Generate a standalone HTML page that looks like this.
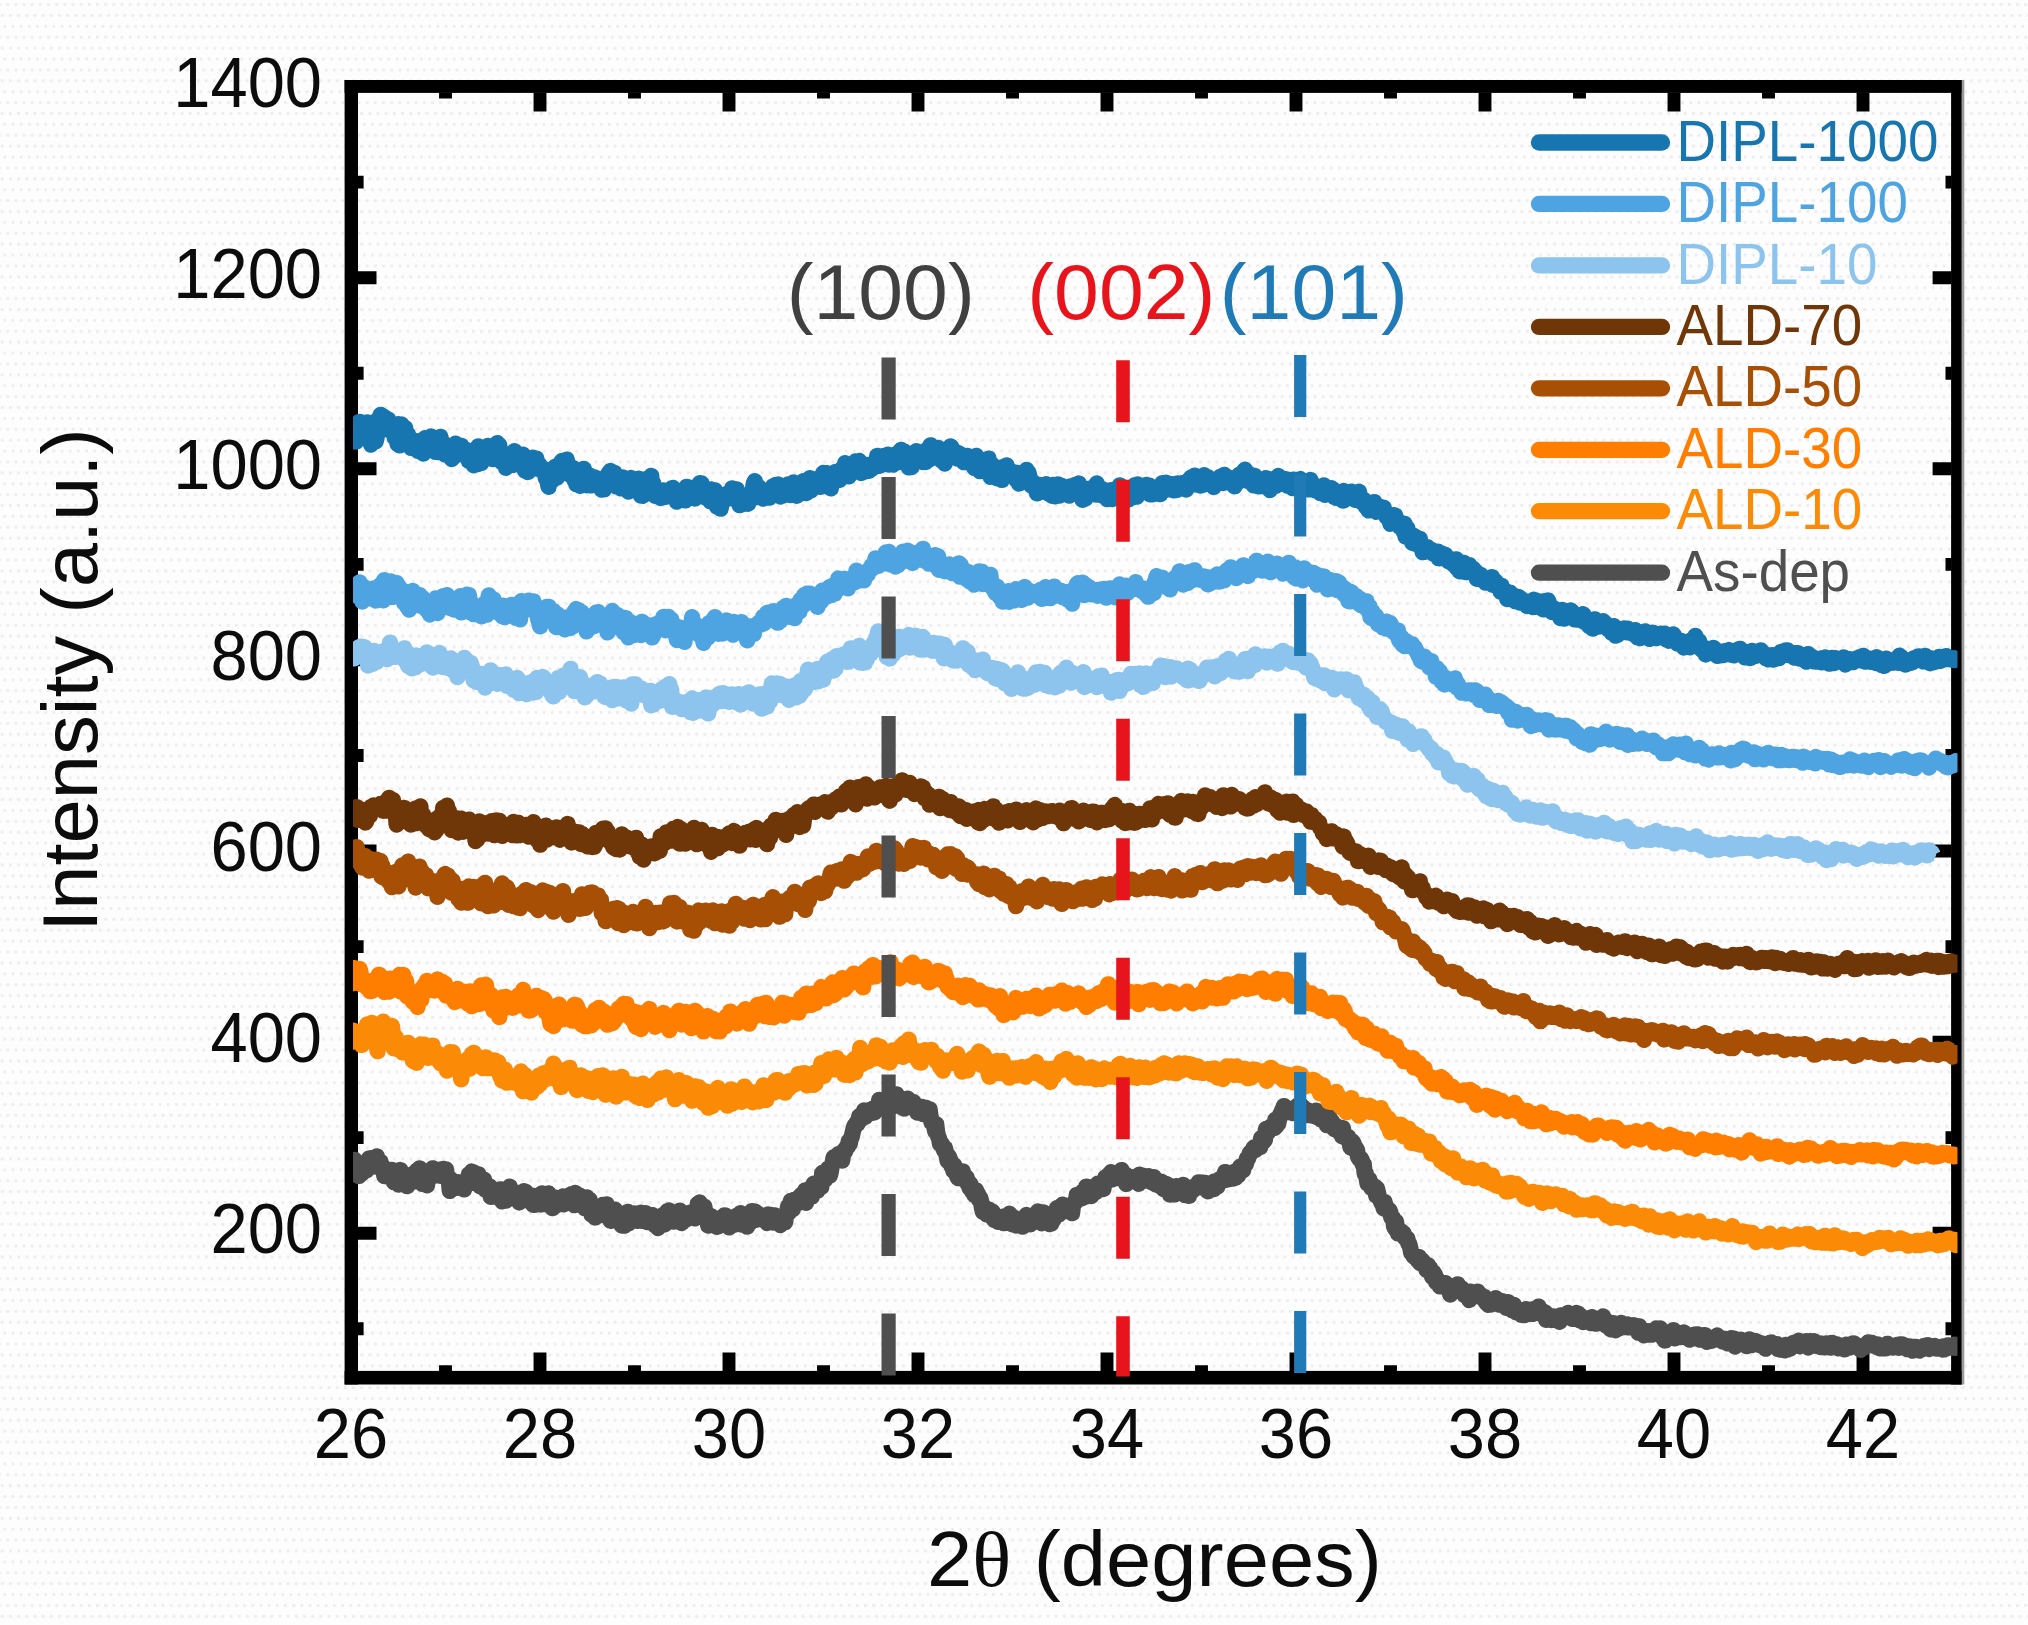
<!DOCTYPE html>
<html lang="en"><head><meta charset="utf-8"><title>XRD patterns</title>
<style>html,body{margin:0;padding:0;background:#fdfdfd}svg{display:block}</style></head>
<body>
<svg width="2028" height="1625" viewBox="0 0 2028 1625">
<rect width="2028" height="1625" fill="#fdfdfd"/>
<defs><pattern id="dots" width="8.17" height="32.67" patternUnits="userSpaceOnUse" patternTransform="translate(1967 3.1)"><rect x="0" y="0" width="3" height="3" fill="#eeeeee"/><rect x="2.72" y="10.89" width="3" height="3" fill="#eeeeee"/><rect x="5.45" y="21.78" width="3" height="3" fill="#eeeeee"/></pattern></defs>
<rect width="2028" height="1625" fill="url(#dots)"/>
<g fill="#000">
<rect x="344.6" y="80.0" width="1617.2" height="12.9"/>
<rect x="344.6" y="1370.9" width="1617.2" height="13.6"/>
<rect x="344.6" y="80.0" width="13.4" height="1304.5"/>
<rect x="1951.1" y="80.0" width="10.7" height="1304.5"/>
<rect x="1961.8" y="80.0" width="2.5" height="1304.5" fill="#9a9a9a"/>
</g>
<path d="M445.5 1371.4 v-6.1 M445.5 92.4 v6.1 M540.0 1371.4 v-19.0 M540.0 92.4 v19.0 M634.5 1371.4 v-6.1 M634.5 92.4 v6.1 M729.0 1371.4 v-19.0 M729.0 92.4 v19.0 M823.5 1371.4 v-6.1 M823.5 92.4 v6.1 M918.0 1371.4 v-19.0 M918.0 92.4 v19.0 M1012.5 1371.4 v-6.1 M1012.5 92.4 v6.1 M1107.0 1371.4 v-19.0 M1107.0 92.4 v19.0 M1201.5 1371.4 v-6.1 M1201.5 92.4 v6.1 M1296.0 1371.4 v-19.0 M1296.0 92.4 v19.0 M1390.5 1371.4 v-6.1 M1390.5 92.4 v6.1 M1485.0 1371.4 v-19.0 M1485.0 92.4 v19.0 M1579.5 1371.4 v-6.1 M1579.5 92.4 v6.1 M1674.0 1371.4 v-19.0 M1674.0 92.4 v19.0 M1768.5 1371.4 v-6.1 M1768.5 92.4 v6.1 M1863.0 1371.4 v-19.0 M1863.0 92.4 v19.0 M357.5 1328.8 h6.1 M1951.6 1328.8 h-6.1 M357.5 1233.2 h19.0 M1951.6 1233.2 h-19.0 M357.5 1137.6 h6.1 M1951.6 1137.6 h-6.1 M357.5 1042.1 h19.0 M1951.6 1042.1 h-19.0 M357.5 946.6 h6.1 M1951.6 946.6 h-6.1 M357.5 851.0 h19.0 M1951.6 851.0 h-19.0 M357.5 755.5 h6.1 M1951.6 755.5 h-6.1 M357.5 659.9 h19.0 M1951.6 659.9 h-19.0 M357.5 564.4 h6.1 M1951.6 564.4 h-6.1 M357.5 468.8 h19.0 M1951.6 468.8 h-19.0 M357.5 373.2 h6.1 M1951.6 373.2 h-6.1 M357.5 277.7 h19.0 M1951.6 277.7 h-19.0 M357.5 182.1 h6.1 M1951.6 182.1 h-6.1" stroke="#000" stroke-width="12.9" fill="none"/>
<clipPath id="cp"><rect x="353" y="0" width="1604.5" height="1625"/></clipPath>
<g fill="none" stroke-linejoin="round" stroke-linecap="butt" stroke-width="16.3" clip-path="url(#cp)">
<path stroke="#4f4f4f" d="M352.0 1158.8 L352.9 1161.4 L353.9 1160.6 L354.8 1159.9 L355.8 1163.6 L356.7 1163.2 L357.7 1169.3 L358.6 1176.0 L359.6 1169.2 L360.5 1169.2 L361.5 1173.8 L362.4 1172.7 L363.4 1170.9 L364.3 1165.6 L365.3 1168.3 L366.2 1170.5 L367.2 1161.3 L368.1 1164.6 L369.1 1158.4 L370.0 1160.8 L371.0 1158.3 L371.9 1164.7 L372.9 1160.2 L373.8 1166.5 L374.8 1165.9 L375.7 1164.5 L376.7 1156.4 L377.6 1163.7 L378.6 1166.4 L379.5 1167.9 L380.5 1161.9 L381.4 1167.2 L382.4 1166.0 L383.3 1167.6 L384.3 1176.0 L385.2 1168.8 L386.2 1172.3 L387.1 1176.4 L388.1 1170.6 L389.0 1172.8 L390.0 1174.2 L390.9 1174.6 L391.9 1170.0 L392.8 1176.1 L393.8 1182.1 L394.7 1170.8 L395.7 1181.0 L396.6 1178.0 L397.6 1174.5 L398.5 1184.6 L399.5 1178.7 L400.4 1170.0 L401.4 1175.0 L402.3 1177.4 L403.3 1175.2 L404.2 1180.0 L405.2 1178.2 L406.1 1182.3 L407.1 1186.2 L408.0 1177.9 L409.0 1181.5 L409.9 1178.4 L410.9 1180.3 L411.8 1174.3 L412.8 1176.1 L413.7 1177.0 L414.7 1180.8 L415.6 1181.2 L416.6 1170.7 L417.5 1172.7 L418.5 1178.7 L419.4 1168.4 L420.4 1175.3 L421.3 1177.5 L422.3 1183.8 L423.2 1182.0 L424.2 1178.3 L425.1 1178.3 L426.1 1178.6 L427.0 1185.3 L428.0 1176.7 L428.9 1176.1 L429.9 1177.5 L430.8 1174.4 L431.8 1173.0 L432.7 1168.3 L433.7 1171.9 L434.6 1169.5 L435.6 1175.5 L436.5 1173.1 L437.5 1170.3 L438.4 1173.3 L439.4 1169.6 L440.3 1175.8 L441.3 1172.3 L442.2 1175.5 L443.2 1168.9 L444.1 1176.6 L445.1 1169.6 L446.0 1169.4 L447.0 1177.6 L447.9 1176.4 L448.9 1181.8 L449.8 1190.9 L450.8 1179.4 L451.7 1180.8 L452.7 1184.4 L453.6 1185.8 L454.6 1183.4 L455.5 1183.6 L456.5 1187.8 L457.4 1187.8 L458.4 1182.2 L459.3 1186.6 L460.3 1187.3 L461.2 1182.8 L462.2 1187.7 L463.1 1182.7 L464.1 1189.4 L465.0 1185.7 L466.0 1184.7 L466.9 1181.4 L467.9 1182.6 L468.8 1174.3 L469.8 1176.9 L470.7 1182.1 L471.7 1171.5 L472.6 1182.8 L473.6 1172.3 L474.5 1182.3 L475.5 1176.3 L476.4 1183.1 L477.4 1180.8 L478.3 1174.4 L479.3 1185.5 L480.2 1186.3 L481.2 1180.5 L482.1 1180.1 L483.1 1181.5 L484.0 1179.6 L485.0 1189.5 L485.9 1184.8 L486.9 1188.4 L487.8 1186.7 L488.8 1188.2 L489.7 1186.3 L490.7 1196.8 L491.6 1191.7 L492.6 1196.7 L493.5 1193.6 L494.5 1191.4 L495.4 1193.3 L496.4 1192.6 L497.3 1194.9 L498.3 1193.4 L499.2 1193.6 L500.2 1189.3 L501.1 1191.6 L502.1 1201.4 L503.0 1192.4 L504.0 1191.0 L504.9 1196.5 L505.9 1200.5 L506.8 1188.9 L507.8 1193.4 L508.7 1191.3 L509.7 1186.6 L510.6 1196.4 L511.6 1193.8 L512.5 1194.8 L513.5 1192.4 L514.4 1198.0 L515.4 1194.8 L516.3 1196.8 L517.3 1193.3 L518.2 1192.9 L519.2 1202.5 L520.1 1194.7 L521.1 1197.0 L522.0 1194.7 L523.0 1192.2 L523.9 1191.2 L524.9 1195.4 L525.8 1192.0 L526.8 1193.2 L527.7 1195.0 L528.7 1200.8 L529.6 1200.4 L530.6 1200.6 L531.5 1198.0 L532.5 1195.6 L533.4 1204.9 L534.4 1204.9 L535.3 1200.3 L536.3 1202.5 L537.2 1203.0 L538.2 1202.9 L539.1 1203.0 L540.1 1197.3 L541.0 1204.5 L542.0 1193.3 L542.9 1200.8 L543.9 1198.9 L544.8 1200.1 L545.8 1204.1 L546.7 1203.1 L547.7 1194.1 L548.6 1193.4 L549.6 1204.6 L550.5 1199.0 L551.5 1204.1 L552.4 1208.1 L553.4 1199.0 L554.3 1197.3 L555.3 1206.1 L556.2 1205.1 L557.2 1203.7 L558.1 1204.6 L559.1 1201.0 L560.0 1198.2 L561.0 1203.0 L561.9 1199.5 L562.9 1196.5 L563.8 1204.3 L564.8 1201.8 L565.7 1203.2 L566.7 1197.3 L567.6 1197.8 L568.6 1195.6 L569.5 1195.2 L570.5 1198.5 L571.4 1194.2 L572.4 1198.3 L573.3 1198.4 L574.3 1205.1 L575.2 1192.8 L576.2 1202.2 L577.1 1199.2 L578.1 1200.2 L579.0 1195.3 L580.0 1199.5 L580.9 1204.4 L581.9 1201.7 L582.8 1202.8 L583.8 1202.0 L584.7 1208.2 L585.7 1204.6 L586.6 1197.3 L587.6 1203.8 L588.5 1199.7 L589.5 1199.6 L590.4 1206.6 L591.4 1214.5 L592.3 1210.7 L593.3 1207.1 L594.2 1209.0 L595.2 1217.5 L596.1 1214.4 L597.1 1214.1 L598.0 1213.6 L599.0 1213.3 L599.9 1215.3 L600.9 1213.2 L601.8 1210.7 L602.8 1205.0 L603.7 1210.1 L604.7 1205.4 L605.6 1212.4 L606.6 1204.3 L607.5 1209.7 L608.5 1211.6 L609.4 1208.1 L610.4 1220.7 L611.3 1220.8 L612.3 1214.5 L613.2 1219.8 L614.2 1218.9 L615.1 1209.7 L616.1 1219.3 L617.0 1218.7 L618.0 1219.9 L618.9 1216.2 L619.9 1219.8 L620.8 1220.5 L621.8 1225.6 L622.7 1222.2 L623.7 1220.4 L624.6 1225.6 L625.6 1217.4 L626.5 1217.6 L627.5 1211.8 L628.4 1223.6 L629.4 1220.5 L630.3 1219.3 L631.3 1217.5 L632.2 1214.8 L633.2 1214.9 L634.1 1213.3 L635.1 1213.9 L636.0 1215.2 L637.0 1220.9 L637.9 1217.5 L638.9 1215.2 L639.8 1213.1 L640.8 1212.7 L641.7 1220.9 L642.7 1217.1 L643.6 1215.9 L644.6 1215.1 L645.5 1213.2 L646.5 1217.9 L647.4 1222.2 L648.4 1218.2 L649.3 1219.3 L650.3 1219.7 L651.2 1221.1 L652.2 1215.1 L653.1 1220.4 L654.1 1218.6 L655.0 1225.4 L656.0 1219.8 L656.9 1224.8 L657.9 1228.0 L658.8 1220.8 L659.8 1219.0 L660.7 1221.1 L661.7 1219.6 L662.6 1215.2 L663.6 1219.7 L664.5 1224.4 L665.5 1215.3 L666.4 1214.7 L667.4 1211.1 L668.3 1215.9 L669.3 1210.5 L670.2 1211.5 L671.2 1220.7 L672.1 1213.2 L673.1 1220.4 L674.0 1221.6 L675.0 1216.4 L675.9 1216.8 L676.9 1221.4 L677.8 1213.6 L678.8 1212.6 L679.7 1210.7 L680.7 1216.8 L681.6 1223.1 L682.6 1222.1 L683.5 1215.9 L684.5 1216.3 L685.4 1217.2 L686.4 1219.3 L687.3 1216.4 L688.3 1216.6 L689.2 1215.7 L690.2 1212.6 L691.1 1212.8 L692.1 1213.3 L693.0 1212.1 L694.0 1213.9 L694.9 1218.4 L695.9 1213.3 L696.8 1210.8 L697.8 1203.9 L698.7 1210.9 L699.7 1202.5 L700.6 1204.6 L701.6 1213.1 L702.5 1213.3 L703.5 1211.2 L704.4 1206.7 L705.4 1212.8 L706.3 1213.0 L707.3 1218.9 L708.2 1225.6 L709.2 1219.5 L710.1 1216.7 L711.1 1216.0 L712.0 1220.5 L713.0 1220.7 L713.9 1217.8 L714.9 1222.8 L715.8 1218.7 L716.8 1226.8 L717.7 1226.5 L718.7 1226.1 L719.6 1219.9 L720.6 1222.6 L721.5 1219.6 L722.5 1218.2 L723.4 1218.3 L724.4 1215.3 L725.3 1215.6 L726.3 1224.4 L727.2 1221.9 L728.2 1224.1 L729.1 1227.3 L730.1 1217.9 L731.0 1221.0 L732.0 1223.8 L732.9 1223.8 L733.9 1220.3 L734.8 1224.5 L735.8 1221.1 L736.7 1215.7 L737.7 1216.6 L738.6 1222.6 L739.6 1221.4 L740.5 1213.2 L741.5 1224.5 L742.4 1221.9 L743.4 1224.5 L744.3 1218.5 L745.3 1218.7 L746.2 1215.5 L747.2 1226.7 L748.1 1217.9 L749.1 1223.5 L750.0 1215.3 L751.0 1217.8 L751.9 1211.1 L752.9 1215.2 L753.8 1219.6 L754.8 1211.7 L755.7 1219.8 L756.7 1217.6 L757.6 1213.4 L758.6 1216.1 L759.5 1217.0 L760.5 1219.1 L761.4 1217.9 L762.4 1217.2 L763.3 1219.1 L764.3 1216.7 L765.2 1215.8 L766.2 1220.0 L767.1 1223.0 L768.1 1214.5 L769.0 1219.3 L770.0 1216.6 L770.9 1214.9 L771.9 1220.8 L772.8 1215.8 L773.8 1222.7 L774.7 1215.3 L775.7 1219.9 L776.6 1218.7 L777.6 1217.9 L778.5 1223.5 L779.5 1221.9 L780.4 1225.1 L781.4 1223.1 L782.3 1219.2 L783.3 1221.7 L784.2 1220.9 L785.2 1222.2 L786.1 1213.7 L787.1 1214.3 L788.0 1206.3 L789.0 1212.3 L789.9 1204.6 L790.9 1200.8 L791.8 1205.9 L792.8 1209.3 L793.7 1200.0 L794.7 1201.1 L795.6 1201.7 L796.6 1199.4 L797.5 1203.4 L798.5 1198.0 L799.4 1197.0 L800.4 1200.3 L801.3 1194.9 L802.3 1198.4 L803.2 1193.3 L804.2 1192.5 L805.1 1190.4 L806.1 1202.9 L807.0 1195.2 L808.0 1196.4 L808.9 1194.3 L809.9 1193.5 L810.8 1191.7 L811.8 1196.6 L812.7 1185.8 L813.7 1183.6 L814.6 1185.3 L815.6 1184.1 L816.5 1190.9 L817.5 1190.7 L818.4 1183.8 L819.4 1181.1 L820.3 1183.0 L821.3 1186.9 L822.2 1173.0 L823.2 1180.3 L824.1 1173.5 L825.1 1179.6 L826.0 1171.7 L827.0 1173.7 L827.9 1168.8 L828.9 1169.4 L829.8 1175.7 L830.8 1171.9 L831.7 1165.9 L832.7 1162.5 L833.6 1157.4 L834.6 1160.9 L835.5 1160.8 L836.5 1159.5 L837.4 1158.4 L838.4 1154.1 L839.3 1156.7 L840.3 1156.0 L841.2 1159.5 L842.2 1160.6 L843.1 1153.2 L844.1 1150.2 L845.0 1151.6 L846.0 1148.6 L846.9 1146.6 L847.9 1146.8 L848.8 1141.1 L849.8 1143.7 L850.7 1138.5 L851.7 1136.9 L852.6 1132.8 L853.6 1128.5 L854.5 1125.6 L855.5 1125.9 L856.4 1123.0 L857.4 1124.0 L858.3 1121.9 L859.3 1116.3 L860.2 1120.1 L861.2 1114.7 L862.1 1116.5 L863.1 1116.9 L864.0 1110.5 L865.0 1117.0 L865.9 1116.4 L866.9 1114.6 L867.8 1112.9 L868.8 1112.3 L869.7 1109.8 L870.7 1111.8 L871.6 1110.8 L872.6 1112.8 L873.5 1108.3 L874.5 1112.4 L875.4 1111.2 L876.4 1109.1 L877.3 1106.8 L878.3 1108.5 L879.2 1099.8 L880.2 1105.4 L881.1 1103.8 L882.1 1103.5 L883.0 1103.9 L884.0 1101.2 L884.9 1103.5 L885.9 1107.4 L886.8 1107.6 L887.8 1107.1 L888.7 1101.2 L889.7 1106.9 L890.6 1107.8 L891.6 1106.1 L892.5 1102.6 L893.5 1096.2 L894.4 1104.0 L895.4 1100.7 L896.3 1094.4 L897.3 1103.2 L898.2 1097.6 L899.2 1098.6 L900.1 1100.9 L901.1 1107.0 L902.0 1101.7 L903.0 1103.8 L903.9 1108.6 L904.9 1108.1 L905.8 1102.7 L906.8 1102.1 L907.7 1098.6 L908.7 1100.1 L909.6 1103.5 L910.6 1103.5 L911.5 1103.0 L912.5 1106.5 L913.4 1101.9 L914.4 1105.3 L915.3 1109.1 L916.3 1109.9 L917.2 1112.5 L918.2 1111.4 L919.1 1109.9 L920.1 1112.6 L921.0 1108.6 L922.0 1106.8 L922.9 1114.0 L923.9 1112.3 L924.8 1113.8 L925.8 1107.9 L926.7 1112.7 L927.7 1112.6 L928.6 1112.5 L929.6 1109.2 L930.5 1116.5 L931.5 1122.3 L932.4 1123.0 L933.4 1122.5 L934.3 1126.9 L935.3 1131.7 L936.2 1124.4 L937.2 1132.7 L938.1 1136.4 L939.1 1138.6 L940.0 1143.8 L941.0 1144.2 L941.9 1143.9 L942.9 1146.2 L943.8 1149.9 L944.8 1147.8 L945.7 1151.3 L946.7 1156.1 L947.6 1161.1 L948.6 1156.2 L949.5 1158.2 L950.5 1160.8 L951.4 1166.2 L952.4 1164.0 L953.3 1170.8 L954.3 1165.4 L955.2 1169.8 L956.2 1171.6 L957.1 1176.2 L958.1 1178.1 L959.0 1170.9 L960.0 1173.0 L960.9 1177.0 L961.9 1173.9 L962.8 1171.4 L963.8 1179.6 L964.7 1178.5 L965.7 1179.4 L966.6 1177.5 L967.6 1183.7 L968.5 1181.7 L969.5 1188.1 L970.4 1184.3 L971.4 1186.8 L972.3 1191.9 L973.3 1190.3 L974.2 1195.0 L975.2 1193.8 L976.1 1190.4 L977.1 1194.0 L978.0 1194.0 L979.0 1199.8 L979.9 1197.2 L980.9 1200.1 L981.8 1207.1 L982.8 1211.7 L983.7 1212.4 L984.7 1207.6 L985.6 1209.2 L986.6 1214.4 L987.5 1210.6 L988.5 1209.3 L989.4 1213.9 L990.4 1216.0 L991.3 1213.1 L992.3 1211.4 L993.2 1212.9 L994.2 1220.0 L995.1 1216.4 L996.1 1218.9 L997.0 1220.3 L998.0 1221.8 L998.9 1219.0 L999.9 1221.6 L1000.8 1217.4 L1001.8 1218.9 L1002.7 1216.8 L1003.7 1223.2 L1004.6 1219.5 L1005.6 1217.2 L1006.5 1218.2 L1007.5 1218.4 L1008.4 1220.9 L1009.4 1213.7 L1010.3 1215.0 L1011.3 1216.7 L1012.2 1224.3 L1013.2 1220.6 L1014.1 1217.8 L1015.1 1220.9 L1016.0 1225.6 L1017.0 1219.3 L1017.9 1219.5 L1018.9 1224.6 L1019.8 1222.6 L1020.8 1223.2 L1021.7 1219.6 L1022.7 1226.7 L1023.6 1225.9 L1024.6 1222.5 L1025.5 1222.9 L1026.5 1215.0 L1027.4 1223.3 L1028.4 1221.3 L1029.3 1223.5 L1030.3 1224.4 L1031.2 1221.2 L1032.2 1216.7 L1033.1 1222.0 L1034.1 1217.9 L1035.0 1218.3 L1036.0 1216.9 L1036.9 1217.3 L1037.9 1211.5 L1038.8 1221.4 L1039.8 1218.4 L1040.7 1220.7 L1041.7 1223.2 L1042.6 1217.5 L1043.6 1212.5 L1044.5 1215.9 L1045.5 1216.0 L1046.4 1219.2 L1047.4 1222.0 L1048.3 1216.7 L1049.3 1224.1 L1050.2 1218.7 L1051.2 1223.6 L1052.1 1221.6 L1053.1 1219.8 L1054.0 1218.9 L1055.0 1215.7 L1055.9 1213.4 L1056.9 1208.2 L1057.8 1210.9 L1058.8 1214.5 L1059.7 1213.4 L1060.7 1210.6 L1061.6 1208.4 L1062.6 1204.6 L1063.5 1211.4 L1064.5 1208.0 L1065.4 1208.9 L1066.4 1209.1 L1067.3 1210.8 L1068.3 1209.4 L1069.2 1210.0 L1070.2 1206.3 L1071.1 1207.2 L1072.1 1213.1 L1073.0 1204.9 L1074.0 1202.5 L1074.9 1202.9 L1075.9 1201.6 L1076.8 1194.8 L1077.8 1196.1 L1078.7 1198.4 L1079.7 1195.8 L1080.6 1194.8 L1081.6 1198.5 L1082.5 1191.6 L1083.5 1193.3 L1084.4 1191.2 L1085.4 1196.7 L1086.3 1186.6 L1087.3 1190.3 L1088.2 1190.7 L1089.2 1194.2 L1090.1 1194.0 L1091.1 1196.1 L1092.0 1187.4 L1093.0 1193.8 L1093.9 1190.4 L1094.9 1189.0 L1095.8 1192.0 L1096.8 1187.4 L1097.7 1183.7 L1098.7 1188.1 L1099.6 1184.3 L1100.6 1186.0 L1101.5 1188.0 L1102.5 1186.7 L1103.4 1189.0 L1104.4 1182.5 L1105.3 1177.3 L1106.3 1178.2 L1107.2 1176.7 L1108.2 1175.1 L1109.1 1179.3 L1110.1 1176.0 L1111.0 1172.1 L1112.0 1179.5 L1112.9 1177.1 L1113.9 1178.1 L1114.8 1176.9 L1115.8 1177.7 L1116.7 1175.4 L1117.7 1178.1 L1118.6 1175.3 L1119.6 1174.9 L1120.5 1175.0 L1121.5 1170.1 L1122.4 1174.5 L1123.4 1175.3 L1124.3 1177.7 L1125.3 1174.6 L1126.2 1184.0 L1127.2 1180.7 L1128.1 1177.7 L1129.1 1176.7 L1130.0 1180.7 L1131.0 1181.0 L1131.9 1178.8 L1132.9 1180.5 L1133.8 1177.9 L1134.8 1180.8 L1135.7 1176.8 L1136.7 1178.3 L1137.6 1180.8 L1138.6 1183.8 L1139.5 1174.6 L1140.5 1176.1 L1141.4 1175.3 L1142.4 1180.3 L1143.3 1175.8 L1144.3 1178.5 L1145.2 1180.6 L1146.2 1178.6 L1147.1 1179.1 L1148.1 1180.6 L1149.0 1176.2 L1150.0 1178.1 L1150.9 1180.9 L1151.9 1182.5 L1152.8 1181.5 L1153.8 1177.1 L1154.7 1180.8 L1155.7 1184.4 L1156.6 1184.1 L1157.6 1182.8 L1158.5 1181.1 L1159.5 1185.8 L1160.4 1183.0 L1161.4 1181.7 L1162.3 1182.8 L1163.3 1189.0 L1164.2 1185.6 L1165.2 1188.3 L1166.1 1184.0 L1167.1 1188.4 L1168.0 1185.0 L1169.0 1187.2 L1169.9 1194.6 L1170.9 1191.6 L1171.8 1188.8 L1172.8 1190.5 L1173.7 1191.9 L1174.7 1194.4 L1175.6 1189.7 L1176.6 1186.1 L1177.5 1189.5 L1178.5 1189.6 L1179.4 1189.1 L1180.4 1191.6 L1181.3 1188.4 L1182.3 1189.6 L1183.2 1184.9 L1184.2 1190.9 L1185.1 1195.2 L1186.1 1192.5 L1187.0 1191.7 L1188.0 1191.7 L1188.9 1195.9 L1189.9 1188.1 L1190.8 1189.7 L1191.8 1190.5 L1192.7 1190.5 L1193.7 1186.7 L1194.6 1188.1 L1195.6 1186.0 L1196.5 1186.5 L1197.5 1185.4 L1198.4 1182.3 L1199.4 1185.1 L1200.3 1187.4 L1201.3 1182.6 L1202.2 1184.8 L1203.2 1187.4 L1204.1 1183.0 L1205.1 1186.3 L1206.0 1183.0 L1207.0 1188.6 L1207.9 1191.3 L1208.9 1190.7 L1209.8 1184.7 L1210.8 1187.2 L1211.7 1185.6 L1212.7 1185.5 L1213.6 1189.2 L1214.6 1181.3 L1215.5 1187.1 L1216.5 1183.5 L1217.4 1186.6 L1218.4 1182.5 L1219.3 1179.4 L1220.3 1181.0 L1221.2 1181.5 L1222.2 1179.1 L1223.1 1179.8 L1224.1 1176.7 L1225.0 1172.1 L1226.0 1179.8 L1226.9 1179.0 L1227.9 1177.3 L1228.8 1176.8 L1229.8 1179.0 L1230.7 1174.8 L1231.7 1173.9 L1232.6 1175.1 L1233.6 1178.5 L1234.5 1171.6 L1235.5 1177.8 L1236.4 1172.2 L1237.4 1170.1 L1238.3 1175.2 L1239.3 1170.6 L1240.2 1166.6 L1241.2 1168.2 L1242.1 1170.6 L1243.1 1170.2 L1244.0 1164.6 L1245.0 1165.1 L1245.9 1164.0 L1246.9 1158.5 L1247.8 1159.1 L1248.8 1156.4 L1249.7 1153.5 L1250.7 1152.1 L1251.6 1152.2 L1252.6 1150.8 L1253.5 1148.0 L1254.5 1147.2 L1255.4 1150.0 L1256.4 1146.7 L1257.3 1147.4 L1258.3 1147.0 L1259.2 1144.2 L1260.2 1147.1 L1261.1 1138.1 L1262.1 1141.0 L1263.0 1137.0 L1264.0 1141.3 L1264.9 1139.7 L1265.9 1129.0 L1266.8 1130.1 L1267.8 1132.6 L1268.7 1131.4 L1269.7 1129.8 L1270.6 1126.6 L1271.6 1127.1 L1272.5 1127.2 L1273.5 1125.3 L1274.4 1128.1 L1275.4 1119.7 L1276.3 1126.1 L1277.3 1120.6 L1278.2 1123.7 L1279.2 1118.5 L1280.1 1114.6 L1281.1 1115.6 L1282.0 1110.5 L1283.0 1108.9 L1283.9 1106.1 L1284.9 1109.2 L1285.8 1110.1 L1286.8 1111.3 L1287.7 1108.6 L1288.7 1112.0 L1289.6 1109.9 L1290.6 1110.0 L1291.5 1111.9 L1292.5 1113.2 L1293.4 1109.5 L1294.4 1109.4 L1295.3 1109.1 L1296.3 1109.1 L1297.2 1106.0 L1298.2 1110.2 L1299.1 1106.2 L1300.1 1108.3 L1301.0 1105.3 L1302.0 1108.7 L1302.9 1109.4 L1303.9 1108.0 L1304.8 1114.6 L1305.8 1111.1 L1306.7 1115.2 L1307.7 1113.9 L1308.6 1110.7 L1309.6 1112.4 L1310.5 1115.3 L1311.5 1115.2 L1312.4 1115.7 L1313.4 1115.2 L1314.3 1111.6 L1315.3 1115.5 L1316.2 1110.7 L1317.2 1117.3 L1318.1 1115.0 L1319.1 1115.6 L1320.0 1117.6 L1321.0 1119.5 L1321.9 1116.1 L1322.9 1115.9 L1323.8 1118.1 L1324.8 1116.1 L1325.7 1118.9 L1326.7 1125.1 L1327.6 1118.6 L1328.6 1122.6 L1329.5 1117.6 L1330.5 1121.8 L1331.4 1120.8 L1332.4 1122.3 L1333.3 1124.9 L1334.3 1129.1 L1335.2 1126.8 L1336.2 1127.9 L1337.1 1126.5 L1338.1 1131.2 L1339.0 1130.0 L1340.0 1133.1 L1340.9 1131.4 L1341.9 1136.2 L1342.8 1128.0 L1343.8 1133.1 L1344.7 1137.3 L1345.7 1135.8 L1346.6 1136.2 L1347.6 1138.8 L1348.5 1137.2 L1349.5 1141.6 L1350.4 1147.3 L1351.4 1145.6 L1352.3 1141.2 L1353.3 1143.0 L1354.2 1145.6 L1355.2 1150.7 L1356.1 1148.2 L1357.1 1150.5 L1358.0 1156.4 L1359.0 1158.6 L1359.9 1158.0 L1360.9 1158.7 L1361.8 1160.2 L1362.8 1164.8 L1363.7 1163.9 L1364.7 1173.6 L1365.6 1172.9 L1366.6 1178.0 L1367.5 1183.4 L1368.5 1183.6 L1369.4 1179.8 L1370.4 1185.9 L1371.3 1187.9 L1372.3 1184.7 L1373.2 1185.5 L1374.2 1188.9 L1375.1 1186.9 L1376.1 1195.6 L1377.0 1188.6 L1378.0 1192.9 L1378.9 1196.6 L1379.9 1198.5 L1380.8 1201.3 L1381.8 1203.4 L1382.7 1203.9 L1383.7 1208.4 L1384.6 1202.0 L1385.6 1208.0 L1386.5 1207.2 L1387.5 1210.1 L1388.4 1211.4 L1389.4 1210.1 L1390.3 1212.3 L1391.3 1217.5 L1392.2 1218.5 L1393.2 1218.2 L1394.1 1226.5 L1395.1 1228.7 L1396.0 1221.9 L1397.0 1227.5 L1397.9 1233.3 L1398.9 1231.3 L1399.8 1231.2 L1400.8 1231.3 L1401.7 1231.5 L1402.7 1233.3 L1403.6 1233.5 L1404.6 1237.7 L1405.5 1236.7 L1406.5 1238.4 L1407.4 1238.8 L1408.4 1243.7 L1409.3 1244.0 L1410.3 1247.9 L1411.2 1252.8 L1412.2 1253.3 L1413.1 1255.5 L1414.1 1256.7 L1415.0 1257.3 L1416.0 1257.7 L1416.9 1257.9 L1417.9 1260.7 L1418.8 1256.9 L1419.8 1263.0 L1420.7 1260.7 L1421.7 1259.9 L1422.6 1261.5 L1423.6 1262.1 L1424.5 1265.2 L1425.5 1264.4 L1426.4 1270.0 L1427.4 1267.1 L1428.3 1265.3 L1429.3 1270.0 L1430.2 1268.2 L1431.2 1273.6 L1432.1 1276.8 L1433.1 1276.6 L1434.0 1273.0 L1435.0 1275.2 L1435.9 1281.9 L1436.9 1279.7 L1437.8 1280.0 L1438.8 1283.2 L1439.7 1286.4 L1440.7 1285.0 L1441.6 1283.0 L1442.6 1284.1 L1443.5 1285.3 L1444.5 1283.3 L1445.4 1283.1 L1446.4 1286.5 L1447.3 1285.1 L1448.3 1288.0 L1449.2 1289.1 L1450.2 1294.5 L1451.1 1288.1 L1452.1 1289.9 L1453.0 1289.6 L1454.0 1290.5 L1454.9 1291.3 L1455.9 1287.4 L1456.8 1286.3 L1457.8 1284.3 L1458.7 1286.1 L1459.7 1289.8 L1460.6 1289.4 L1461.6 1288.1 L1462.5 1290.6 L1463.5 1292.7 L1464.4 1295.0 L1465.4 1293.6 L1466.3 1295.2 L1467.3 1292.3 L1468.2 1294.0 L1469.2 1300.0 L1470.1 1291.6 L1471.1 1295.5 L1472.0 1296.6 L1473.0 1295.2 L1473.9 1294.2 L1474.9 1295.8 L1475.8 1295.9 L1476.8 1295.7 L1477.7 1291.7 L1478.7 1295.4 L1479.6 1293.9 L1480.6 1294.6 L1481.5 1296.6 L1482.5 1297.9 L1483.4 1299.2 L1484.4 1297.0 L1485.3 1301.1 L1486.3 1302.7 L1487.2 1303.6 L1488.2 1304.9 L1489.1 1302.1 L1490.1 1302.3 L1491.0 1304.5 L1492.0 1299.6 L1492.9 1302.7 L1493.9 1300.9 L1494.8 1301.1 L1495.8 1298.2 L1496.7 1300.0 L1497.7 1302.0 L1498.6 1304.1 L1499.6 1304.6 L1500.5 1302.5 L1501.5 1302.4 L1502.4 1301.2 L1503.4 1303.9 L1504.3 1302.7 L1505.3 1304.9 L1506.2 1307.8 L1507.2 1304.6 L1508.1 1302.2 L1509.1 1304.2 L1510.0 1303.5 L1511.0 1304.5 L1511.9 1310.1 L1512.9 1308.2 L1513.8 1304.9 L1514.8 1310.1 L1515.7 1312.1 L1516.7 1309.5 L1517.6 1309.7 L1518.6 1311.0 L1519.5 1312.8 L1520.5 1313.7 L1521.4 1314.9 L1522.4 1314.9 L1523.3 1314.8 L1524.3 1315.1 L1525.2 1313.6 L1526.2 1309.1 L1527.1 1312.0 L1528.1 1312.9 L1529.0 1311.4 L1530.0 1313.9 L1530.9 1310.9 L1531.9 1309.4 L1532.8 1313.9 L1533.8 1311.9 L1534.7 1310.8 L1535.7 1312.3 L1536.6 1312.7 L1537.6 1311.5 L1538.5 1306.6 L1539.5 1310.1 L1540.4 1310.8 L1541.4 1310.0 L1542.3 1312.8 L1543.3 1315.4 L1544.2 1312.8 L1545.2 1312.4 L1546.1 1319.8 L1547.1 1315.7 L1548.0 1314.9 L1549.0 1318.4 L1549.9 1319.1 L1550.9 1316.9 L1551.8 1320.0 L1552.8 1317.4 L1553.7 1316.5 L1554.7 1318.7 L1555.6 1319.9 L1556.6 1316.9 L1557.5 1318.6 L1558.5 1317.5 L1559.4 1321.8 L1560.4 1315.5 L1561.3 1319.3 L1562.3 1315.9 L1563.2 1315.1 L1564.2 1316.2 L1565.1 1316.0 L1566.1 1316.5 L1567.0 1314.6 L1568.0 1313.0 L1568.9 1313.7 L1569.9 1316.3 L1570.8 1316.9 L1571.8 1318.8 L1572.7 1316.9 L1573.7 1318.1 L1574.6 1318.9 L1575.6 1316.2 L1576.5 1313.0 L1577.5 1313.8 L1578.4 1313.7 L1579.4 1320.1 L1580.3 1315.7 L1581.3 1320.3 L1582.2 1319.4 L1583.2 1322.0 L1584.1 1320.9 L1585.1 1319.0 L1586.0 1319.0 L1587.0 1319.7 L1587.9 1319.9 L1588.9 1318.6 L1589.8 1319.7 L1590.8 1323.2 L1591.7 1317.1 L1592.7 1321.4 L1593.6 1319.7 L1594.6 1322.2 L1595.5 1323.7 L1596.5 1321.9 L1597.4 1323.3 L1598.4 1318.3 L1599.3 1323.1 L1600.3 1319.4 L1601.2 1321.7 L1602.2 1320.9 L1603.1 1316.5 L1604.1 1319.8 L1605.0 1322.2 L1606.0 1325.5 L1606.9 1323.8 L1607.9 1324.6 L1608.8 1322.1 L1609.8 1328.2 L1610.7 1329.4 L1611.7 1326.3 L1612.6 1325.9 L1613.6 1323.2 L1614.5 1327.9 L1615.5 1330.3 L1616.4 1327.3 L1617.4 1328.3 L1618.3 1326.8 L1619.3 1323.8 L1620.2 1328.0 L1621.2 1323.0 L1622.1 1324.9 L1623.1 1325.9 L1624.0 1327.2 L1625.0 1326.6 L1625.9 1326.8 L1626.9 1325.0 L1627.8 1324.4 L1628.8 1327.3 L1629.7 1326.2 L1630.7 1325.4 L1631.6 1325.8 L1632.6 1327.5 L1633.5 1325.1 L1634.5 1326.2 L1635.4 1325.8 L1636.4 1329.2 L1637.3 1329.6 L1638.3 1332.7 L1639.2 1326.3 L1640.2 1328.2 L1641.1 1331.7 L1642.1 1330.3 L1643.0 1330.8 L1644.0 1335.4 L1644.9 1332.2 L1645.9 1331.2 L1646.8 1331.2 L1647.8 1334.5 L1648.7 1334.5 L1649.7 1331.4 L1650.6 1332.0 L1651.6 1334.7 L1652.5 1334.4 L1653.5 1331.8 L1654.4 1333.7 L1655.4 1333.1 L1656.3 1328.4 L1657.3 1330.9 L1658.2 1332.2 L1659.2 1330.7 L1660.1 1328.4 L1661.1 1332.6 L1662.0 1335.4 L1663.0 1337.9 L1663.9 1331.9 L1664.9 1340.5 L1665.8 1334.6 L1666.8 1338.2 L1667.7 1338.2 L1668.7 1337.0 L1669.6 1334.9 L1670.6 1332.0 L1671.5 1335.1 L1672.5 1332.7 L1673.4 1330.2 L1674.4 1338.3 L1675.3 1335.6 L1676.3 1337.6 L1677.2 1332.5 L1678.2 1336.7 L1679.1 1337.0 L1680.1 1337.1 L1681.0 1334.7 L1682.0 1333.1 L1682.9 1335.5 L1683.9 1332.4 L1684.8 1333.7 L1685.8 1337.1 L1686.7 1335.1 L1687.7 1336.4 L1688.6 1336.3 L1689.6 1339.7 L1690.5 1338.5 L1691.5 1336.1 L1692.4 1338.4 L1693.4 1335.0 L1694.3 1335.9 L1695.3 1338.2 L1696.2 1334.5 L1697.2 1336.3 L1698.1 1334.5 L1699.1 1337.0 L1700.0 1339.7 L1701.0 1335.5 L1701.9 1337.2 L1702.9 1335.3 L1703.8 1335.1 L1704.8 1335.2 L1705.7 1340.2 L1706.7 1341.9 L1707.6 1339.3 L1708.6 1337.6 L1709.5 1340.4 L1710.5 1338.9 L1711.4 1340.9 L1712.4 1339.9 L1713.3 1339.5 L1714.3 1339.8 L1715.2 1337.4 L1716.2 1337.6 L1717.1 1335.5 L1718.1 1338.1 L1719.0 1336.9 L1720.0 1339.6 L1720.9 1338.7 L1721.9 1340.9 L1722.8 1341.7 L1723.8 1338.6 L1724.7 1339.6 L1725.7 1339.2 L1726.6 1341.9 L1727.6 1343.4 L1728.5 1341.7 L1729.5 1339.6 L1730.4 1342.9 L1731.4 1338.2 L1732.3 1343.9 L1733.3 1340.8 L1734.2 1338.7 L1735.2 1346.6 L1736.1 1345.7 L1737.1 1341.2 L1738.0 1343.0 L1739.0 1342.1 L1739.9 1342.4 L1740.9 1339.6 L1741.8 1340.9 L1742.8 1343.0 L1743.7 1342.7 L1744.7 1344.5 L1745.6 1342.6 L1746.6 1346.2 L1747.5 1341.3 L1748.5 1343.0 L1749.4 1339.4 L1750.4 1340.7 L1751.3 1345.2 L1752.3 1341.4 L1753.2 1343.8 L1754.2 1342.7 L1755.1 1340.9 L1756.1 1342.0 L1757.0 1341.8 L1758.0 1342.2 L1758.9 1344.7 L1759.9 1345.1 L1760.8 1343.6 L1761.8 1343.4 L1762.7 1345.5 L1763.7 1345.0 L1764.6 1346.8 L1765.6 1348.7 L1766.5 1346.4 L1767.5 1344.9 L1768.4 1344.5 L1769.4 1343.1 L1770.3 1342.8 L1771.3 1342.5 L1772.2 1343.4 L1773.2 1343.5 L1774.1 1345.8 L1775.1 1344.5 L1776.0 1345.4 L1777.0 1344.2 L1777.9 1349.1 L1778.9 1347.4 L1779.8 1349.5 L1780.8 1347.8 L1781.7 1348.9 L1782.7 1346.1 L1783.6 1347.7 L1784.6 1350.3 L1785.5 1344.9 L1786.5 1348.8 L1787.4 1349.7 L1788.4 1347.6 L1789.3 1347.9 L1790.3 1348.4 L1791.2 1344.7 L1792.2 1345.8 L1793.1 1343.1 L1794.1 1342.8 L1795.0 1342.4 L1796.0 1342.8 L1796.9 1343.1 L1797.9 1343.6 L1798.8 1340.7 L1799.8 1346.4 L1800.7 1345.2 L1801.7 1344.6 L1802.6 1343.0 L1803.6 1343.4 L1804.5 1344.5 L1805.5 1344.4 L1806.4 1341.1 L1807.4 1345.2 L1808.3 1347.5 L1809.3 1341.1 L1810.2 1345.4 L1811.2 1344.2 L1812.1 1343.1 L1813.1 1345.3 L1814.0 1341.2 L1815.0 1343.5 L1815.9 1345.7 L1816.9 1343.3 L1817.8 1343.1 L1818.8 1344.2 L1819.7 1343.6 L1820.7 1347.1 L1821.6 1343.6 L1822.6 1346.9 L1823.5 1344.0 L1824.5 1347.4 L1825.4 1346.4 L1826.4 1343.3 L1827.3 1346.5 L1828.3 1344.5 L1829.2 1345.0 L1830.2 1347.7 L1831.1 1343.1 L1832.1 1342.9 L1833.0 1346.8 L1834.0 1344.9 L1834.9 1347.4 L1835.9 1345.8 L1836.8 1344.4 L1837.8 1346.0 L1838.7 1348.3 L1839.7 1348.0 L1840.6 1346.6 L1841.6 1346.6 L1842.5 1346.2 L1843.5 1345.4 L1844.4 1349.3 L1845.4 1346.3 L1846.3 1344.7 L1847.3 1345.8 L1848.2 1347.7 L1849.2 1347.7 L1850.1 1346.4 L1851.1 1345.4 L1852.0 1346.2 L1853.0 1343.3 L1853.9 1343.6 L1854.9 1346.6 L1855.8 1344.6 L1856.8 1346.1 L1857.7 1347.6 L1858.7 1347.1 L1859.6 1346.5 L1860.6 1349.9 L1861.5 1347.8 L1862.5 1346.3 L1863.4 1347.8 L1864.4 1347.2 L1865.3 1345.0 L1866.3 1346.0 L1867.2 1345.3 L1868.2 1342.3 L1869.1 1344.9 L1870.1 1344.7 L1871.0 1344.6 L1872.0 1343.0 L1872.9 1345.2 L1873.9 1345.8 L1874.8 1346.1 L1875.8 1344.3 L1876.7 1347.0 L1877.7 1344.3 L1878.6 1345.9 L1879.6 1348.3 L1880.5 1345.5 L1881.5 1345.9 L1882.4 1348.3 L1883.4 1346.1 L1884.3 1346.3 L1885.3 1347.1 L1886.2 1348.4 L1887.2 1343.8 L1888.1 1345.8 L1889.1 1345.6 L1890.0 1345.6 L1891.0 1345.9 L1891.9 1346.0 L1892.9 1347.6 L1893.8 1345.7 L1894.8 1347.0 L1895.7 1347.0 L1896.7 1345.0 L1897.6 1345.9 L1898.6 1347.8 L1899.5 1345.8 L1900.5 1344.4 L1901.4 1345.4 L1902.4 1344.5 L1903.3 1346.5 L1904.3 1347.7 L1905.2 1345.7 L1906.2 1347.0 L1907.1 1349.1 L1908.1 1347.1 L1909.0 1348.2 L1910.0 1346.5 L1910.9 1346.7 L1911.9 1347.1 L1912.8 1350.7 L1913.8 1347.0 L1914.7 1346.9 L1915.7 1346.9 L1916.6 1347.5 L1917.6 1348.7 L1918.5 1348.1 L1919.5 1350.6 L1920.4 1348.0 L1921.4 1349.6 L1922.3 1348.0 L1923.3 1348.5 L1924.2 1345.8 L1925.2 1347.8 L1926.1 1348.0 L1927.1 1347.8 L1928.0 1345.2 L1929.0 1349.1 L1929.9 1347.1 L1930.9 1346.8 L1931.8 1346.9 L1932.8 1347.0 L1933.7 1348.0 L1934.7 1346.0 L1935.6 1346.8 L1936.6 1348.7 L1937.5 1348.7 L1938.5 1348.1 L1939.4 1347.8 L1940.4 1347.3 L1941.3 1348.1 L1942.3 1349.5 L1943.2 1346.3 L1944.2 1349.4 L1945.1 1348.4 L1946.1 1346.6 L1947.0 1348.3 L1948.0 1345.4 L1948.9 1345.3 L1949.9 1346.0 L1950.8 1347.2 L1951.8 1347.4 L1952.7 1347.1 L1953.7 1347.7 L1954.6 1344.6 L1955.6 1347.8 L1956.5 1345.0"/>
<path stroke="#fb8a06" d="M352.0 1036.9 L352.9 1030.6 L353.9 1037.4 L354.8 1041.6 L355.8 1036.8 L356.7 1041.8 L357.7 1035.0 L358.6 1036.6 L359.6 1034.5 L360.5 1037.8 L361.5 1044.9 L362.4 1036.7 L363.4 1035.0 L364.3 1030.0 L365.3 1028.2 L366.2 1038.0 L367.2 1024.4 L368.1 1024.9 L369.1 1028.9 L370.0 1028.1 L371.0 1041.2 L371.9 1022.9 L372.9 1037.8 L373.8 1042.0 L374.8 1035.3 L375.7 1039.2 L376.7 1045.3 L377.6 1051.1 L378.6 1037.9 L379.5 1033.2 L380.5 1043.7 L381.4 1044.1 L382.4 1032.9 L383.3 1021.7 L384.3 1037.8 L385.2 1028.7 L386.2 1034.7 L387.1 1029.3 L388.1 1028.5 L389.0 1029.4 L390.0 1040.2 L390.9 1041.6 L391.9 1025.8 L392.8 1033.3 L393.8 1048.3 L394.7 1039.9 L395.7 1037.3 L396.6 1046.1 L397.6 1047.6 L398.5 1049.4 L399.5 1048.7 L400.4 1050.0 L401.4 1049.2 L402.3 1052.3 L403.3 1045.6 L404.2 1046.7 L405.2 1045.9 L406.1 1051.4 L407.1 1045.8 L408.0 1042.8 L409.0 1046.0 L409.9 1046.3 L410.9 1051.5 L411.8 1051.4 L412.8 1060.5 L413.7 1061.1 L414.7 1056.7 L415.6 1056.2 L416.6 1062.8 L417.5 1060.5 L418.5 1056.3 L419.4 1048.0 L420.4 1044.5 L421.3 1053.3 L422.3 1054.3 L423.2 1054.2 L424.2 1044.7 L425.1 1056.9 L426.1 1050.9 L427.0 1056.6 L428.0 1057.8 L428.9 1052.5 L429.9 1053.4 L430.8 1045.9 L431.8 1050.7 L432.7 1045.7 L433.7 1055.8 L434.6 1053.9 L435.6 1058.4 L436.5 1056.7 L437.5 1053.4 L438.4 1059.6 L439.4 1057.5 L440.3 1063.2 L441.3 1062.4 L442.2 1056.5 L443.2 1061.3 L444.1 1061.7 L445.1 1060.3 L446.0 1066.4 L447.0 1070.6 L447.9 1061.0 L448.9 1061.0 L449.8 1052.2 L450.8 1061.8 L451.7 1060.4 L452.7 1052.4 L453.6 1064.3 L454.6 1066.3 L455.5 1060.7 L456.5 1063.3 L457.4 1061.6 L458.4 1070.9 L459.3 1061.4 L460.3 1068.1 L461.2 1079.4 L462.2 1070.5 L463.1 1072.0 L464.1 1068.1 L465.0 1061.9 L466.0 1065.8 L466.9 1066.6 L467.9 1059.0 L468.8 1064.7 L469.8 1068.5 L470.7 1067.2 L471.7 1054.2 L472.6 1056.3 L473.6 1052.8 L474.5 1065.1 L475.5 1063.1 L476.4 1064.1 L477.4 1057.5 L478.3 1056.9 L479.3 1063.4 L480.2 1064.0 L481.2 1060.0 L482.1 1065.1 L483.1 1068.1 L484.0 1066.9 L485.0 1061.8 L485.9 1057.5 L486.9 1066.4 L487.8 1068.2 L488.8 1065.7 L489.7 1064.2 L490.7 1062.2 L491.6 1068.2 L492.6 1064.4 L493.5 1065.3 L494.5 1060.4 L495.4 1062.4 L496.4 1066.6 L497.3 1062.1 L498.3 1062.1 L499.2 1067.8 L500.2 1076.4 L501.1 1073.3 L502.1 1080.6 L503.0 1074.4 L504.0 1074.3 L504.9 1069.8 L505.9 1073.6 L506.8 1082.7 L507.8 1077.3 L508.7 1079.1 L509.7 1079.2 L510.6 1076.5 L511.6 1076.4 L512.5 1078.9 L513.5 1082.4 L514.4 1082.2 L515.4 1082.8 L516.3 1081.5 L517.3 1077.4 L518.2 1079.7 L519.2 1076.6 L520.1 1085.6 L521.1 1071.5 L522.0 1080.2 L523.0 1091.2 L523.9 1079.3 L524.9 1075.2 L525.8 1079.7 L526.8 1085.1 L527.7 1078.3 L528.7 1082.0 L529.6 1080.4 L530.6 1079.5 L531.5 1092.6 L532.5 1084.1 L533.4 1082.2 L534.4 1082.6 L535.3 1086.3 L536.3 1085.9 L537.2 1086.8 L538.2 1083.3 L539.1 1075.5 L540.1 1083.9 L541.0 1079.6 L542.0 1079.3 L542.9 1073.5 L543.9 1077.4 L544.8 1076.5 L545.8 1079.3 L546.7 1072.4 L547.7 1078.4 L548.6 1077.6 L549.6 1070.8 L550.5 1072.0 L551.5 1070.2 L552.4 1077.7 L553.4 1063.7 L554.3 1072.4 L555.3 1067.1 L556.2 1073.5 L557.2 1080.2 L558.1 1074.5 L559.1 1078.7 L560.0 1074.6 L561.0 1087.0 L561.9 1081.9 L562.9 1082.1 L563.8 1070.2 L564.8 1070.4 L565.7 1079.3 L566.7 1072.8 L567.6 1072.0 L568.6 1074.5 L569.5 1067.8 L570.5 1077.8 L571.4 1075.9 L572.4 1079.6 L573.3 1076.3 L574.3 1083.3 L575.2 1079.5 L576.2 1088.2 L577.1 1090.0 L578.1 1089.7 L579.0 1088.2 L580.0 1088.5 L580.9 1075.4 L581.9 1088.3 L582.8 1082.9 L583.8 1084.3 L584.7 1082.6 L585.7 1078.0 L586.6 1082.1 L587.6 1087.6 L588.5 1090.8 L589.5 1081.5 L590.4 1079.7 L591.4 1089.7 L592.3 1079.0 L593.3 1092.0 L594.2 1083.1 L595.2 1079.0 L596.1 1087.3 L597.1 1090.3 L598.0 1076.2 L599.0 1089.1 L599.9 1080.7 L600.9 1088.3 L601.8 1080.2 L602.8 1075.5 L603.7 1085.5 L604.7 1088.5 L605.6 1094.7 L606.6 1093.8 L607.5 1089.6 L608.5 1085.6 L609.4 1084.3 L610.4 1085.3 L611.3 1083.3 L612.3 1086.3 L613.2 1078.3 L614.2 1088.9 L615.1 1087.7 L616.1 1096.5 L617.0 1089.0 L618.0 1082.3 L618.9 1086.0 L619.9 1078.0 L620.8 1081.3 L621.8 1076.9 L622.7 1092.5 L623.7 1089.9 L624.6 1082.9 L625.6 1088.1 L626.5 1092.4 L627.5 1090.3 L628.4 1089.6 L629.4 1084.0 L630.3 1084.8 L631.3 1088.0 L632.2 1091.9 L633.2 1084.9 L634.1 1084.6 L635.1 1095.5 L636.0 1087.5 L637.0 1096.8 L637.9 1093.2 L638.9 1095.3 L639.8 1097.9 L640.8 1092.1 L641.7 1091.5 L642.7 1083.7 L643.6 1084.7 L644.6 1091.1 L645.5 1095.7 L646.5 1095.9 L647.4 1099.9 L648.4 1092.0 L649.3 1091.4 L650.3 1094.7 L651.2 1090.3 L652.2 1089.9 L653.1 1085.6 L654.1 1094.3 L655.0 1085.2 L656.0 1091.5 L656.9 1082.6 L657.9 1092.5 L658.8 1082.5 L659.8 1089.6 L660.7 1078.6 L661.7 1083.2 L662.6 1090.1 L663.6 1081.9 L664.5 1086.1 L665.5 1084.3 L666.4 1077.5 L667.4 1088.6 L668.3 1089.4 L669.3 1083.1 L670.2 1090.4 L671.2 1084.9 L672.1 1084.5 L673.1 1089.3 L674.0 1086.8 L675.0 1099.2 L675.9 1083.1 L676.9 1092.4 L677.8 1093.0 L678.8 1080.1 L679.7 1081.1 L680.7 1091.1 L681.6 1087.2 L682.6 1091.6 L683.5 1095.5 L684.5 1089.7 L685.4 1087.4 L686.4 1083.1 L687.3 1093.8 L688.3 1089.5 L689.2 1095.2 L690.2 1095.0 L691.1 1088.0 L692.1 1100.7 L693.0 1097.3 L694.0 1095.6 L694.9 1086.4 L695.9 1089.4 L696.8 1088.8 L697.8 1089.6 L698.7 1087.2 L699.7 1094.5 L700.6 1094.6 L701.6 1096.4 L702.5 1094.1 L703.5 1103.1 L704.4 1099.9 L705.4 1091.3 L706.3 1099.0 L707.3 1102.6 L708.2 1107.7 L709.2 1103.1 L710.1 1103.5 L711.1 1101.5 L712.0 1106.2 L713.0 1100.2 L713.9 1097.9 L714.9 1095.5 L715.8 1099.2 L716.8 1093.5 L717.7 1088.0 L718.7 1097.5 L719.6 1092.4 L720.6 1097.5 L721.5 1098.2 L722.5 1102.3 L723.4 1102.0 L724.4 1095.6 L725.3 1097.5 L726.3 1093.1 L727.2 1105.6 L728.2 1100.6 L729.1 1104.4 L730.1 1097.0 L731.0 1089.4 L732.0 1103.7 L732.9 1097.6 L733.9 1097.8 L734.8 1097.8 L735.8 1100.4 L736.7 1100.0 L737.7 1090.9 L738.6 1101.3 L739.6 1093.9 L740.5 1093.5 L741.5 1101.9 L742.4 1098.2 L743.4 1092.8 L744.3 1086.6 L745.3 1095.0 L746.2 1096.8 L747.2 1094.8 L748.1 1090.7 L749.1 1093.3 L750.0 1092.1 L751.0 1098.8 L751.9 1101.6 L752.9 1102.3 L753.8 1094.6 L754.8 1097.6 L755.7 1097.7 L756.7 1092.2 L757.6 1092.8 L758.6 1101.4 L759.5 1093.4 L760.5 1096.1 L761.4 1090.7 L762.4 1092.6 L763.3 1085.4 L764.3 1092.0 L765.2 1096.6 L766.2 1100.0 L767.1 1096.1 L768.1 1094.0 L769.0 1091.4 L770.0 1088.7 L770.9 1090.2 L771.9 1092.9 L772.8 1086.6 L773.8 1092.7 L774.7 1084.3 L775.7 1080.5 L776.6 1083.1 L777.6 1080.1 L778.5 1081.0 L779.5 1090.8 L780.4 1085.3 L781.4 1086.9 L782.3 1090.8 L783.3 1091.6 L784.2 1084.9 L785.2 1092.7 L786.1 1089.3 L787.1 1087.8 L788.0 1089.2 L789.0 1081.1 L789.9 1082.7 L790.9 1084.2 L791.8 1085.8 L792.8 1080.6 L793.7 1080.3 L794.7 1083.5 L795.6 1084.1 L796.6 1080.4 L797.5 1081.5 L798.5 1074.1 L799.4 1074.0 L800.4 1076.3 L801.3 1073.9 L802.3 1073.4 L803.2 1082.5 L804.2 1075.7 L805.1 1073.3 L806.1 1079.7 L807.0 1085.5 L808.0 1078.8 L808.9 1083.4 L809.9 1076.7 L810.8 1076.3 L811.8 1075.2 L812.7 1077.2 L813.7 1084.8 L814.6 1072.7 L815.6 1083.4 L816.5 1072.3 L817.5 1074.3 L818.4 1077.2 L819.4 1074.9 L820.3 1072.0 L821.3 1063.1 L822.2 1069.9 L823.2 1063.7 L824.1 1075.8 L825.1 1065.9 L826.0 1067.0 L827.0 1061.2 L827.9 1063.1 L828.9 1059.3 L829.8 1067.6 L830.8 1062.4 L831.7 1065.5 L832.7 1060.9 L833.6 1062.0 L834.6 1069.4 L835.5 1061.0 L836.5 1057.9 L837.4 1066.6 L838.4 1060.5 L839.3 1063.2 L840.3 1068.7 L841.2 1062.4 L842.2 1069.8 L843.1 1064.8 L844.1 1074.3 L845.0 1074.7 L846.0 1068.6 L846.9 1070.1 L847.9 1067.9 L848.8 1071.8 L849.8 1075.0 L850.7 1064.4 L851.7 1072.8 L852.6 1063.2 L853.6 1063.9 L854.5 1059.0 L855.5 1072.4 L856.4 1062.7 L857.4 1061.5 L858.3 1056.0 L859.3 1061.2 L860.2 1047.9 L861.2 1055.7 L862.1 1064.3 L863.1 1055.2 L864.0 1057.7 L865.0 1061.1 L865.9 1055.8 L866.9 1058.8 L867.8 1061.5 L868.8 1057.2 L869.7 1056.5 L870.7 1052.6 L871.6 1054.4 L872.6 1053.2 L873.5 1058.7 L874.5 1056.1 L875.4 1052.7 L876.4 1045.3 L877.3 1056.4 L878.3 1056.6 L879.2 1050.5 L880.2 1046.8 L881.1 1050.7 L882.1 1059.3 L883.0 1052.3 L884.0 1055.0 L884.9 1057.7 L885.9 1061.5 L886.8 1056.7 L887.8 1056.2 L888.7 1054.4 L889.7 1062.5 L890.6 1060.3 L891.6 1055.7 L892.5 1050.5 L893.5 1052.3 L894.4 1056.8 L895.4 1051.1 L896.3 1056.3 L897.3 1053.3 L898.2 1052.1 L899.2 1052.7 L900.1 1051.6 L901.1 1046.1 L902.0 1047.8 L903.0 1056.9 L903.9 1043.5 L904.9 1045.3 L905.8 1050.1 L906.8 1044.6 L907.7 1041.5 L908.7 1039.6 L909.6 1047.2 L910.6 1050.2 L911.5 1053.3 L912.5 1050.3 L913.4 1056.0 L914.4 1050.0 L915.3 1056.0 L916.3 1054.0 L917.2 1058.1 L918.2 1060.7 L919.1 1062.2 L920.1 1054.5 L921.0 1062.7 L922.0 1055.8 L922.9 1053.1 L923.9 1055.6 L924.8 1050.1 L925.8 1054.9 L926.7 1055.6 L927.7 1053.5 L928.6 1056.2 L929.6 1053.3 L930.5 1054.8 L931.5 1050.0 L932.4 1056.1 L933.4 1053.7 L934.3 1056.2 L935.3 1058.8 L936.2 1061.1 L937.2 1055.7 L938.1 1057.2 L939.1 1062.8 L940.0 1066.4 L941.0 1066.6 L941.9 1069.0 L942.9 1070.7 L943.8 1067.7 L944.8 1065.4 L945.7 1061.1 L946.7 1060.6 L947.6 1061.5 L948.6 1063.4 L949.5 1062.6 L950.5 1061.3 L951.4 1060.3 L952.4 1062.7 L953.3 1060.5 L954.3 1060.2 L955.2 1059.5 L956.2 1055.9 L957.1 1053.9 L958.1 1059.7 L959.0 1060.3 L960.0 1059.4 L960.9 1060.3 L961.9 1071.6 L962.8 1062.2 L963.8 1065.2 L964.7 1067.2 L965.7 1061.7 L966.6 1065.5 L967.6 1070.3 L968.5 1065.8 L969.5 1063.3 L970.4 1062.0 L971.4 1059.4 L972.3 1061.9 L973.3 1057.8 L974.2 1057.1 L975.2 1059.4 L976.1 1062.7 L977.1 1060.8 L978.0 1061.8 L979.0 1051.5 L979.9 1062.2 L980.9 1064.9 L981.8 1061.4 L982.8 1055.6 L983.7 1054.8 L984.7 1060.6 L985.6 1058.5 L986.6 1067.4 L987.5 1065.6 L988.5 1073.4 L989.4 1076.7 L990.4 1065.6 L991.3 1074.1 L992.3 1069.9 L993.2 1066.2 L994.2 1067.5 L995.1 1067.4 L996.1 1070.7 L997.0 1060.9 L998.0 1069.7 L998.9 1073.1 L999.9 1068.0 L1000.8 1067.7 L1001.8 1065.5 L1002.7 1061.1 L1003.7 1067.0 L1004.6 1066.7 L1005.6 1068.6 L1006.5 1075.1 L1007.5 1071.6 L1008.4 1072.3 L1009.4 1077.7 L1010.3 1068.3 L1011.3 1069.0 L1012.2 1071.0 L1013.2 1068.9 L1014.1 1072.6 L1015.1 1068.3 L1016.0 1075.4 L1017.0 1074.8 L1017.9 1072.5 L1018.9 1068.9 L1019.8 1072.7 L1020.8 1073.5 L1021.7 1067.1 L1022.7 1072.2 L1023.6 1073.7 L1024.6 1072.2 L1025.5 1076.8 L1026.5 1075.3 L1027.4 1067.6 L1028.4 1070.4 L1029.3 1066.5 L1030.3 1071.0 L1031.2 1065.6 L1032.2 1071.6 L1033.1 1069.5 L1034.1 1071.2 L1035.0 1067.0 L1036.0 1062.2 L1036.9 1073.3 L1037.9 1066.4 L1038.8 1071.9 L1039.8 1069.0 L1040.7 1070.6 L1041.7 1075.7 L1042.6 1071.9 L1043.6 1077.1 L1044.5 1068.7 L1045.5 1078.2 L1046.4 1075.3 L1047.4 1076.2 L1048.3 1076.8 L1049.3 1077.7 L1050.2 1081.8 L1051.2 1069.0 L1052.1 1074.6 L1053.1 1070.9 L1054.0 1076.2 L1055.0 1069.6 L1055.9 1071.5 L1056.9 1067.5 L1057.8 1070.4 L1058.8 1071.0 L1059.7 1065.7 L1060.7 1066.8 L1061.6 1061.4 L1062.6 1066.9 L1063.5 1068.5 L1064.5 1063.5 L1065.4 1069.4 L1066.4 1059.0 L1067.3 1060.8 L1068.3 1063.7 L1069.2 1068.1 L1070.2 1071.0 L1071.1 1071.5 L1072.1 1071.8 L1073.0 1074.3 L1074.0 1069.7 L1074.9 1066.5 L1075.9 1066.2 L1076.8 1077.6 L1077.8 1063.3 L1078.7 1070.7 L1079.7 1076.8 L1080.6 1074.1 L1081.6 1070.2 L1082.5 1073.4 L1083.5 1076.5 L1084.4 1077.7 L1085.4 1070.6 L1086.3 1076.1 L1087.3 1074.3 L1088.2 1077.1 L1089.2 1077.8 L1090.1 1071.6 L1091.1 1067.3 L1092.0 1072.9 L1093.0 1077.1 L1093.9 1073.3 L1094.9 1072.1 L1095.8 1079.3 L1096.8 1069.3 L1097.7 1076.6 L1098.7 1072.1 L1099.6 1074.4 L1100.6 1074.5 L1101.5 1079.1 L1102.5 1070.7 L1103.4 1072.0 L1104.4 1068.5 L1105.3 1075.4 L1106.3 1072.2 L1107.2 1074.9 L1108.2 1069.8 L1109.1 1072.0 L1110.1 1076.6 L1111.0 1072.8 L1112.0 1075.8 L1112.9 1075.8 L1113.9 1073.1 L1114.8 1069.0 L1115.8 1077.1 L1116.7 1073.7 L1117.7 1075.6 L1118.6 1064.9 L1119.6 1065.6 L1120.5 1063.9 L1121.5 1068.5 L1122.4 1075.5 L1123.4 1074.7 L1124.3 1073.4 L1125.3 1074.5 L1126.2 1076.7 L1127.2 1073.1 L1128.1 1075.1 L1129.1 1073.8 L1130.0 1065.8 L1131.0 1071.5 L1131.9 1077.2 L1132.9 1071.7 L1133.8 1072.8 L1134.8 1071.6 L1135.7 1072.4 L1136.7 1077.9 L1137.6 1073.6 L1138.6 1071.3 L1139.5 1067.5 L1140.5 1072.9 L1141.4 1068.3 L1142.4 1068.5 L1143.3 1076.8 L1144.3 1076.3 L1145.2 1067.7 L1146.2 1076.9 L1147.1 1075.9 L1148.1 1072.2 L1149.0 1077.3 L1150.0 1069.6 L1150.9 1070.7 L1151.9 1069.4 L1152.8 1069.9 L1153.8 1075.8 L1154.7 1068.2 L1155.7 1068.4 L1156.6 1068.8 L1157.6 1072.2 L1158.5 1070.1 L1159.5 1073.5 L1160.4 1067.7 L1161.4 1064.9 L1162.3 1066.4 L1163.3 1067.2 L1164.2 1063.4 L1165.2 1066.9 L1166.1 1071.9 L1167.1 1064.7 L1168.0 1067.5 L1169.0 1072.6 L1169.9 1067.1 L1170.9 1067.3 L1171.8 1067.1 L1172.8 1072.3 L1173.7 1072.7 L1174.7 1070.3 L1175.6 1070.2 L1176.6 1073.2 L1177.5 1071.1 L1178.5 1063.4 L1179.4 1067.7 L1180.4 1068.3 L1181.3 1070.7 L1182.3 1068.2 L1183.2 1067.2 L1184.2 1067.8 L1185.1 1063.4 L1186.1 1068.5 L1187.0 1066.2 L1188.0 1069.1 L1188.9 1064.1 L1189.9 1065.9 L1190.8 1064.5 L1191.8 1064.8 L1192.7 1071.2 L1193.7 1068.4 L1194.6 1072.1 L1195.6 1067.7 L1196.5 1071.8 L1197.5 1066.3 L1198.4 1069.9 L1199.4 1069.6 L1200.3 1072.7 L1201.3 1071.2 L1202.2 1069.8 L1203.2 1072.9 L1204.1 1070.7 L1205.1 1071.7 L1206.0 1072.3 L1207.0 1069.8 L1207.9 1069.2 L1208.9 1071.3 L1209.8 1069.2 L1210.8 1072.0 L1211.7 1074.5 L1212.7 1074.1 L1213.6 1070.7 L1214.6 1068.4 L1215.5 1072.8 L1216.5 1073.1 L1217.4 1077.5 L1218.4 1073.3 L1219.3 1074.1 L1220.3 1077.1 L1221.2 1073.3 L1222.2 1073.9 L1223.1 1079.0 L1224.1 1077.4 L1225.0 1073.7 L1226.0 1071.4 L1226.9 1066.4 L1227.9 1070.2 L1228.8 1068.1 L1229.8 1068.5 L1230.7 1066.4 L1231.7 1068.5 L1232.6 1068.7 L1233.6 1070.9 L1234.5 1074.8 L1235.5 1072.1 L1236.4 1066.4 L1237.4 1069.0 L1238.3 1067.7 L1239.3 1070.7 L1240.2 1075.2 L1241.2 1075.0 L1242.1 1071.9 L1243.1 1074.3 L1244.0 1071.0 L1245.0 1068.9 L1245.9 1069.0 L1246.9 1071.0 L1247.8 1078.2 L1248.8 1070.1 L1249.7 1077.8 L1250.7 1077.7 L1251.6 1072.4 L1252.6 1072.0 L1253.5 1069.4 L1254.5 1070.5 L1255.4 1072.1 L1256.4 1070.0 L1257.3 1073.2 L1258.3 1074.3 L1259.2 1072.5 L1260.2 1073.4 L1261.1 1073.2 L1262.1 1075.2 L1263.0 1071.4 L1264.0 1076.3 L1264.9 1075.6 L1265.9 1072.2 L1266.8 1080.8 L1267.8 1071.1 L1268.7 1071.2 L1269.7 1074.5 L1270.6 1067.8 L1271.6 1071.2 L1272.5 1068.8 L1273.5 1070.2 L1274.4 1072.4 L1275.4 1073.4 L1276.3 1075.6 L1277.3 1074.8 L1278.2 1076.3 L1279.2 1075.2 L1280.1 1072.7 L1281.1 1077.9 L1282.0 1073.6 L1283.0 1073.7 L1283.9 1080.4 L1284.9 1078.8 L1285.8 1077.8 L1286.8 1080.1 L1287.7 1081.1 L1288.7 1075.0 L1289.6 1079.1 L1290.6 1076.1 L1291.5 1079.8 L1292.5 1077.0 L1293.4 1082.4 L1294.4 1079.3 L1295.3 1074.9 L1296.3 1077.0 L1297.2 1073.7 L1298.2 1077.9 L1299.1 1080.2 L1300.1 1080.3 L1301.0 1074.8 L1302.0 1080.3 L1302.9 1083.5 L1303.9 1083.5 L1304.8 1086.4 L1305.8 1079.5 L1306.7 1084.8 L1307.7 1081.3 L1308.6 1083.5 L1309.6 1083.9 L1310.5 1084.5 L1311.5 1080.8 L1312.4 1083.3 L1313.4 1079.9 L1314.3 1080.1 L1315.3 1086.8 L1316.2 1086.2 L1317.2 1082.6 L1318.1 1085.6 L1319.1 1088.6 L1320.0 1093.4 L1321.0 1092.3 L1321.9 1092.1 L1322.9 1085.4 L1323.8 1091.3 L1324.8 1094.1 L1325.7 1095.0 L1326.7 1096.2 L1327.6 1095.2 L1328.6 1101.5 L1329.5 1101.0 L1330.5 1096.5 L1331.4 1093.6 L1332.4 1101.8 L1333.3 1093.7 L1334.3 1098.1 L1335.2 1099.9 L1336.2 1091.9 L1337.1 1096.1 L1338.1 1095.4 L1339.0 1099.4 L1340.0 1100.6 L1340.9 1107.0 L1341.9 1104.9 L1342.8 1104.6 L1343.8 1108.8 L1344.7 1105.4 L1345.7 1105.2 L1346.6 1112.2 L1347.6 1103.0 L1348.5 1103.4 L1349.5 1104.3 L1350.4 1101.0 L1351.4 1098.2 L1352.3 1107.7 L1353.3 1103.3 L1354.2 1104.9 L1355.2 1106.3 L1356.1 1105.4 L1357.1 1105.7 L1358.0 1109.5 L1359.0 1115.6 L1359.9 1111.4 L1360.9 1111.4 L1361.8 1105.0 L1362.8 1109.1 L1363.7 1105.8 L1364.7 1111.2 L1365.6 1108.4 L1366.6 1109.2 L1367.5 1109.0 L1368.5 1107.9 L1369.4 1105.7 L1370.4 1112.0 L1371.3 1106.9 L1372.3 1107.7 L1373.2 1110.1 L1374.2 1108.8 L1375.1 1111.1 L1376.1 1112.9 L1377.0 1110.7 L1378.0 1110.9 L1378.9 1111.1 L1379.9 1114.4 L1380.8 1108.1 L1381.8 1115.4 L1382.7 1113.0 L1383.7 1113.3 L1384.6 1118.0 L1385.6 1118.3 L1386.5 1122.6 L1387.5 1125.7 L1388.4 1118.5 L1389.4 1125.6 L1390.3 1132.2 L1391.3 1129.9 L1392.2 1131.8 L1393.2 1128.2 L1394.1 1124.0 L1395.1 1124.9 L1396.0 1130.0 L1397.0 1131.0 L1397.9 1126.7 L1398.9 1128.2 L1399.8 1129.9 L1400.8 1124.7 L1401.7 1128.7 L1402.7 1134.3 L1403.6 1136.2 L1404.6 1130.6 L1405.5 1136.6 L1406.5 1131.1 L1407.4 1131.2 L1408.4 1128.6 L1409.3 1137.9 L1410.3 1135.1 L1411.2 1142.9 L1412.2 1138.4 L1413.1 1138.6 L1414.1 1133.8 L1415.0 1143.2 L1416.0 1138.9 L1416.9 1140.2 L1417.9 1135.6 L1418.8 1144.3 L1419.8 1144.5 L1420.7 1140.1 L1421.7 1141.5 L1422.6 1141.8 L1423.6 1143.1 L1424.5 1140.9 L1425.5 1145.8 L1426.4 1141.6 L1427.4 1142.1 L1428.3 1144.2 L1429.3 1141.6 L1430.2 1146.9 L1431.2 1153.3 L1432.1 1152.5 L1433.1 1150.5 L1434.0 1154.1 L1435.0 1148.0 L1435.9 1152.7 L1436.9 1154.9 L1437.8 1155.6 L1438.8 1152.2 L1439.7 1157.3 L1440.7 1160.8 L1441.6 1156.1 L1442.6 1160.6 L1443.5 1156.1 L1444.5 1156.5 L1445.4 1164.5 L1446.4 1164.0 L1447.3 1165.0 L1448.3 1163.1 L1449.2 1163.7 L1450.2 1166.2 L1451.1 1168.0 L1452.1 1162.5 L1453.0 1158.4 L1454.0 1165.9 L1454.9 1164.5 L1455.9 1165.6 L1456.8 1165.5 L1457.8 1172.5 L1458.7 1168.6 L1459.7 1171.4 L1460.6 1166.6 L1461.6 1170.8 L1462.5 1171.1 L1463.5 1173.0 L1464.4 1174.0 L1465.4 1171.0 L1466.3 1177.2 L1467.3 1169.7 L1468.2 1170.9 L1469.2 1172.4 L1470.1 1168.5 L1471.1 1173.3 L1472.0 1173.8 L1473.0 1172.0 L1473.9 1178.3 L1474.9 1174.3 L1475.8 1175.3 L1476.8 1172.5 L1477.7 1170.8 L1478.7 1173.4 L1479.6 1174.2 L1480.6 1173.8 L1481.5 1177.0 L1482.5 1169.9 L1483.4 1173.0 L1484.4 1171.9 L1485.3 1180.6 L1486.3 1176.5 L1487.2 1177.4 L1488.2 1176.6 L1489.1 1182.1 L1490.1 1179.2 L1491.0 1181.1 L1492.0 1175.6 L1492.9 1183.9 L1493.9 1182.3 L1494.8 1183.1 L1495.8 1185.4 L1496.7 1182.5 L1497.7 1183.2 L1498.6 1186.0 L1499.6 1185.7 L1500.5 1184.4 L1501.5 1185.4 L1502.4 1184.3 L1503.4 1187.7 L1504.3 1188.6 L1505.3 1186.7 L1506.2 1191.6 L1507.2 1183.3 L1508.1 1186.5 L1509.1 1191.3 L1510.0 1185.9 L1511.0 1183.0 L1511.9 1190.4 L1512.9 1188.4 L1513.8 1184.1 L1514.8 1189.0 L1515.7 1184.6 L1516.7 1183.9 L1517.6 1187.0 L1518.6 1186.7 L1519.5 1186.0 L1520.5 1188.9 L1521.4 1188.7 L1522.4 1192.7 L1523.3 1193.8 L1524.3 1196.7 L1525.2 1194.4 L1526.2 1192.5 L1527.1 1192.4 L1528.1 1194.7 L1529.0 1198.8 L1530.0 1196.9 L1530.9 1193.1 L1531.9 1196.9 L1532.8 1191.8 L1533.8 1197.2 L1534.7 1194.0 L1535.7 1196.8 L1536.6 1196.5 L1537.6 1194.4 L1538.5 1196.0 L1539.5 1193.0 L1540.4 1196.0 L1541.4 1199.4 L1542.3 1202.8 L1543.3 1199.5 L1544.2 1198.2 L1545.2 1195.5 L1546.1 1200.2 L1547.1 1193.5 L1548.0 1195.4 L1549.0 1198.2 L1549.9 1194.5 L1550.9 1201.2 L1551.8 1200.3 L1552.8 1196.4 L1553.7 1196.5 L1554.7 1194.7 L1555.6 1194.5 L1556.6 1198.9 L1557.5 1199.3 L1558.5 1198.7 L1559.4 1198.7 L1560.4 1197.1 L1561.3 1199.8 L1562.3 1196.0 L1563.2 1200.2 L1564.2 1204.2 L1565.1 1204.2 L1566.1 1200.2 L1567.0 1200.7 L1568.0 1205.0 L1568.9 1206.3 L1569.9 1199.0 L1570.8 1202.1 L1571.8 1204.1 L1572.7 1206.8 L1573.7 1202.1 L1574.6 1205.7 L1575.6 1203.5 L1576.5 1209.6 L1577.5 1205.7 L1578.4 1205.0 L1579.4 1205.2 L1580.3 1209.2 L1581.3 1209.0 L1582.2 1205.5 L1583.2 1209.0 L1584.1 1205.6 L1585.1 1207.0 L1586.0 1205.7 L1587.0 1205.5 L1587.9 1206.8 L1588.9 1206.0 L1589.8 1209.5 L1590.8 1210.1 L1591.7 1207.8 L1592.7 1205.8 L1593.6 1210.1 L1594.6 1203.4 L1595.5 1203.3 L1596.5 1209.1 L1597.4 1208.8 L1598.4 1209.6 L1599.3 1207.2 L1600.3 1205.4 L1601.2 1207.8 L1602.2 1211.0 L1603.1 1208.7 L1604.1 1209.6 L1605.0 1208.8 L1606.0 1210.0 L1606.9 1215.3 L1607.9 1215.1 L1608.8 1212.2 L1609.8 1213.1 L1610.7 1214.9 L1611.7 1217.8 L1612.6 1214.1 L1613.6 1216.3 L1614.5 1211.5 L1615.5 1213.1 L1616.4 1216.4 L1617.4 1217.1 L1618.3 1212.2 L1619.3 1212.9 L1620.2 1216.5 L1621.2 1214.1 L1622.1 1214.0 L1623.1 1216.8 L1624.0 1216.4 L1625.0 1218.7 L1625.9 1218.1 L1626.9 1214.9 L1627.8 1215.8 L1628.8 1215.7 L1629.7 1212.6 L1630.7 1213.3 L1631.6 1217.6 L1632.6 1212.0 L1633.5 1217.8 L1634.5 1216.5 L1635.4 1215.8 L1636.4 1217.5 L1637.3 1217.6 L1638.3 1219.3 L1639.2 1215.9 L1640.2 1216.4 L1641.1 1216.5 L1642.1 1221.3 L1643.0 1219.4 L1644.0 1215.6 L1644.9 1217.2 L1645.9 1216.7 L1646.8 1218.7 L1647.8 1219.6 L1648.7 1224.6 L1649.7 1216.4 L1650.6 1223.3 L1651.6 1222.8 L1652.5 1220.9 L1653.5 1222.6 L1654.4 1222.3 L1655.4 1223.8 L1656.3 1226.0 L1657.3 1220.6 L1658.2 1226.8 L1659.2 1223.1 L1660.1 1227.0 L1661.1 1224.5 L1662.0 1226.1 L1663.0 1224.4 L1663.9 1225.4 L1664.9 1223.0 L1665.8 1220.9 L1666.8 1224.1 L1667.7 1224.4 L1668.7 1227.7 L1669.6 1219.4 L1670.6 1223.9 L1671.5 1227.1 L1672.5 1222.7 L1673.4 1225.2 L1674.4 1230.3 L1675.3 1228.7 L1676.3 1223.6 L1677.2 1228.3 L1678.2 1227.6 L1679.1 1226.7 L1680.1 1225.9 L1681.0 1225.7 L1682.0 1223.4 L1682.9 1224.2 L1683.9 1227.0 L1684.8 1225.8 L1685.8 1229.6 L1686.7 1225.2 L1687.7 1221.5 L1688.6 1225.6 L1689.6 1227.0 L1690.5 1227.4 L1691.5 1227.0 L1692.4 1225.4 L1693.4 1230.4 L1694.3 1225.9 L1695.3 1228.7 L1696.2 1226.3 L1697.2 1224.0 L1698.1 1229.1 L1699.1 1221.4 L1700.0 1224.2 L1701.0 1227.1 L1701.9 1225.9 L1702.9 1228.6 L1703.8 1227.2 L1704.8 1226.8 L1705.7 1232.4 L1706.7 1227.8 L1707.6 1228.3 L1708.6 1226.8 L1709.5 1227.9 L1710.5 1231.0 L1711.4 1231.1 L1712.4 1230.0 L1713.3 1228.5 L1714.3 1231.2 L1715.2 1226.2 L1716.2 1229.0 L1717.1 1229.2 L1718.1 1228.0 L1719.0 1230.2 L1720.0 1228.5 L1720.9 1228.3 L1721.9 1233.6 L1722.8 1231.5 L1723.8 1232.6 L1724.7 1230.3 L1725.7 1232.2 L1726.6 1231.8 L1727.6 1232.5 L1728.5 1234.4 L1729.5 1229.4 L1730.4 1230.4 L1731.4 1229.9 L1732.3 1226.1 L1733.3 1228.2 L1734.2 1231.6 L1735.2 1233.4 L1736.1 1231.4 L1737.1 1235.0 L1738.0 1235.4 L1739.0 1232.0 L1739.9 1235.7 L1740.9 1236.4 L1741.8 1234.1 L1742.8 1231.4 L1743.7 1236.5 L1744.7 1233.4 L1745.6 1233.0 L1746.6 1233.9 L1747.5 1232.4 L1748.5 1235.3 L1749.4 1234.6 L1750.4 1235.6 L1751.3 1234.8 L1752.3 1232.8 L1753.2 1235.0 L1754.2 1238.0 L1755.1 1236.4 L1756.1 1242.0 L1757.0 1237.4 L1758.0 1236.7 L1758.9 1239.8 L1759.9 1238.8 L1760.8 1237.3 L1761.8 1237.1 L1762.7 1238.8 L1763.7 1240.1 L1764.6 1240.5 L1765.6 1238.7 L1766.5 1240.1 L1767.5 1240.6 L1768.4 1239.9 L1769.4 1233.6 L1770.3 1235.7 L1771.3 1235.7 L1772.2 1236.8 L1773.2 1237.8 L1774.1 1239.6 L1775.1 1239.3 L1776.0 1238.1 L1777.0 1238.5 L1777.9 1241.9 L1778.9 1237.4 L1779.8 1239.1 L1780.8 1241.5 L1781.7 1239.2 L1782.7 1234.7 L1783.6 1239.2 L1784.6 1237.6 L1785.5 1237.9 L1786.5 1239.7 L1787.4 1238.3 L1788.4 1236.7 L1789.3 1239.0 L1790.3 1238.3 L1791.2 1238.0 L1792.2 1238.6 L1793.1 1238.7 L1794.1 1237.4 L1795.0 1237.0 L1796.0 1237.5 L1796.9 1235.3 L1797.9 1234.5 L1798.8 1239.0 L1799.8 1235.8 L1800.7 1236.0 L1801.7 1235.5 L1802.6 1235.6 L1803.6 1235.5 L1804.5 1235.7 L1805.5 1234.2 L1806.4 1237.7 L1807.4 1235.1 L1808.3 1238.9 L1809.3 1234.1 L1810.2 1236.5 L1811.2 1241.1 L1812.1 1239.8 L1813.1 1239.5 L1814.0 1242.0 L1815.0 1239.8 L1815.9 1242.1 L1816.9 1237.9 L1817.8 1240.9 L1818.8 1240.2 L1819.7 1241.9 L1820.7 1242.1 L1821.6 1238.5 L1822.6 1242.7 L1823.5 1238.6 L1824.5 1236.0 L1825.4 1235.8 L1826.4 1242.8 L1827.3 1240.0 L1828.3 1239.2 L1829.2 1239.2 L1830.2 1238.7 L1831.1 1243.1 L1832.1 1240.3 L1833.0 1243.4 L1834.0 1239.5 L1834.9 1235.5 L1835.9 1240.7 L1836.8 1238.5 L1837.8 1238.8 L1838.7 1242.2 L1839.7 1239.1 L1840.6 1241.8 L1841.6 1239.8 L1842.5 1238.5 L1843.5 1240.7 L1844.4 1238.8 L1845.4 1242.3 L1846.3 1242.2 L1847.3 1241.0 L1848.2 1242.5 L1849.2 1242.8 L1850.1 1241.7 L1851.1 1243.9 L1852.0 1241.8 L1853.0 1243.1 L1853.9 1240.0 L1854.9 1241.5 L1855.8 1241.8 L1856.8 1239.8 L1857.7 1240.9 L1858.7 1241.5 L1859.6 1244.6 L1860.6 1243.0 L1861.5 1245.7 L1862.5 1248.0 L1863.4 1246.0 L1864.4 1242.3 L1865.3 1244.8 L1866.3 1245.8 L1867.2 1242.9 L1868.2 1244.6 L1869.1 1243.2 L1870.1 1242.3 L1871.0 1240.8 L1872.0 1240.2 L1872.9 1240.6 L1873.9 1241.2 L1874.8 1242.0 L1875.8 1241.9 L1876.7 1240.7 L1877.7 1241.2 L1878.6 1241.5 L1879.6 1237.8 L1880.5 1239.0 L1881.5 1238.6 L1882.4 1239.5 L1883.4 1239.3 L1884.3 1239.4 L1885.3 1238.5 L1886.2 1241.3 L1887.2 1240.8 L1888.1 1237.9 L1889.1 1240.9 L1890.0 1239.3 L1891.0 1244.2 L1891.9 1240.7 L1892.9 1240.8 L1893.8 1241.5 L1894.8 1240.8 L1895.7 1240.7 L1896.7 1243.1 L1897.6 1240.6 L1898.6 1241.4 L1899.5 1241.8 L1900.5 1238.3 L1901.4 1242.9 L1902.4 1241.6 L1903.3 1242.4 L1904.3 1239.8 L1905.2 1243.0 L1906.2 1242.6 L1907.1 1241.2 L1908.1 1245.7 L1909.0 1243.1 L1910.0 1241.8 L1910.9 1242.5 L1911.9 1243.6 L1912.8 1244.0 L1913.8 1243.3 L1914.7 1244.4 L1915.7 1245.0 L1916.6 1240.8 L1917.6 1242.1 L1918.5 1241.4 L1919.5 1243.1 L1920.4 1245.1 L1921.4 1243.8 L1922.3 1241.0 L1923.3 1242.2 L1924.2 1244.3 L1925.2 1241.8 L1926.1 1242.4 L1927.1 1242.9 L1928.0 1239.4 L1929.0 1243.4 L1929.9 1242.7 L1930.9 1243.1 L1931.8 1240.8 L1932.8 1241.4 L1933.7 1241.8 L1934.7 1243.2 L1935.6 1242.9 L1936.6 1242.8 L1937.5 1245.2 L1938.5 1244.3 L1939.4 1241.0 L1940.4 1240.9 L1941.3 1244.5 L1942.3 1241.2 L1943.2 1243.7 L1944.2 1243.8 L1945.1 1240.1 L1946.1 1240.2 L1947.0 1240.4 L1948.0 1238.7 L1948.9 1238.4 L1949.9 1239.2 L1950.8 1241.3 L1951.8 1239.7 L1952.7 1240.6 L1953.7 1240.8 L1954.6 1240.0 L1955.6 1245.0 L1956.5 1239.7"/>
<path stroke="#ff7e00" d="M352.0 977.4 L352.9 983.1 L353.9 968.2 L354.8 972.9 L355.8 970.8 L356.7 969.3 L357.7 975.6 L358.6 977.4 L359.6 969.0 L360.5 972.1 L361.5 984.2 L362.4 981.1 L363.4 983.3 L364.3 979.7 L365.3 981.7 L366.2 987.2 L367.2 983.7 L368.1 981.4 L369.1 987.0 L370.0 991.2 L371.0 981.3 L371.9 990.8 L372.9 988.4 L373.8 980.2 L374.8 983.6 L375.7 982.5 L376.7 985.0 L377.6 984.6 L378.6 974.9 L379.5 974.8 L380.5 986.8 L381.4 983.1 L382.4 985.3 L383.3 985.7 L384.3 992.0 L385.2 979.2 L386.2 990.5 L387.1 981.3 L388.1 988.7 L389.0 991.6 L390.0 978.7 L390.9 987.5 L391.9 984.6 L392.8 984.8 L393.8 986.5 L394.7 981.2 L395.7 981.3 L396.6 988.4 L397.6 988.4 L398.5 980.6 L399.5 975.0 L400.4 991.5 L401.4 985.0 L402.3 981.1 L403.3 975.0 L404.2 978.5 L405.2 984.5 L406.1 981.4 L407.1 996.4 L408.0 992.0 L409.0 995.5 L409.9 990.7 L410.9 993.1 L411.8 995.2 L412.8 1001.7 L413.7 1000.2 L414.7 1000.7 L415.6 1003.5 L416.6 1002.3 L417.5 1007.0 L418.5 997.5 L419.4 991.8 L420.4 994.6 L421.3 999.5 L422.3 987.9 L423.2 988.8 L424.2 985.3 L425.1 987.7 L426.1 986.3 L427.0 981.0 L428.0 983.6 L428.9 989.0 L429.9 989.6 L430.8 988.8 L431.8 988.6 L432.7 983.3 L433.7 983.7 L434.6 990.5 L435.6 981.5 L436.5 987.5 L437.5 979.5 L438.4 986.4 L439.4 984.4 L440.3 981.2 L441.3 988.6 L442.2 981.8 L443.2 983.4 L444.1 984.5 L445.1 983.6 L446.0 995.5 L447.0 989.0 L447.9 994.6 L448.9 989.7 L449.8 995.0 L450.8 996.5 L451.7 996.5 L452.7 994.5 L453.6 996.8 L454.6 1002.0 L455.5 992.6 L456.5 991.2 L457.4 988.9 L458.4 1000.6 L459.3 997.6 L460.3 993.6 L461.2 995.9 L462.2 991.4 L463.1 996.1 L464.1 999.6 L465.0 1000.6 L466.0 996.9 L466.9 997.7 L467.9 1003.7 L468.8 1002.6 L469.8 991.3 L470.7 1001.1 L471.7 1006.1 L472.6 996.7 L473.6 1000.1 L474.5 991.7 L475.5 1001.5 L476.4 991.8 L477.4 990.3 L478.3 993.4 L479.3 1004.0 L480.2 989.5 L481.2 985.5 L482.1 992.6 L483.1 991.2 L484.0 997.9 L485.0 985.2 L485.9 984.8 L486.9 992.1 L487.8 997.1 L488.8 999.1 L489.7 1004.6 L490.7 994.9 L491.6 999.8 L492.6 1004.6 L493.5 1010.5 L494.5 1010.0 L495.4 1006.7 L496.4 1004.3 L497.3 1012.7 L498.3 1012.3 L499.2 1017.1 L500.2 1004.6 L501.1 1011.3 L502.1 997.3 L503.0 999.5 L504.0 998.4 L504.9 999.0 L505.9 997.0 L506.8 998.5 L507.8 1000.8 L508.7 999.2 L509.7 1004.4 L510.6 1001.1 L511.6 1001.5 L512.5 1007.8 L513.5 1002.1 L514.4 1000.8 L515.4 999.6 L516.3 999.7 L517.3 1001.8 L518.2 995.5 L519.2 1003.9 L520.1 1005.4 L521.1 1002.9 L522.0 995.1 L523.0 989.9 L523.9 995.4 L524.9 998.9 L525.8 1003.2 L526.8 1000.3 L527.7 1001.3 L528.7 1010.7 L529.6 1001.9 L530.6 1010.2 L531.5 1009.8 L532.5 999.9 L533.4 1006.9 L534.4 1002.8 L535.3 1000.5 L536.3 995.8 L537.2 996.3 L538.2 1004.6 L539.1 1000.7 L540.1 1003.7 L541.0 998.1 L542.0 1002.1 L542.9 1003.5 L543.9 999.3 L544.8 1000.7 L545.8 1012.0 L546.7 1012.6 L547.7 1009.5 L548.6 1014.4 L549.6 1018.5 L550.5 1024.1 L551.5 1012.4 L552.4 1019.2 L553.4 1026.0 L554.3 1017.0 L555.3 1023.0 L556.2 1006.2 L557.2 1021.4 L558.1 1013.9 L559.1 1004.6 L560.0 1015.6 L561.0 1016.7 L561.9 1018.0 L562.9 1019.2 L563.8 1015.2 L564.8 1013.4 L565.7 1015.4 L566.7 1017.4 L567.6 1018.7 L568.6 1013.6 L569.5 1014.5 L570.5 1016.7 L571.4 1013.1 L572.4 1020.7 L573.3 1019.7 L574.3 1005.0 L575.2 1007.7 L576.2 1005.1 L577.1 1006.9 L578.1 1016.0 L579.0 1011.3 L580.0 1013.2 L580.9 1018.6 L581.9 1024.7 L582.8 1020.4 L583.8 1020.7 L584.7 1026.2 L585.7 1024.1 L586.6 1023.9 L587.6 1026.1 L588.5 1017.6 L589.5 1022.8 L590.4 1018.7 L591.4 1025.1 L592.3 1023.1 L593.3 1013.6 L594.2 1022.5 L595.2 1010.1 L596.1 1019.0 L597.1 1013.9 L598.0 1008.8 L599.0 1007.8 L599.9 1011.8 L600.9 1013.8 L601.8 1012.0 L602.8 1018.8 L603.7 1011.7 L604.7 1019.3 L605.6 1020.9 L606.6 1014.2 L607.5 1024.7 L608.5 1018.5 L609.4 1014.3 L610.4 1020.2 L611.3 1020.2 L612.3 1023.0 L613.2 1014.9 L614.2 1021.3 L615.1 1019.6 L616.1 1016.9 L617.0 1017.2 L618.0 1012.6 L618.9 1008.4 L619.9 1013.6 L620.8 1015.0 L621.8 1011.9 L622.7 1009.8 L623.7 1004.0 L624.6 1013.3 L625.6 1011.5 L626.5 1004.2 L627.5 1010.3 L628.4 1013.6 L629.4 1011.4 L630.3 1017.0 L631.3 1018.8 L632.2 1011.2 L633.2 1017.8 L634.1 1022.1 L635.1 1024.4 L636.0 1026.7 L637.0 1012.5 L637.9 1020.6 L638.9 1024.2 L639.8 1026.7 L640.8 1029.0 L641.7 1017.7 L642.7 1019.5 L643.6 1015.6 L644.6 1022.3 L645.5 1012.1 L646.5 1022.1 L647.4 1020.9 L648.4 1019.4 L649.3 1009.0 L650.3 1016.3 L651.2 1023.5 L652.2 1015.2 L653.1 1021.1 L654.1 1022.2 L655.0 1026.8 L656.0 1024.3 L656.9 1024.0 L657.9 1020.6 L658.8 1021.9 L659.8 1020.8 L660.7 1024.0 L661.7 1019.7 L662.6 1024.6 L663.6 1013.0 L664.5 1025.3 L665.5 1020.0 L666.4 1026.2 L667.4 1022.7 L668.3 1026.8 L669.3 1030.2 L670.2 1022.1 L671.2 1024.8 L672.1 1023.4 L673.1 1024.3 L674.0 1015.7 L675.0 1020.6 L675.9 1019.1 L676.9 1015.7 L677.8 1017.2 L678.8 1010.8 L679.7 1022.6 L680.7 1018.5 L681.6 1024.5 L682.6 1013.2 L683.5 1012.4 L684.5 1019.1 L685.4 1011.8 L686.4 1020.7 L687.3 1017.6 L688.3 1019.8 L689.2 1022.5 L690.2 1021.4 L691.1 1028.1 L692.1 1021.8 L693.0 1012.5 L694.0 1020.8 L694.9 1010.8 L695.9 1017.1 L696.8 1012.8 L697.8 1016.4 L698.7 1027.2 L699.7 1021.2 L700.6 1022.1 L701.6 1023.2 L702.5 1024.4 L703.5 1031.4 L704.4 1020.1 L705.4 1019.1 L706.3 1025.8 L707.3 1016.1 L708.2 1020.6 L709.2 1026.4 L710.1 1021.6 L711.1 1019.7 L712.0 1019.2 L713.0 1019.0 L713.9 1021.3 L714.9 1025.3 L715.8 1031.0 L716.8 1030.9 L717.7 1025.5 L718.7 1025.4 L719.6 1031.4 L720.6 1021.0 L721.5 1026.3 L722.5 1026.3 L723.4 1022.4 L724.4 1022.0 L725.3 1026.3 L726.3 1016.6 L727.2 1017.8 L728.2 1017.1 L729.1 1018.5 L730.1 1011.6 L731.0 1021.3 L732.0 1015.8 L732.9 1016.6 L733.9 1016.9 L734.8 1016.1 L735.8 1015.0 L736.7 1023.5 L737.7 1019.2 L738.6 1017.3 L739.6 1021.2 L740.5 1013.6 L741.5 1018.4 L742.4 1015.4 L743.4 1011.3 L744.3 1017.9 L745.3 1009.1 L746.2 1018.4 L747.2 1013.0 L748.1 1019.0 L749.1 1023.7 L750.0 1020.9 L751.0 1016.3 L751.9 1018.5 L752.9 1016.7 L753.8 1012.7 L754.8 1011.8 L755.7 1015.0 L756.7 1015.5 L757.6 1004.8 L758.6 1010.3 L759.5 1011.6 L760.5 1009.4 L761.4 1004.5 L762.4 1012.5 L763.3 1003.6 L764.3 1011.5 L765.2 1016.2 L766.2 1003.0 L767.1 1013.9 L768.1 1015.8 L769.0 1016.9 L770.0 1014.0 L770.9 1016.1 L771.9 1011.4 L772.8 1016.7 L773.8 1017.4 L774.7 1011.8 L775.7 1010.2 L776.6 1011.8 L777.6 1013.6 L778.5 1013.7 L779.5 1012.7 L780.4 1012.9 L781.4 1006.8 L782.3 1002.8 L783.3 1013.1 L784.2 1015.5 L785.2 1003.6 L786.1 1005.9 L787.1 1008.9 L788.0 1010.8 L789.0 1009.0 L789.9 1010.9 L790.9 1005.4 L791.8 1007.2 L792.8 1007.5 L793.7 1004.8 L794.7 1011.9 L795.6 1010.4 L796.6 1012.3 L797.5 1007.2 L798.5 1012.6 L799.4 1004.0 L800.4 1008.8 L801.3 997.8 L802.3 1000.9 L803.2 1006.3 L804.2 1000.3 L805.1 1001.5 L806.1 993.6 L807.0 1005.3 L808.0 1001.3 L808.9 998.9 L809.9 1000.7 L810.8 1000.5 L811.8 1004.8 L812.7 1000.1 L813.7 993.4 L814.6 997.7 L815.6 1003.1 L816.5 999.6 L817.5 995.1 L818.4 998.3 L819.4 995.6 L820.3 996.5 L821.3 987.0 L822.2 988.5 L823.2 993.5 L824.1 989.5 L825.1 991.7 L826.0 998.4 L827.0 990.6 L827.9 993.6 L828.9 991.1 L829.8 990.9 L830.8 992.4 L831.7 986.1 L832.7 982.5 L833.6 995.0 L834.6 988.9 L835.5 993.4 L836.5 989.4 L837.4 989.2 L838.4 990.3 L839.3 989.2 L840.3 980.3 L841.2 987.8 L842.2 978.1 L843.1 981.6 L844.1 989.4 L845.0 980.8 L846.0 987.2 L846.9 980.0 L847.9 983.9 L848.8 981.8 L849.8 982.9 L850.7 977.7 L851.7 976.9 L852.6 981.2 L853.6 973.7 L854.5 976.3 L855.5 982.2 L856.4 977.9 L857.4 977.5 L858.3 977.2 L859.3 982.3 L860.2 980.4 L861.2 982.1 L862.1 980.4 L863.1 987.3 L864.0 977.9 L865.0 971.3 L865.9 978.1 L866.9 976.6 L867.8 976.0 L868.8 968.2 L869.7 977.3 L870.7 972.0 L871.6 971.3 L872.6 965.1 L873.5 972.7 L874.5 970.8 L875.4 976.4 L876.4 970.2 L877.3 967.6 L878.3 973.0 L879.2 969.3 L880.2 974.2 L881.1 968.4 L882.1 971.6 L883.0 970.8 L884.0 971.0 L884.9 968.7 L885.9 967.2 L886.8 969.5 L887.8 967.3 L888.7 970.0 L889.7 968.6 L890.6 962.2 L891.6 970.7 L892.5 976.9 L893.5 973.8 L894.4 975.7 L895.4 975.7 L896.3 972.8 L897.3 969.8 L898.2 977.7 L899.2 978.4 L900.1 976.4 L901.1 975.7 L902.0 975.3 L903.0 973.5 L903.9 974.4 L904.9 973.3 L905.8 974.3 L906.8 969.5 L907.7 970.5 L908.7 974.6 L909.6 970.9 L910.6 963.8 L911.5 971.6 L912.5 962.7 L913.4 977.0 L914.4 972.5 L915.3 972.4 L916.3 967.9 L917.2 966.8 L918.2 970.9 L919.1 972.5 L920.1 970.3 L921.0 974.0 L922.0 976.2 L922.9 976.1 L923.9 970.5 L924.8 966.9 L925.8 975.3 L926.7 973.5 L927.7 977.9 L928.6 982.3 L929.6 982.2 L930.5 976.9 L931.5 979.3 L932.4 980.5 L933.4 974.3 L934.3 974.8 L935.3 976.6 L936.2 973.4 L937.2 971.7 L938.1 970.9 L939.1 973.6 L940.0 971.6 L941.0 977.0 L941.9 973.5 L942.9 980.7 L943.8 980.9 L944.8 973.5 L945.7 983.0 L946.7 979.2 L947.6 986.9 L948.6 985.6 L949.5 985.3 L950.5 989.6 L951.4 987.0 L952.4 991.3 L953.3 992.2 L954.3 990.6 L955.2 992.3 L956.2 987.1 L957.1 992.1 L958.1 985.7 L959.0 991.9 L960.0 991.3 L960.9 991.9 L961.9 987.3 L962.8 997.1 L963.8 987.6 L964.7 988.5 L965.7 985.2 L966.6 992.8 L967.6 986.4 L968.5 991.9 L969.5 985.9 L970.4 991.0 L971.4 989.7 L972.3 995.4 L973.3 992.3 L974.2 991.5 L975.2 996.9 L976.1 992.0 L977.1 993.3 L978.0 999.4 L979.0 990.3 L979.9 999.1 L980.9 994.8 L981.8 992.8 L982.8 996.5 L983.7 997.8 L984.7 993.8 L985.6 995.4 L986.6 999.1 L987.5 999.4 L988.5 997.2 L989.4 995.3 L990.4 995.3 L991.3 997.0 L992.3 1001.8 L993.2 1001.9 L994.2 1001.5 L995.1 1005.5 L996.1 1000.1 L997.0 1000.1 L998.0 1000.5 L998.9 1008.7 L999.9 996.1 L1000.8 1004.9 L1001.8 1006.6 L1002.7 1006.4 L1003.7 1015.0 L1004.6 1011.8 L1005.6 1010.9 L1006.5 1005.6 L1007.5 1010.5 L1008.4 1007.8 L1009.4 1009.2 L1010.3 1009.5 L1011.3 1006.8 L1012.2 1009.8 L1013.2 1012.2 L1014.1 1009.3 L1015.1 1005.7 L1016.0 998.0 L1017.0 1007.6 L1017.9 1007.4 L1018.9 1003.3 L1019.8 1002.5 L1020.8 1006.3 L1021.7 1001.5 L1022.7 1006.7 L1023.6 1000.4 L1024.6 1000.8 L1025.5 1003.8 L1026.5 999.0 L1027.4 1003.8 L1028.4 1005.4 L1029.3 999.0 L1030.3 1005.9 L1031.2 1000.3 L1032.2 1003.2 L1033.1 1001.6 L1034.1 999.2 L1035.0 999.0 L1036.0 995.6 L1036.9 999.5 L1037.9 999.9 L1038.8 1008.4 L1039.8 1006.8 L1040.7 999.5 L1041.7 1006.8 L1042.6 1005.0 L1043.6 1002.8 L1044.5 1005.0 L1045.5 1005.1 L1046.4 999.4 L1047.4 999.1 L1048.3 999.3 L1049.3 994.8 L1050.2 998.1 L1051.2 997.2 L1052.1 995.4 L1053.1 995.0 L1054.0 998.8 L1055.0 1000.6 L1055.9 998.5 L1056.9 994.2 L1057.8 998.6 L1058.8 995.9 L1059.7 996.4 L1060.7 997.6 L1061.6 990.7 L1062.6 993.5 L1063.5 992.9 L1064.5 993.1 L1065.4 1003.6 L1066.4 1001.2 L1067.3 993.1 L1068.3 1000.2 L1069.2 996.8 L1070.2 1001.7 L1071.1 997.7 L1072.1 996.5 L1073.0 997.3 L1074.0 998.0 L1074.9 997.0 L1075.9 996.3 L1076.8 996.6 L1077.8 998.7 L1078.7 993.5 L1079.7 997.3 L1080.6 997.5 L1081.6 997.3 L1082.5 1002.4 L1083.5 997.5 L1084.4 1001.9 L1085.4 1001.6 L1086.3 1006.9 L1087.3 1003.9 L1088.2 1005.1 L1089.2 1005.2 L1090.1 997.6 L1091.1 1002.4 L1092.0 997.1 L1093.0 997.2 L1093.9 996.6 L1094.9 998.7 L1095.8 998.0 L1096.8 1000.8 L1097.7 995.6 L1098.7 993.2 L1099.6 992.9 L1100.6 996.1 L1101.5 998.7 L1102.5 994.3 L1103.4 991.0 L1104.4 993.3 L1105.3 992.8 L1106.3 991.9 L1107.2 989.3 L1108.2 984.3 L1109.1 990.2 L1110.1 995.6 L1111.0 993.7 L1112.0 987.0 L1112.9 994.8 L1113.9 989.9 L1114.8 1002.5 L1115.8 997.5 L1116.7 993.8 L1117.7 1000.6 L1118.6 996.2 L1119.6 1000.9 L1120.5 999.5 L1121.5 996.0 L1122.4 1001.5 L1123.4 995.0 L1124.3 1002.7 L1125.3 998.2 L1126.2 994.2 L1127.2 991.3 L1128.1 1001.3 L1129.1 1000.4 L1130.0 991.8 L1131.0 1000.4 L1131.9 995.8 L1132.9 994.7 L1133.8 995.4 L1134.8 995.4 L1135.7 1001.1 L1136.7 997.7 L1137.6 992.0 L1138.6 1004.1 L1139.5 1000.2 L1140.5 993.9 L1141.4 995.7 L1142.4 993.6 L1143.3 996.0 L1144.3 996.6 L1145.2 995.7 L1146.2 992.7 L1147.1 991.6 L1148.1 996.3 L1149.0 993.0 L1150.0 999.8 L1150.9 990.3 L1151.9 994.8 L1152.8 992.4 L1153.8 990.1 L1154.7 996.9 L1155.7 994.0 L1156.6 992.2 L1157.6 995.3 L1158.5 1000.6 L1159.5 994.8 L1160.4 1003.2 L1161.4 1001.3 L1162.3 998.1 L1163.3 1002.5 L1164.2 1003.0 L1165.2 998.6 L1166.1 996.4 L1167.1 1000.6 L1168.0 999.1 L1169.0 991.7 L1169.9 994.1 L1170.9 994.7 L1171.8 994.9 L1172.8 992.5 L1173.7 1000.5 L1174.7 998.8 L1175.6 999.3 L1176.6 1003.4 L1177.5 997.4 L1178.5 998.5 L1179.4 998.8 L1180.4 995.9 L1181.3 996.0 L1182.3 998.0 L1183.2 995.3 L1184.2 999.1 L1185.1 993.1 L1186.1 996.2 L1187.0 991.6 L1188.0 995.8 L1188.9 994.2 L1189.9 1000.5 L1190.8 999.0 L1191.8 998.8 L1192.7 1003.3 L1193.7 1002.7 L1194.6 1001.2 L1195.6 997.6 L1196.5 995.7 L1197.5 1000.1 L1198.4 999.2 L1199.4 998.0 L1200.3 998.5 L1201.3 993.5 L1202.2 1001.4 L1203.2 992.1 L1204.1 992.0 L1205.1 994.4 L1206.0 987.0 L1207.0 994.1 L1207.9 994.2 L1208.9 990.8 L1209.8 989.1 L1210.8 991.4 L1211.7 987.8 L1212.7 997.7 L1213.6 994.0 L1214.6 991.9 L1215.5 991.4 L1216.5 995.8 L1217.4 998.4 L1218.4 990.2 L1219.3 992.0 L1220.3 988.1 L1221.2 994.6 L1222.2 992.4 L1223.1 997.7 L1224.1 990.1 L1225.0 988.5 L1226.0 987.3 L1226.9 991.6 L1227.9 984.3 L1228.8 991.2 L1229.8 989.5 L1230.7 986.9 L1231.7 985.1 L1232.6 989.9 L1233.6 991.4 L1234.5 984.0 L1235.5 986.4 L1236.4 989.8 L1237.4 983.1 L1238.3 984.3 L1239.3 981.6 L1240.2 984.9 L1241.2 985.3 L1242.1 984.6 L1243.1 984.1 L1244.0 982.1 L1245.0 983.1 L1245.9 984.3 L1246.9 989.0 L1247.8 985.4 L1248.8 984.1 L1249.7 988.1 L1250.7 987.6 L1251.6 983.7 L1252.6 984.0 L1253.5 987.7 L1254.5 986.8 L1255.4 982.9 L1256.4 985.3 L1257.3 983.5 L1258.3 985.7 L1259.2 979.2 L1260.2 983.6 L1261.1 982.3 L1262.1 978.6 L1263.0 985.3 L1264.0 986.1 L1264.9 981.0 L1265.9 991.8 L1266.8 984.0 L1267.8 985.5 L1268.7 987.6 L1269.7 990.9 L1270.6 990.2 L1271.6 988.1 L1272.5 992.0 L1273.5 989.0 L1274.4 991.5 L1275.4 993.6 L1276.3 986.9 L1277.3 979.0 L1278.2 983.5 L1279.2 981.0 L1280.1 983.8 L1281.1 983.6 L1282.0 979.8 L1283.0 980.3 L1283.9 983.5 L1284.9 984.6 L1285.8 979.8 L1286.8 990.4 L1287.7 989.1 L1288.7 990.3 L1289.6 992.3 L1290.6 989.4 L1291.5 992.7 L1292.5 995.9 L1293.4 995.7 L1294.4 993.5 L1295.3 990.7 L1296.3 988.6 L1297.2 994.3 L1298.2 992.0 L1299.1 989.6 L1300.1 985.2 L1301.0 989.5 L1302.0 987.3 L1302.9 997.0 L1303.9 994.8 L1304.8 993.0 L1305.8 995.2 L1306.7 1003.2 L1307.7 1001.0 L1308.6 994.3 L1309.6 998.0 L1310.5 994.9 L1311.5 993.3 L1312.4 998.3 L1313.4 1004.0 L1314.3 1002.0 L1315.3 998.0 L1316.2 997.4 L1317.2 999.9 L1318.1 1003.2 L1319.1 997.2 L1320.0 996.9 L1321.0 1008.1 L1321.9 1004.1 L1322.9 1008.3 L1323.8 1004.8 L1324.8 1008.8 L1325.7 1003.4 L1326.7 1007.2 L1327.6 1010.8 L1328.6 1009.7 L1329.5 1005.8 L1330.5 1009.6 L1331.4 1005.1 L1332.4 1002.7 L1333.3 1007.9 L1334.3 1010.2 L1335.2 1008.7 L1336.2 1002.9 L1337.1 1009.3 L1338.1 1009.4 L1339.0 1007.0 L1340.0 1003.1 L1340.9 1013.3 L1341.9 1014.2 L1342.8 1014.3 L1343.8 1009.3 L1344.7 1011.1 L1345.7 1019.1 L1346.6 1019.4 L1347.6 1019.5 L1348.5 1018.4 L1349.5 1021.2 L1350.4 1019.7 L1351.4 1021.4 L1352.3 1021.0 L1353.3 1025.2 L1354.2 1024.2 L1355.2 1028.7 L1356.1 1028.5 L1357.1 1024.7 L1358.0 1032.4 L1359.0 1024.5 L1359.9 1029.4 L1360.9 1031.9 L1361.8 1033.4 L1362.8 1024.8 L1363.7 1034.9 L1364.7 1036.5 L1365.6 1037.9 L1366.6 1028.4 L1367.5 1033.1 L1368.5 1035.1 L1369.4 1034.4 L1370.4 1039.8 L1371.3 1034.6 L1372.3 1040.3 L1373.2 1038.9 L1374.2 1033.8 L1375.1 1035.7 L1376.1 1037.8 L1377.0 1040.0 L1378.0 1043.2 L1378.9 1040.5 L1379.9 1044.0 L1380.8 1037.7 L1381.8 1036.5 L1382.7 1042.2 L1383.7 1045.1 L1384.6 1043.5 L1385.6 1042.2 L1386.5 1046.4 L1387.5 1050.5 L1388.4 1044.9 L1389.4 1043.1 L1390.3 1042.8 L1391.3 1050.8 L1392.2 1045.7 L1393.2 1048.0 L1394.1 1050.2 L1395.1 1050.6 L1396.0 1046.0 L1397.0 1052.2 L1397.9 1053.1 L1398.9 1053.5 L1399.8 1056.4 L1400.8 1053.7 L1401.7 1056.5 L1402.7 1056.6 L1403.6 1061.1 L1404.6 1058.1 L1405.5 1061.3 L1406.5 1057.5 L1407.4 1060.1 L1408.4 1059.4 L1409.3 1060.1 L1410.3 1061.1 L1411.2 1061.0 L1412.2 1061.9 L1413.1 1058.1 L1414.1 1067.7 L1415.0 1063.9 L1416.0 1065.3 L1416.9 1063.7 L1417.9 1068.4 L1418.8 1063.1 L1419.8 1066.8 L1420.7 1069.0 L1421.7 1071.1 L1422.6 1071.3 L1423.6 1071.4 L1424.5 1068.4 L1425.5 1076.9 L1426.4 1078.3 L1427.4 1078.9 L1428.3 1080.0 L1429.3 1079.0 L1430.2 1078.1 L1431.2 1082.8 L1432.1 1083.7 L1433.1 1078.0 L1434.0 1083.4 L1435.0 1081.8 L1435.9 1083.6 L1436.9 1082.0 L1437.8 1084.1 L1438.8 1083.7 L1439.7 1083.1 L1440.7 1077.1 L1441.6 1083.0 L1442.6 1081.5 L1443.5 1079.2 L1444.5 1085.0 L1445.4 1080.9 L1446.4 1088.1 L1447.3 1091.6 L1448.3 1087.0 L1449.2 1091.7 L1450.2 1091.1 L1451.1 1091.8 L1452.1 1086.7 L1453.0 1091.6 L1454.0 1090.3 L1454.9 1091.8 L1455.9 1090.1 L1456.8 1093.1 L1457.8 1091.4 L1458.7 1092.9 L1459.7 1095.1 L1460.6 1092.4 L1461.6 1094.7 L1462.5 1092.8 L1463.5 1093.4 L1464.4 1090.4 L1465.4 1093.4 L1466.3 1094.3 L1467.3 1090.9 L1468.2 1093.4 L1469.2 1093.0 L1470.1 1089.8 L1471.1 1094.4 L1472.0 1097.8 L1473.0 1094.4 L1473.9 1092.3 L1474.9 1098.6 L1475.8 1097.5 L1476.8 1104.8 L1477.7 1100.5 L1478.7 1100.7 L1479.6 1099.0 L1480.6 1100.8 L1481.5 1098.2 L1482.5 1096.8 L1483.4 1098.5 L1484.4 1096.4 L1485.3 1101.7 L1486.3 1095.7 L1487.2 1098.9 L1488.2 1097.9 L1489.1 1097.0 L1490.1 1105.5 L1491.0 1097.1 L1492.0 1106.9 L1492.9 1100.5 L1493.9 1104.5 L1494.8 1109.6 L1495.8 1098.5 L1496.7 1099.8 L1497.7 1105.8 L1498.6 1102.8 L1499.6 1101.1 L1500.5 1102.7 L1501.5 1100.9 L1502.4 1104.2 L1503.4 1108.2 L1504.3 1104.1 L1505.3 1105.8 L1506.2 1108.8 L1507.2 1111.0 L1508.1 1105.1 L1509.1 1107.7 L1510.0 1106.0 L1511.0 1106.0 L1511.9 1106.8 L1512.9 1106.2 L1513.8 1103.5 L1514.8 1102.9 L1515.7 1105.9 L1516.7 1108.3 L1517.6 1111.4 L1518.6 1107.9 L1519.5 1109.7 L1520.5 1112.6 L1521.4 1113.7 L1522.4 1112.4 L1523.3 1113.2 L1524.3 1118.2 L1525.2 1113.2 L1526.2 1113.2 L1527.1 1110.9 L1528.1 1116.4 L1529.0 1115.3 L1530.0 1121.0 L1530.9 1116.1 L1531.9 1119.1 L1532.8 1119.6 L1533.8 1121.2 L1534.7 1114.1 L1535.7 1120.8 L1536.6 1117.0 L1537.6 1116.7 L1538.5 1116.4 L1539.5 1116.3 L1540.4 1116.7 L1541.4 1112.4 L1542.3 1119.3 L1543.3 1118.5 L1544.2 1116.3 L1545.2 1118.6 L1546.1 1124.1 L1547.1 1120.0 L1548.0 1118.4 L1549.0 1123.6 L1549.9 1118.0 L1550.9 1119.7 L1551.8 1119.0 L1552.8 1119.8 L1553.7 1122.1 L1554.7 1121.8 L1555.6 1118.8 L1556.6 1120.3 L1557.5 1121.0 L1558.5 1120.4 L1559.4 1121.9 L1560.4 1121.2 L1561.3 1122.2 L1562.3 1124.8 L1563.2 1123.0 L1564.2 1126.6 L1565.1 1125.2 L1566.1 1123.3 L1567.0 1123.6 L1568.0 1123.6 L1568.9 1124.1 L1569.9 1124.5 L1570.8 1123.7 L1571.8 1122.1 L1572.7 1127.3 L1573.7 1126.0 L1574.6 1123.9 L1575.6 1125.5 L1576.5 1123.7 L1577.5 1122.2 L1578.4 1123.1 L1579.4 1128.3 L1580.3 1126.1 L1581.3 1127.0 L1582.2 1124.5 L1583.2 1127.5 L1584.1 1131.8 L1585.1 1128.5 L1586.0 1130.8 L1587.0 1132.2 L1587.9 1131.7 L1588.9 1134.4 L1589.8 1131.7 L1590.8 1132.0 L1591.7 1128.9 L1592.7 1134.5 L1593.6 1129.3 L1594.6 1128.1 L1595.5 1130.5 L1596.5 1126.0 L1597.4 1127.1 L1598.4 1125.6 L1599.3 1127.8 L1600.3 1127.4 L1601.2 1130.1 L1602.2 1129.2 L1603.1 1128.7 L1604.1 1129.8 L1605.0 1130.5 L1606.0 1129.7 L1606.9 1132.8 L1607.9 1132.0 L1608.8 1130.8 L1609.8 1127.8 L1610.7 1131.5 L1611.7 1127.5 L1612.6 1130.6 L1613.6 1130.1 L1614.5 1128.4 L1615.5 1127.8 L1616.4 1128.1 L1617.4 1134.5 L1618.3 1130.2 L1619.3 1131.5 L1620.2 1135.2 L1621.2 1135.2 L1622.1 1137.4 L1623.1 1133.0 L1624.0 1133.5 L1625.0 1140.6 L1625.9 1135.4 L1626.9 1134.6 L1627.8 1135.5 L1628.8 1137.3 L1629.7 1132.8 L1630.7 1136.0 L1631.6 1135.5 L1632.6 1137.0 L1633.5 1136.0 L1634.5 1134.5 L1635.4 1133.9 L1636.4 1131.1 L1637.3 1138.2 L1638.3 1133.1 L1639.2 1135.3 L1640.2 1139.4 L1641.1 1134.6 L1642.1 1136.2 L1643.0 1134.0 L1644.0 1135.4 L1644.9 1133.5 L1645.9 1131.9 L1646.8 1135.6 L1647.8 1132.1 L1648.7 1130.0 L1649.7 1132.7 L1650.6 1135.4 L1651.6 1132.9 L1652.5 1137.9 L1653.5 1138.8 L1654.4 1142.3 L1655.4 1137.0 L1656.3 1140.0 L1657.3 1135.4 L1658.2 1138.4 L1659.2 1139.9 L1660.1 1141.0 L1661.1 1140.6 L1662.0 1141.2 L1663.0 1140.7 L1663.9 1141.5 L1664.9 1143.2 L1665.8 1143.5 L1666.8 1143.0 L1667.7 1142.7 L1668.7 1142.0 L1669.6 1134.8 L1670.6 1136.6 L1671.5 1136.9 L1672.5 1135.8 L1673.4 1139.6 L1674.4 1139.4 L1675.3 1138.2 L1676.3 1139.1 L1677.2 1141.8 L1678.2 1138.6 L1679.1 1138.7 L1680.1 1141.2 L1681.0 1140.3 L1682.0 1142.3 L1682.9 1140.5 L1683.9 1141.9 L1684.8 1140.2 L1685.8 1140.4 L1686.7 1143.4 L1687.7 1139.6 L1688.6 1145.7 L1689.6 1147.2 L1690.5 1145.4 L1691.5 1144.7 L1692.4 1147.1 L1693.4 1144.6 L1694.3 1146.4 L1695.3 1148.7 L1696.2 1145.6 L1697.2 1145.9 L1698.1 1145.0 L1699.1 1144.4 L1700.0 1144.2 L1701.0 1143.5 L1701.9 1145.1 L1702.9 1139.4 L1703.8 1141.6 L1704.8 1143.2 L1705.7 1140.1 L1706.7 1141.6 L1707.6 1140.6 L1708.6 1143.1 L1709.5 1144.2 L1710.5 1145.7 L1711.4 1144.1 L1712.4 1142.0 L1713.3 1144.2 L1714.3 1145.2 L1715.2 1147.2 L1716.2 1140.7 L1717.1 1145.9 L1718.1 1141.8 L1719.0 1146.8 L1720.0 1146.1 L1720.9 1145.9 L1721.9 1146.3 L1722.8 1145.0 L1723.8 1142.8 L1724.7 1144.8 L1725.7 1146.8 L1726.6 1144.9 L1727.6 1145.9 L1728.5 1144.2 L1729.5 1149.3 L1730.4 1146.5 L1731.4 1146.2 L1732.3 1146.8 L1733.3 1145.9 L1734.2 1146.9 L1735.2 1149.5 L1736.1 1148.3 L1737.1 1149.4 L1738.0 1149.5 L1739.0 1145.2 L1739.9 1148.2 L1740.9 1150.6 L1741.8 1152.5 L1742.8 1145.7 L1743.7 1145.6 L1744.7 1148.7 L1745.6 1146.3 L1746.6 1144.2 L1747.5 1146.0 L1748.5 1143.3 L1749.4 1140.4 L1750.4 1144.8 L1751.3 1145.5 L1752.3 1146.9 L1753.2 1147.8 L1754.2 1146.7 L1755.1 1146.2 L1756.1 1145.7 L1757.0 1144.3 L1758.0 1147.1 L1758.9 1150.4 L1759.9 1150.4 L1760.8 1153.5 L1761.8 1149.8 L1762.7 1146.9 L1763.7 1151.8 L1764.6 1152.1 L1765.6 1147.9 L1766.5 1147.0 L1767.5 1150.4 L1768.4 1151.7 L1769.4 1148.8 L1770.3 1150.5 L1771.3 1150.0 L1772.2 1149.3 L1773.2 1148.9 L1774.1 1151.3 L1775.1 1150.0 L1776.0 1149.3 L1777.0 1146.3 L1777.9 1153.9 L1778.9 1149.3 L1779.8 1151.2 L1780.8 1149.8 L1781.7 1152.9 L1782.7 1149.6 L1783.6 1152.6 L1784.6 1152.0 L1785.5 1154.1 L1786.5 1150.5 L1787.4 1151.4 L1788.4 1152.2 L1789.3 1156.5 L1790.3 1150.2 L1791.2 1153.4 L1792.2 1151.6 L1793.1 1153.2 L1794.1 1153.6 L1795.0 1152.4 L1796.0 1152.4 L1796.9 1152.4 L1797.9 1150.9 L1798.8 1151.8 L1799.8 1149.7 L1800.7 1152.5 L1801.7 1152.1 L1802.6 1153.2 L1803.6 1154.9 L1804.5 1154.1 L1805.5 1153.8 L1806.4 1154.4 L1807.4 1147.9 L1808.3 1152.3 L1809.3 1151.2 L1810.2 1150.8 L1811.2 1148.6 L1812.1 1151.9 L1813.1 1153.1 L1814.0 1153.1 L1815.0 1151.5 L1815.9 1153.0 L1816.9 1153.8 L1817.8 1155.6 L1818.8 1154.7 L1819.7 1152.9 L1820.7 1152.9 L1821.6 1153.1 L1822.6 1153.3 L1823.5 1152.1 L1824.5 1154.3 L1825.4 1151.8 L1826.4 1151.6 L1827.3 1153.4 L1828.3 1151.5 L1829.2 1151.7 L1830.2 1148.2 L1831.1 1152.9 L1832.1 1151.4 L1833.0 1151.4 L1834.0 1152.7 L1834.9 1152.5 L1835.9 1151.2 L1836.8 1156.0 L1837.8 1151.8 L1838.7 1154.2 L1839.7 1155.5 L1840.6 1151.3 L1841.6 1152.4 L1842.5 1150.9 L1843.5 1154.2 L1844.4 1152.0 L1845.4 1150.9 L1846.3 1155.1 L1847.3 1154.5 L1848.2 1151.6 L1849.2 1155.1 L1850.1 1153.4 L1851.1 1156.9 L1852.0 1155.9 L1853.0 1152.2 L1853.9 1152.7 L1854.9 1151.8 L1855.8 1153.5 L1856.8 1153.3 L1857.7 1154.3 L1858.7 1153.0 L1859.6 1150.1 L1860.6 1150.9 L1861.5 1154.3 L1862.5 1153.7 L1863.4 1151.5 L1864.4 1151.7 L1865.3 1151.9 L1866.3 1152.7 L1867.2 1150.5 L1868.2 1155.4 L1869.1 1153.4 L1870.1 1155.0 L1871.0 1151.1 L1872.0 1155.0 L1872.9 1156.4 L1873.9 1150.0 L1874.8 1155.6 L1875.8 1153.5 L1876.7 1151.5 L1877.7 1150.3 L1878.6 1155.1 L1879.6 1154.2 L1880.5 1155.2 L1881.5 1154.2 L1882.4 1153.6 L1883.4 1156.4 L1884.3 1153.6 L1885.3 1156.7 L1886.2 1152.6 L1887.2 1153.9 L1888.1 1153.2 L1889.1 1157.7 L1890.0 1152.8 L1891.0 1153.9 L1891.9 1156.8 L1892.9 1156.2 L1893.8 1159.4 L1894.8 1158.7 L1895.7 1156.4 L1896.7 1156.1 L1897.6 1151.7 L1898.6 1152.6 L1899.5 1152.9 L1900.5 1152.6 L1901.4 1150.0 L1902.4 1150.0 L1903.3 1149.6 L1904.3 1152.1 L1905.2 1151.0 L1906.2 1150.0 L1907.1 1150.5 L1908.1 1152.0 L1909.0 1151.2 L1910.0 1152.4 L1910.9 1150.6 L1911.9 1154.6 L1912.8 1155.1 L1913.8 1154.2 L1914.7 1154.2 L1915.7 1153.9 L1916.6 1156.3 L1917.6 1153.4 L1918.5 1150.9 L1919.5 1151.3 L1920.4 1154.1 L1921.4 1154.8 L1922.3 1154.5 L1923.3 1154.8 L1924.2 1153.9 L1925.2 1151.4 L1926.1 1152.7 L1927.1 1151.2 L1928.0 1153.5 L1929.0 1152.3 L1929.9 1154.9 L1930.9 1154.8 L1931.8 1152.3 L1932.8 1156.5 L1933.7 1156.6 L1934.7 1153.3 L1935.6 1155.6 L1936.6 1156.3 L1937.5 1154.5 L1938.5 1155.9 L1939.4 1154.5 L1940.4 1155.4 L1941.3 1153.6 L1942.3 1152.8 L1943.2 1153.7 L1944.2 1154.2 L1945.1 1153.7 L1946.1 1153.2 L1947.0 1153.2 L1948.0 1154.2 L1948.9 1154.1 L1949.9 1155.3 L1950.8 1155.2 L1951.8 1154.7 L1952.7 1154.7 L1953.7 1154.7 L1954.6 1156.4 L1955.6 1155.5 L1956.5 1152.5"/>
<path stroke="#a84f06" d="M352.0 865.4 L352.9 864.3 L353.9 854.7 L354.8 859.7 L355.8 849.7 L356.7 847.1 L357.7 855.3 L358.6 854.0 L359.6 859.1 L360.5 864.0 L361.5 857.3 L362.4 867.5 L363.4 856.8 L364.3 865.0 L365.3 856.2 L366.2 864.7 L367.2 863.9 L368.1 865.7 L369.1 870.6 L370.0 858.8 L371.0 869.1 L371.9 864.2 L372.9 868.4 L373.8 869.0 L374.8 864.4 L375.7 863.8 L376.7 859.6 L377.6 868.2 L378.6 862.6 L379.5 869.2 L380.5 861.1 L381.4 876.3 L382.4 865.6 L383.3 877.5 L384.3 870.2 L385.2 875.7 L386.2 872.7 L387.1 877.3 L388.1 874.6 L389.0 881.8 L390.0 879.9 L390.9 881.1 L391.9 887.1 L392.8 876.1 L393.8 886.3 L394.7 880.1 L395.7 872.0 L396.6 881.2 L397.6 877.3 L398.5 886.3 L399.5 875.2 L400.4 877.3 L401.4 877.3 L402.3 865.4 L403.3 875.7 L404.2 866.4 L405.2 876.7 L406.1 876.9 L407.1 868.5 L408.0 861.7 L409.0 872.4 L409.9 875.0 L410.9 880.3 L411.8 877.6 L412.8 874.7 L413.7 880.3 L414.7 875.8 L415.6 887.5 L416.6 873.4 L417.5 871.8 L418.5 873.3 L419.4 866.6 L420.4 870.4 L421.3 872.5 L422.3 872.0 L423.2 874.7 L424.2 883.9 L425.1 881.9 L426.1 875.2 L427.0 881.3 L428.0 888.2 L428.9 882.0 L429.9 885.7 L430.8 884.8 L431.8 887.2 L432.7 883.6 L433.7 884.1 L434.6 881.4 L435.6 888.5 L436.5 883.2 L437.5 896.8 L438.4 888.2 L439.4 886.4 L440.3 889.9 L441.3 883.9 L442.2 882.8 L443.2 880.4 L444.1 875.8 L445.1 874.0 L446.0 874.8 L447.0 883.7 L447.9 875.7 L448.9 877.5 L449.8 878.2 L450.8 885.0 L451.7 892.8 L452.7 880.7 L453.6 889.9 L454.6 890.1 L455.5 890.1 L456.5 895.6 L457.4 888.1 L458.4 898.9 L459.3 896.1 L460.3 890.3 L461.2 902.7 L462.2 899.2 L463.1 900.9 L464.1 888.7 L465.0 894.7 L466.0 893.8 L466.9 899.4 L467.9 902.7 L468.8 886.5 L469.8 894.9 L470.7 893.4 L471.7 898.1 L472.6 892.8 L473.6 887.0 L474.5 892.4 L475.5 888.7 L476.4 890.2 L477.4 894.2 L478.3 891.7 L479.3 895.1 L480.2 886.3 L481.2 903.4 L482.1 898.8 L483.1 896.0 L484.0 886.5 L485.0 882.8 L485.9 889.7 L486.9 893.6 L487.8 906.0 L488.8 903.1 L489.7 895.3 L490.7 904.3 L491.6 904.9 L492.6 899.5 L493.5 905.4 L494.5 901.2 L495.4 896.3 L496.4 893.3 L497.3 897.5 L498.3 901.7 L499.2 889.4 L500.2 887.1 L501.1 896.5 L502.1 883.4 L503.0 902.1 L504.0 891.6 L504.9 897.2 L505.9 902.7 L506.8 887.2 L507.8 889.3 L508.7 904.8 L509.7 894.1 L510.6 895.9 L511.6 898.7 L512.5 903.8 L513.5 906.1 L514.4 901.3 L515.4 900.0 L516.3 901.8 L517.3 903.4 L518.2 907.7 L519.2 901.4 L520.1 908.1 L521.1 894.2 L522.0 899.3 L523.0 903.7 L523.9 900.6 L524.9 895.7 L525.8 890.1 L526.8 891.5 L527.7 894.9 L528.7 898.2 L529.6 896.7 L530.6 892.2 L531.5 896.6 L532.5 903.4 L533.4 905.6 L534.4 895.6 L535.3 900.4 L536.3 893.9 L537.2 898.3 L538.2 910.1 L539.1 899.7 L540.1 897.4 L541.0 896.2 L542.0 893.4 L542.9 890.5 L543.9 899.0 L544.8 898.0 L545.8 906.2 L546.7 892.0 L547.7 902.1 L548.6 907.1 L549.6 892.8 L550.5 905.9 L551.5 896.4 L552.4 906.9 L553.4 911.6 L554.3 904.6 L555.3 905.4 L556.2 900.3 L557.2 904.0 L558.1 907.1 L559.1 900.2 L560.0 899.5 L561.0 901.1 L561.9 902.4 L562.9 891.1 L563.8 899.6 L564.8 897.7 L565.7 905.2 L566.7 910.0 L567.6 908.8 L568.6 914.8 L569.5 905.2 L570.5 908.2 L571.4 905.3 L572.4 909.5 L573.3 908.9 L574.3 906.5 L575.2 900.8 L576.2 905.0 L577.1 902.6 L578.1 906.8 L579.0 902.5 L580.0 908.8 L580.9 904.3 L581.9 894.4 L582.8 901.5 L583.8 895.2 L584.7 905.7 L585.7 907.8 L586.6 901.5 L587.6 904.2 L588.5 896.0 L589.5 892.9 L590.4 899.5 L591.4 899.8 L592.3 892.5 L593.3 898.0 L594.2 897.5 L595.2 898.0 L596.1 901.9 L597.1 899.2 L598.0 895.4 L599.0 899.7 L599.9 904.6 L600.9 900.0 L601.8 913.2 L602.8 913.5 L603.7 909.8 L604.7 908.7 L605.6 921.2 L606.6 914.8 L607.5 914.6 L608.5 918.0 L609.4 914.3 L610.4 911.5 L611.3 914.9 L612.3 909.1 L613.2 917.7 L614.2 908.6 L615.1 917.8 L616.1 918.2 L617.0 908.2 L618.0 923.2 L618.9 909.0 L619.9 918.7 L620.8 911.9 L621.8 916.1 L622.7 912.2 L623.7 925.1 L624.6 920.3 L625.6 923.6 L626.5 918.8 L627.5 918.2 L628.4 915.6 L629.4 913.9 L630.3 918.1 L631.3 916.8 L632.2 916.3 L633.2 911.9 L634.1 917.8 L635.1 923.0 L636.0 919.1 L637.0 923.4 L637.9 921.4 L638.9 917.2 L639.8 917.0 L640.8 916.7 L641.7 917.4 L642.7 916.3 L643.6 921.4 L644.6 911.2 L645.5 906.9 L646.5 919.5 L647.4 915.2 L648.4 917.5 L649.3 928.1 L650.3 925.5 L651.2 921.7 L652.2 923.1 L653.1 919.0 L654.1 922.0 L655.0 914.3 L656.0 913.1 L656.9 913.5 L657.9 922.1 L658.8 921.9 L659.8 912.6 L660.7 920.8 L661.7 915.6 L662.6 921.4 L663.6 915.3 L664.5 920.5 L665.5 914.9 L666.4 912.7 L667.4 912.3 L668.3 911.7 L669.3 907.4 L670.2 903.5 L671.2 917.0 L672.1 908.5 L673.1 903.3 L674.0 903.0 L675.0 904.2 L675.9 912.1 L676.9 921.5 L677.8 908.7 L678.8 914.2 L679.7 907.1 L680.7 919.3 L681.6 915.6 L682.6 915.3 L683.5 920.1 L684.5 922.1 L685.4 920.4 L686.4 914.7 L687.3 912.7 L688.3 915.2 L689.2 913.2 L690.2 929.6 L691.1 921.5 L692.1 923.2 L693.0 923.3 L694.0 930.7 L694.9 918.8 L695.9 925.6 L696.8 921.1 L697.8 918.6 L698.7 910.5 L699.7 922.2 L700.6 914.4 L701.6 914.8 L702.5 916.8 L703.5 915.3 L704.4 918.9 L705.4 910.7 L706.3 914.2 L707.3 915.0 L708.2 914.4 L709.2 917.8 L710.1 914.3 L711.1 920.9 L712.0 913.1 L713.0 910.5 L713.9 917.2 L714.9 923.2 L715.8 916.8 L716.8 916.9 L717.7 918.4 L718.7 920.5 L719.6 918.8 L720.6 920.4 L721.5 911.3 L722.5 924.5 L723.4 920.1 L724.4 913.6 L725.3 922.9 L726.3 919.0 L727.2 923.7 L728.2 913.0 L729.1 925.7 L730.1 919.2 L731.0 910.2 L732.0 921.5 L732.9 915.9 L733.9 911.3 L734.8 912.9 L735.8 903.8 L736.7 913.0 L737.7 908.5 L738.6 907.7 L739.6 914.8 L740.5 909.6 L741.5 907.7 L742.4 907.8 L743.4 912.9 L744.3 918.7 L745.3 912.2 L746.2 910.1 L747.2 917.7 L748.1 913.1 L749.1 911.8 L750.0 920.2 L751.0 906.3 L751.9 912.6 L752.9 904.9 L753.8 911.6 L754.8 915.3 L755.7 917.2 L756.7 906.4 L757.6 914.4 L758.6 913.6 L759.5 909.7 L760.5 919.3 L761.4 911.3 L762.4 908.5 L763.3 914.6 L764.3 905.2 L765.2 919.2 L766.2 916.0 L767.1 908.9 L768.1 911.6 L769.0 909.8 L770.0 914.4 L770.9 902.9 L771.9 899.9 L772.8 897.2 L773.8 905.6 L774.7 901.9 L775.7 909.4 L776.6 913.3 L777.6 910.6 L778.5 908.6 L779.5 916.7 L780.4 909.7 L781.4 910.0 L782.3 911.7 L783.3 901.3 L784.2 902.2 L785.2 914.2 L786.1 904.5 L787.1 900.5 L788.0 903.3 L789.0 901.3 L789.9 897.9 L790.9 900.6 L791.8 901.3 L792.8 900.5 L793.7 902.0 L794.7 891.9 L795.6 892.5 L796.6 901.8 L797.5 896.9 L798.5 904.3 L799.4 901.2 L800.4 894.9 L801.3 903.4 L802.3 897.5 L803.2 902.8 L804.2 906.6 L805.1 909.8 L806.1 900.3 L807.0 902.7 L808.0 900.1 L808.9 901.0 L809.9 887.6 L810.8 893.3 L811.8 894.4 L812.7 893.2 L813.7 886.4 L814.6 891.1 L815.6 890.8 L816.5 885.6 L817.5 883.9 L818.4 883.5 L819.4 886.0 L820.3 890.9 L821.3 893.0 L822.2 885.7 L823.2 884.1 L824.1 884.5 L825.1 891.0 L826.0 886.8 L827.0 885.5 L827.9 884.3 L828.9 881.8 L829.8 877.9 L830.8 872.7 L831.7 873.3 L832.7 875.5 L833.6 876.0 L834.6 872.4 L835.5 871.7 L836.5 878.5 L837.4 871.0 L838.4 874.0 L839.3 872.4 L840.3 871.1 L841.2 869.5 L842.2 874.3 L843.1 873.8 L844.1 880.6 L845.0 872.2 L846.0 874.2 L846.9 877.1 L847.9 872.4 L848.8 873.2 L849.8 873.1 L850.7 862.0 L851.7 866.0 L852.6 863.1 L853.6 871.8 L854.5 865.7 L855.5 868.0 L856.4 872.7 L857.4 864.5 L858.3 866.0 L859.3 867.0 L860.2 864.0 L861.2 869.8 L862.1 868.1 L863.1 869.0 L864.0 865.3 L865.0 863.8 L865.9 863.3 L866.9 862.6 L867.8 856.5 L868.8 863.2 L869.7 863.7 L870.7 859.3 L871.6 856.3 L872.6 857.2 L873.5 856.9 L874.5 856.4 L875.4 861.5 L876.4 850.9 L877.3 855.8 L878.3 857.5 L879.2 855.7 L880.2 855.1 L881.1 852.5 L882.1 854.5 L883.0 859.7 L884.0 862.7 L884.9 854.6 L885.9 859.1 L886.8 859.4 L887.8 861.4 L888.7 858.5 L889.7 859.2 L890.6 860.7 L891.6 852.4 L892.5 856.5 L893.5 849.2 L894.4 848.3 L895.4 853.0 L896.3 851.0 L897.3 860.1 L898.2 863.5 L899.2 860.0 L900.1 861.9 L901.1 862.3 L902.0 862.4 L903.0 863.6 L903.9 863.8 L904.9 859.9 L905.8 857.6 L906.8 857.5 L907.7 861.3 L908.7 855.3 L909.6 860.9 L910.6 852.9 L911.5 857.4 L912.5 846.2 L913.4 846.9 L914.4 850.4 L915.3 849.9 L916.3 847.3 L917.2 855.8 L918.2 848.9 L919.1 850.5 L920.1 848.2 L921.0 857.5 L922.0 855.5 L922.9 854.8 L923.9 848.0 L924.8 856.2 L925.8 853.7 L926.7 857.2 L927.7 859.3 L928.6 853.2 L929.6 856.9 L930.5 859.6 L931.5 857.4 L932.4 856.5 L933.4 855.0 L934.3 858.0 L935.3 857.3 L936.2 867.1 L937.2 865.0 L938.1 860.9 L939.1 866.0 L940.0 861.6 L941.0 858.3 L941.9 870.8 L942.9 870.1 L943.8 859.2 L944.8 860.4 L945.7 862.0 L946.7 857.9 L947.6 854.5 L948.6 854.6 L949.5 855.1 L950.5 854.1 L951.4 857.7 L952.4 857.2 L953.3 856.7 L954.3 861.0 L955.2 856.2 L956.2 868.9 L957.1 858.5 L958.1 865.7 L959.0 868.4 L960.0 869.6 L960.9 869.7 L961.9 873.8 L962.8 865.1 L963.8 868.8 L964.7 869.3 L965.7 867.0 L966.6 866.9 L967.6 874.5 L968.5 868.2 L969.5 870.1 L970.4 871.8 L971.4 872.8 L972.3 874.7 L973.3 873.9 L974.2 876.4 L975.2 876.1 L976.1 877.9 L977.1 881.8 L978.0 874.5 L979.0 884.2 L979.9 877.2 L980.9 881.7 L981.8 880.3 L982.8 879.1 L983.7 873.7 L984.7 887.0 L985.6 879.0 L986.6 879.4 L987.5 886.3 L988.5 882.8 L989.4 889.3 L990.4 888.2 L991.3 884.3 L992.3 882.2 L993.2 883.5 L994.2 875.8 L995.1 881.0 L996.1 881.2 L997.0 879.6 L998.0 883.2 L998.9 878.5 L999.9 888.4 L1000.8 891.1 L1001.8 883.0 L1002.7 888.6 L1003.7 893.6 L1004.6 889.4 L1005.6 884.0 L1006.5 884.3 L1007.5 891.4 L1008.4 896.0 L1009.4 887.3 L1010.3 893.1 L1011.3 892.1 L1012.2 895.6 L1013.2 899.0 L1014.1 898.6 L1015.1 896.6 L1016.0 906.2 L1017.0 897.6 L1017.9 896.7 L1018.9 900.4 L1019.8 895.7 L1020.8 894.4 L1021.7 898.0 L1022.7 890.8 L1023.6 896.8 L1024.6 897.6 L1025.5 895.9 L1026.5 892.5 L1027.4 892.7 L1028.4 886.6 L1029.3 892.4 L1030.3 894.7 L1031.2 897.9 L1032.2 896.8 L1033.1 896.2 L1034.1 895.5 L1035.0 898.4 L1036.0 898.6 L1036.9 901.3 L1037.9 895.8 L1038.8 892.8 L1039.8 893.0 L1040.7 891.1 L1041.7 891.6 L1042.6 884.9 L1043.6 887.1 L1044.5 888.6 L1045.5 894.5 L1046.4 892.7 L1047.4 893.5 L1048.3 897.1 L1049.3 889.6 L1050.2 897.1 L1051.2 894.6 L1052.1 890.9 L1053.1 898.7 L1054.0 889.1 L1055.0 890.5 L1055.9 894.3 L1056.9 897.0 L1057.8 895.5 L1058.8 889.4 L1059.7 895.9 L1060.7 896.6 L1061.6 903.9 L1062.6 900.4 L1063.5 895.4 L1064.5 890.6 L1065.4 895.1 L1066.4 890.2 L1067.3 895.3 L1068.3 896.6 L1069.2 894.8 L1070.2 897.4 L1071.1 895.6 L1072.1 894.6 L1073.0 901.2 L1074.0 897.5 L1074.9 894.1 L1075.9 892.3 L1076.8 895.2 L1077.8 896.3 L1078.7 896.9 L1079.7 898.5 L1080.6 894.5 L1081.6 888.6 L1082.5 898.6 L1083.5 895.4 L1084.4 894.3 L1085.4 896.2 L1086.3 887.3 L1087.3 891.8 L1088.2 892.1 L1089.2 898.5 L1090.1 891.1 L1091.1 894.1 L1092.0 899.9 L1093.0 896.4 L1093.9 892.0 L1094.9 898.5 L1095.8 886.9 L1096.8 891.9 L1097.7 889.1 L1098.7 891.1 L1099.6 888.3 L1100.6 886.3 L1101.5 889.6 L1102.5 884.4 L1103.4 890.2 L1104.4 887.3 L1105.3 891.4 L1106.3 887.1 L1107.2 886.8 L1108.2 890.9 L1109.1 894.3 L1110.1 884.1 L1111.0 891.6 L1112.0 893.2 L1112.9 886.1 L1113.9 887.1 L1114.8 891.0 L1115.8 885.2 L1116.7 885.0 L1117.7 892.2 L1118.6 883.4 L1119.6 883.8 L1120.5 879.6 L1121.5 883.4 L1122.4 882.7 L1123.4 891.6 L1124.3 889.0 L1125.3 879.9 L1126.2 889.6 L1127.2 885.3 L1128.1 882.3 L1129.1 885.9 L1130.0 885.2 L1131.0 882.2 L1131.9 879.6 L1132.9 882.8 L1133.8 886.0 L1134.8 885.0 L1135.7 883.8 L1136.7 889.3 L1137.6 882.6 L1138.6 888.9 L1139.5 884.5 L1140.5 886.6 L1141.4 882.8 L1142.4 886.4 L1143.3 883.9 L1144.3 880.6 L1145.2 885.8 L1146.2 885.4 L1147.1 888.0 L1148.1 886.0 L1149.0 881.7 L1150.0 882.7 L1150.9 877.2 L1151.9 880.4 L1152.8 887.7 L1153.8 888.0 L1154.7 885.3 L1155.7 883.5 L1156.6 884.3 L1157.6 883.9 L1158.5 877.1 L1159.5 880.4 L1160.4 887.8 L1161.4 889.0 L1162.3 887.3 L1163.3 886.9 L1164.2 887.8 L1165.2 888.1 L1166.1 887.2 L1167.1 883.8 L1168.0 889.6 L1169.0 886.6 L1169.9 885.9 L1170.9 890.5 L1171.8 885.6 L1172.8 880.3 L1173.7 883.4 L1174.7 876.2 L1175.6 883.9 L1176.6 881.4 L1177.5 880.2 L1178.5 883.1 L1179.4 886.5 L1180.4 881.1 L1181.3 880.1 L1182.3 890.4 L1183.2 884.3 L1184.2 889.5 L1185.1 883.1 L1186.1 886.8 L1187.0 883.9 L1188.0 888.0 L1188.9 885.0 L1189.9 883.4 L1190.8 889.6 L1191.8 884.8 L1192.7 876.1 L1193.7 880.3 L1194.6 876.9 L1195.6 874.9 L1196.5 876.2 L1197.5 876.3 L1198.4 878.1 L1199.4 875.9 L1200.3 873.1 L1201.3 877.6 L1202.2 882.1 L1203.2 875.0 L1204.1 880.8 L1205.1 879.8 L1206.0 876.6 L1207.0 878.6 L1207.9 875.1 L1208.9 875.9 L1209.8 873.7 L1210.8 878.0 L1211.7 880.4 L1212.7 873.7 L1213.6 879.4 L1214.6 869.3 L1215.5 873.5 L1216.5 873.9 L1217.4 883.2 L1218.4 877.0 L1219.3 881.9 L1220.3 873.6 L1221.2 880.1 L1222.2 880.9 L1223.1 878.1 L1224.1 870.3 L1225.0 876.7 L1226.0 878.0 L1226.9 879.3 L1227.9 876.5 L1228.8 870.5 L1229.8 875.5 L1230.7 879.4 L1231.7 874.5 L1232.6 878.9 L1233.6 875.5 L1234.5 876.7 L1235.5 877.8 L1236.4 872.2 L1237.4 879.8 L1238.3 872.5 L1239.3 872.3 L1240.2 868.7 L1241.2 871.3 L1242.1 870.8 L1243.1 867.8 L1244.0 868.3 L1245.0 874.2 L1245.9 873.2 L1246.9 866.5 L1247.8 866.1 L1248.8 870.9 L1249.7 871.0 L1250.7 872.6 L1251.6 866.8 L1252.6 872.4 L1253.5 869.8 L1254.5 869.2 L1255.4 870.1 L1256.4 873.0 L1257.3 870.9 L1258.3 871.2 L1259.2 866.1 L1260.2 867.4 L1261.1 865.4 L1262.1 868.3 L1263.0 870.0 L1264.0 870.9 L1264.9 875.1 L1265.9 874.4 L1266.8 874.9 L1267.8 872.2 L1268.7 874.0 L1269.7 870.2 L1270.6 871.9 L1271.6 869.8 L1272.5 869.9 L1273.5 866.9 L1274.4 862.8 L1275.4 861.7 L1276.3 871.6 L1277.3 867.0 L1278.2 867.5 L1279.2 866.1 L1280.1 865.7 L1281.1 873.7 L1282.0 863.6 L1283.0 865.9 L1283.9 864.8 L1284.9 860.4 L1285.8 859.0 L1286.8 860.0 L1287.7 860.8 L1288.7 860.5 L1289.6 864.5 L1290.6 859.0 L1291.5 864.2 L1292.5 868.0 L1293.4 867.2 L1294.4 862.5 L1295.3 860.9 L1296.3 871.4 L1297.2 871.9 L1298.2 870.0 L1299.1 876.4 L1300.1 872.1 L1301.0 873.8 L1302.0 870.5 L1302.9 874.4 L1303.9 872.4 L1304.8 872.5 L1305.8 877.6 L1306.7 875.6 L1307.7 871.2 L1308.6 877.9 L1309.6 878.6 L1310.5 873.9 L1311.5 875.2 L1312.4 876.6 L1313.4 875.7 L1314.3 876.8 L1315.3 878.4 L1316.2 875.2 L1317.2 883.0 L1318.1 875.5 L1319.1 876.9 L1320.0 885.1 L1321.0 886.9 L1321.9 881.6 L1322.9 881.5 L1323.8 879.2 L1324.8 885.4 L1325.7 882.3 L1326.7 879.0 L1327.6 882.3 L1328.6 884.8 L1329.5 882.7 L1330.5 886.9 L1331.4 883.8 L1332.4 881.8 L1333.3 880.8 L1334.3 883.3 L1335.2 886.4 L1336.2 887.0 L1337.1 889.4 L1338.1 888.8 L1339.0 891.9 L1340.0 894.4 L1340.9 891.3 L1341.9 888.6 L1342.8 897.5 L1343.8 894.4 L1344.7 891.6 L1345.7 893.5 L1346.6 892.0 L1347.6 887.8 L1348.5 892.1 L1349.5 888.8 L1350.4 893.9 L1351.4 893.6 L1352.3 897.7 L1353.3 894.7 L1354.2 896.4 L1355.2 894.7 L1356.1 894.6 L1357.1 891.9 L1358.0 898.8 L1359.0 896.9 L1359.9 895.2 L1360.9 897.9 L1361.8 896.7 L1362.8 896.3 L1363.7 899.4 L1364.7 902.5 L1365.6 898.8 L1366.6 895.9 L1367.5 898.6 L1368.5 905.8 L1369.4 899.1 L1370.4 905.5 L1371.3 902.4 L1372.3 906.1 L1373.2 904.6 L1374.2 901.4 L1375.1 905.3 L1376.1 913.0 L1377.0 907.6 L1378.0 910.6 L1378.9 909.4 L1379.9 911.4 L1380.8 914.1 L1381.8 916.0 L1382.7 922.1 L1383.7 917.3 L1384.6 918.0 L1385.6 917.8 L1386.5 917.0 L1387.5 917.0 L1388.4 924.0 L1389.4 917.7 L1390.3 927.2 L1391.3 926.2 L1392.2 923.6 L1393.2 922.0 L1394.1 926.1 L1395.1 927.2 L1396.0 931.4 L1397.0 927.5 L1397.9 929.6 L1398.9 931.4 L1399.8 931.6 L1400.8 931.4 L1401.7 929.3 L1402.7 930.4 L1403.6 934.1 L1404.6 936.5 L1405.5 941.0 L1406.5 945.5 L1407.4 945.3 L1408.4 942.7 L1409.3 947.4 L1410.3 942.7 L1411.2 942.1 L1412.2 949.9 L1413.1 941.6 L1414.1 943.9 L1415.0 945.0 L1416.0 950.5 L1416.9 946.0 L1417.9 950.8 L1418.8 948.8 L1419.8 947.7 L1420.7 952.6 L1421.7 953.3 L1422.6 950.6 L1423.6 952.1 L1424.5 953.1 L1425.5 958.6 L1426.4 958.3 L1427.4 959.0 L1428.3 961.1 L1429.3 960.0 L1430.2 963.9 L1431.2 962.1 L1432.1 961.0 L1433.1 963.1 L1434.0 965.8 L1435.0 965.8 L1435.9 968.7 L1436.9 962.1 L1437.8 966.9 L1438.8 969.7 L1439.7 967.4 L1440.7 971.9 L1441.6 971.4 L1442.6 970.6 L1443.5 977.5 L1444.5 971.8 L1445.4 978.8 L1446.4 975.6 L1447.3 974.5 L1448.3 974.7 L1449.2 975.0 L1450.2 974.6 L1451.1 977.4 L1452.1 971.8 L1453.0 980.0 L1454.0 979.3 L1454.9 981.2 L1455.9 975.6 L1456.8 973.2 L1457.8 978.1 L1458.7 980.1 L1459.7 982.0 L1460.6 980.6 L1461.6 982.2 L1462.5 983.3 L1463.5 979.3 L1464.4 988.3 L1465.4 981.0 L1466.3 984.8 L1467.3 987.1 L1468.2 982.4 L1469.2 984.7 L1470.1 989.2 L1471.1 984.9 L1472.0 989.0 L1473.0 987.9 L1473.9 988.6 L1474.9 990.6 L1475.8 988.8 L1476.8 989.2 L1477.7 992.4 L1478.7 990.6 L1479.6 991.1 L1480.6 986.7 L1481.5 989.9 L1482.5 993.2 L1483.4 992.9 L1484.4 992.4 L1485.3 991.3 L1486.3 992.4 L1487.2 996.4 L1488.2 1000.0 L1489.1 997.4 L1490.1 1001.1 L1491.0 997.4 L1492.0 1001.4 L1492.9 996.0 L1493.9 999.2 L1494.8 996.3 L1495.8 1000.9 L1496.7 1001.1 L1497.7 997.7 L1498.6 998.7 L1499.6 1000.1 L1500.5 998.2 L1501.5 1000.2 L1502.4 1000.8 L1503.4 1005.2 L1504.3 1006.7 L1505.3 1001.9 L1506.2 1001.9 L1507.2 1002.7 L1508.1 1000.5 L1509.1 1000.9 L1510.0 1003.6 L1511.0 1002.4 L1511.9 1002.1 L1512.9 1001.6 L1513.8 1007.4 L1514.8 1003.0 L1515.7 1005.5 L1516.7 1003.2 L1517.6 1004.6 L1518.6 1006.6 L1519.5 1005.6 L1520.5 1007.9 L1521.4 1006.8 L1522.4 1003.2 L1523.3 1001.2 L1524.3 1009.1 L1525.2 1005.6 L1526.2 1011.1 L1527.1 1008.2 L1528.1 1007.1 L1529.0 1011.0 L1530.0 1009.5 L1530.9 1010.6 L1531.9 1008.7 L1532.8 1012.8 L1533.8 1014.3 L1534.7 1010.8 L1535.7 1017.0 L1536.6 1011.9 L1537.6 1014.6 L1538.5 1010.9 L1539.5 1010.9 L1540.4 1021.2 L1541.4 1020.0 L1542.3 1019.5 L1543.3 1012.6 L1544.2 1017.0 L1545.2 1017.3 L1546.1 1016.3 L1547.1 1016.8 L1548.0 1013.9 L1549.0 1015.7 L1549.9 1013.4 L1550.9 1015.2 L1551.8 1016.8 L1552.8 1013.8 L1553.7 1014.8 L1554.7 1014.3 L1555.6 1015.2 L1556.6 1017.3 L1557.5 1015.9 L1558.5 1016.6 L1559.4 1012.7 L1560.4 1015.8 L1561.3 1019.1 L1562.3 1015.5 L1563.2 1016.7 L1564.2 1015.4 L1565.1 1020.7 L1566.1 1016.3 L1567.0 1015.5 L1568.0 1018.7 L1568.9 1020.1 L1569.9 1019.1 L1570.8 1021.0 L1571.8 1020.0 L1572.7 1019.9 L1573.7 1019.6 L1574.6 1019.5 L1575.6 1019.1 L1576.5 1020.9 L1577.5 1019.3 L1578.4 1019.5 L1579.4 1020.7 L1580.3 1019.5 L1581.3 1017.2 L1582.2 1019.3 L1583.2 1019.4 L1584.1 1018.2 L1585.1 1023.2 L1586.0 1020.3 L1587.0 1020.0 L1587.9 1020.1 L1588.9 1024.2 L1589.8 1021.0 L1590.8 1023.6 L1591.7 1020.8 L1592.7 1019.9 L1593.6 1022.0 L1594.6 1022.1 L1595.5 1021.0 L1596.5 1018.5 L1597.4 1020.1 L1598.4 1019.0 L1599.3 1021.7 L1600.3 1023.1 L1601.2 1026.8 L1602.2 1027.1 L1603.1 1025.8 L1604.1 1026.7 L1605.0 1025.3 L1606.0 1029.9 L1606.9 1028.6 L1607.9 1030.3 L1608.8 1026.4 L1609.8 1026.7 L1610.7 1028.4 L1611.7 1026.8 L1612.6 1027.5 L1613.6 1025.0 L1614.5 1030.0 L1615.5 1028.9 L1616.4 1031.2 L1617.4 1029.5 L1618.3 1026.6 L1619.3 1032.0 L1620.2 1033.4 L1621.2 1027.7 L1622.1 1028.0 L1623.1 1029.1 L1624.0 1028.9 L1625.0 1025.5 L1625.9 1033.3 L1626.9 1031.9 L1627.8 1028.5 L1628.8 1026.0 L1629.7 1030.8 L1630.7 1034.3 L1631.6 1031.5 L1632.6 1032.0 L1633.5 1027.3 L1634.5 1030.0 L1635.4 1026.5 L1636.4 1034.7 L1637.3 1032.2 L1638.3 1027.1 L1639.2 1028.5 L1640.2 1034.5 L1641.1 1034.5 L1642.1 1034.2 L1643.0 1036.6 L1644.0 1039.9 L1644.9 1036.2 L1645.9 1031.1 L1646.8 1034.2 L1647.8 1031.1 L1648.7 1031.7 L1649.7 1033.7 L1650.6 1032.3 L1651.6 1030.2 L1652.5 1032.4 L1653.5 1030.7 L1654.4 1033.6 L1655.4 1032.0 L1656.3 1033.4 L1657.3 1032.2 L1658.2 1034.7 L1659.2 1033.1 L1660.1 1033.7 L1661.1 1032.9 L1662.0 1034.7 L1663.0 1030.8 L1663.9 1039.5 L1664.9 1033.3 L1665.8 1035.0 L1666.8 1033.7 L1667.7 1033.7 L1668.7 1035.6 L1669.6 1033.7 L1670.6 1034.1 L1671.5 1032.4 L1672.5 1033.8 L1673.4 1033.9 L1674.4 1040.8 L1675.3 1034.8 L1676.3 1035.9 L1677.2 1038.9 L1678.2 1041.6 L1679.1 1034.9 L1680.1 1034.9 L1681.0 1038.1 L1682.0 1038.2 L1682.9 1034.3 L1683.9 1033.3 L1684.8 1034.9 L1685.8 1038.4 L1686.7 1036.7 L1687.7 1038.3 L1688.6 1036.5 L1689.6 1036.9 L1690.5 1038.6 L1691.5 1037.5 L1692.4 1038.8 L1693.4 1036.9 L1694.3 1037.9 L1695.3 1040.3 L1696.2 1038.7 L1697.2 1037.3 L1698.1 1039.7 L1699.1 1038.9 L1700.0 1037.2 L1701.0 1035.3 L1701.9 1038.4 L1702.9 1041.0 L1703.8 1034.7 L1704.8 1033.2 L1705.7 1034.8 L1706.7 1034.5 L1707.6 1033.9 L1708.6 1034.2 L1709.5 1038.7 L1710.5 1039.2 L1711.4 1041.3 L1712.4 1040.7 L1713.3 1039.2 L1714.3 1043.4 L1715.2 1040.8 L1716.2 1042.1 L1717.1 1040.8 L1718.1 1045.9 L1719.0 1045.4 L1720.0 1042.3 L1720.9 1042.6 L1721.9 1043.3 L1722.8 1043.9 L1723.8 1045.5 L1724.7 1044.3 L1725.7 1045.3 L1726.6 1041.6 L1727.6 1044.1 L1728.5 1041.0 L1729.5 1048.1 L1730.4 1047.3 L1731.4 1045.8 L1732.3 1046.5 L1733.3 1048.1 L1734.2 1045.7 L1735.2 1040.3 L1736.1 1042.7 L1737.1 1038.4 L1738.0 1040.8 L1739.0 1039.7 L1739.9 1041.9 L1740.9 1042.4 L1741.8 1039.5 L1742.8 1040.5 L1743.7 1041.4 L1744.7 1040.6 L1745.6 1040.9 L1746.6 1037.6 L1747.5 1041.8 L1748.5 1044.9 L1749.4 1044.5 L1750.4 1041.5 L1751.3 1044.0 L1752.3 1045.0 L1753.2 1042.4 L1754.2 1045.4 L1755.1 1042.4 L1756.1 1043.3 L1757.0 1043.7 L1758.0 1048.3 L1758.9 1043.4 L1759.9 1042.9 L1760.8 1045.5 L1761.8 1043.2 L1762.7 1044.6 L1763.7 1040.2 L1764.6 1045.1 L1765.6 1044.6 L1766.5 1042.2 L1767.5 1047.3 L1768.4 1044.2 L1769.4 1044.3 L1770.3 1042.3 L1771.3 1041.8 L1772.2 1043.9 L1773.2 1042.1 L1774.1 1046.0 L1775.1 1046.6 L1776.0 1043.6 L1777.0 1041.5 L1777.9 1043.6 L1778.9 1042.3 L1779.8 1044.7 L1780.8 1045.0 L1781.7 1044.4 L1782.7 1046.0 L1783.6 1048.4 L1784.6 1050.1 L1785.5 1046.1 L1786.5 1048.4 L1787.4 1046.3 L1788.4 1044.4 L1789.3 1048.4 L1790.3 1046.6 L1791.2 1046.1 L1792.2 1046.6 L1793.1 1045.8 L1794.1 1044.2 L1795.0 1049.4 L1796.0 1047.6 L1796.9 1046.1 L1797.9 1047.1 L1798.8 1047.5 L1799.8 1044.7 L1800.7 1046.2 L1801.7 1044.6 L1802.6 1046.3 L1803.6 1044.6 L1804.5 1049.0 L1805.5 1044.2 L1806.4 1045.9 L1807.4 1046.2 L1808.3 1045.4 L1809.3 1048.8 L1810.2 1048.1 L1811.2 1048.8 L1812.1 1050.8 L1813.1 1050.4 L1814.0 1054.6 L1815.0 1053.8 L1815.9 1054.4 L1816.9 1049.7 L1817.8 1052.0 L1818.8 1049.2 L1819.7 1050.0 L1820.7 1051.4 L1821.6 1049.1 L1822.6 1048.2 L1823.5 1050.6 L1824.5 1050.5 L1825.4 1052.3 L1826.4 1045.9 L1827.3 1050.2 L1828.3 1049.2 L1829.2 1048.6 L1830.2 1050.5 L1831.1 1048.1 L1832.1 1046.2 L1833.0 1048.2 L1834.0 1049.1 L1834.9 1052.9 L1835.9 1048.4 L1836.8 1048.1 L1837.8 1047.3 L1838.7 1050.9 L1839.7 1051.7 L1840.6 1052.8 L1841.6 1050.0 L1842.5 1051.0 L1843.5 1048.0 L1844.4 1051.5 L1845.4 1047.9 L1846.3 1046.4 L1847.3 1052.1 L1848.2 1051.0 L1849.2 1051.0 L1850.1 1051.4 L1851.1 1049.5 L1852.0 1053.7 L1853.0 1050.5 L1853.9 1055.9 L1854.9 1053.0 L1855.8 1049.1 L1856.8 1053.4 L1857.7 1054.7 L1858.7 1050.1 L1859.6 1051.8 L1860.6 1049.1 L1861.5 1048.1 L1862.5 1045.2 L1863.4 1051.1 L1864.4 1048.2 L1865.3 1049.8 L1866.3 1047.5 L1867.2 1048.1 L1868.2 1051.9 L1869.1 1049.4 L1870.1 1049.5 L1871.0 1048.0 L1872.0 1050.5 L1872.9 1051.5 L1873.9 1049.5 L1874.8 1050.1 L1875.8 1048.5 L1876.7 1053.2 L1877.7 1050.0 L1878.6 1050.9 L1879.6 1054.1 L1880.5 1050.9 L1881.5 1048.7 L1882.4 1049.8 L1883.4 1050.7 L1884.3 1054.3 L1885.3 1051.5 L1886.2 1050.4 L1887.2 1051.9 L1888.1 1052.4 L1889.1 1048.7 L1890.0 1052.3 L1891.0 1051.5 L1891.9 1051.1 L1892.9 1047.0 L1893.8 1051.4 L1894.8 1053.7 L1895.7 1051.3 L1896.7 1055.7 L1897.6 1052.2 L1898.6 1050.5 L1899.5 1053.2 L1900.5 1052.7 L1901.4 1053.6 L1902.4 1051.8 L1903.3 1054.4 L1904.3 1051.4 L1905.2 1052.8 L1906.2 1050.8 L1907.1 1051.9 L1908.1 1053.9 L1909.0 1052.7 L1910.0 1053.1 L1910.9 1053.5 L1911.9 1054.0 L1912.8 1054.4 L1913.8 1053.8 L1914.7 1053.6 L1915.7 1051.5 L1916.6 1049.6 L1917.6 1047.3 L1918.5 1048.7 L1919.5 1047.6 L1920.4 1045.7 L1921.4 1051.3 L1922.3 1045.7 L1923.3 1049.4 L1924.2 1050.0 L1925.2 1049.0 L1926.1 1053.3 L1927.1 1050.2 L1928.0 1049.5 L1929.0 1054.2 L1929.9 1050.8 L1930.9 1050.3 L1931.8 1051.4 L1932.8 1052.1 L1933.7 1053.1 L1934.7 1053.3 L1935.6 1049.8 L1936.6 1052.4 L1937.5 1054.9 L1938.5 1050.0 L1939.4 1050.9 L1940.4 1052.2 L1941.3 1053.1 L1942.3 1050.2 L1943.2 1049.8 L1944.2 1049.8 L1945.1 1053.3 L1946.1 1053.2 L1947.0 1048.8 L1948.0 1049.2 L1948.9 1051.1 L1949.9 1051.0 L1950.8 1054.2 L1951.8 1054.0 L1952.7 1056.6 L1953.7 1054.5 L1954.6 1053.0 L1955.6 1054.1 L1956.5 1050.3"/>
<path stroke="#6f3608" d="M352.0 807.9 L352.9 808.4 L353.9 814.4 L354.8 817.9 L355.8 809.8 L356.7 807.2 L357.7 819.9 L358.6 809.6 L359.6 810.4 L360.5 811.5 L361.5 813.6 L362.4 815.3 L363.4 809.9 L364.3 812.7 L365.3 822.5 L366.2 821.4 L367.2 815.7 L368.1 814.1 L369.1 810.6 L370.0 815.2 L371.0 806.9 L371.9 809.2 L372.9 806.2 L373.8 805.3 L374.8 808.4 L375.7 808.2 L376.7 805.3 L377.6 807.4 L378.6 807.7 L379.5 805.0 L380.5 804.0 L381.4 806.2 L382.4 809.6 L383.3 810.8 L384.3 805.5 L385.2 802.2 L386.2 802.4 L387.1 810.7 L388.1 806.0 L389.0 797.8 L390.0 802.8 L390.9 801.7 L391.9 804.0 L392.8 799.9 L393.8 810.1 L394.7 806.3 L395.7 812.5 L396.6 824.5 L397.6 823.8 L398.5 816.1 L399.5 815.4 L400.4 815.1 L401.4 809.2 L402.3 811.5 L403.3 812.9 L404.2 807.9 L405.2 815.3 L406.1 811.5 L407.1 809.8 L408.0 821.2 L409.0 817.6 L409.9 815.7 L410.9 824.5 L411.8 822.4 L412.8 813.1 L413.7 817.5 L414.7 813.5 L415.6 808.3 L416.6 823.0 L417.5 820.7 L418.5 807.8 L419.4 815.8 L420.4 806.4 L421.3 819.3 L422.3 815.1 L423.2 815.2 L424.2 823.6 L425.1 819.4 L426.1 819.7 L427.0 826.6 L428.0 822.5 L428.9 829.0 L429.9 825.8 L430.8 829.8 L431.8 828.7 L432.7 829.0 L433.7 820.1 L434.6 832.4 L435.6 822.2 L436.5 830.0 L437.5 818.2 L438.4 818.6 L439.4 817.5 L440.3 822.8 L441.3 814.7 L442.2 817.6 L443.2 807.9 L444.1 812.3 L445.1 815.1 L446.0 813.5 L447.0 805.7 L447.9 817.1 L448.9 811.4 L449.8 825.8 L450.8 817.5 L451.7 830.0 L452.7 824.1 L453.6 824.5 L454.6 821.6 L455.5 824.5 L456.5 828.2 L457.4 818.4 L458.4 832.5 L459.3 823.3 L460.3 827.8 L461.2 818.6 L462.2 830.9 L463.1 831.8 L464.1 828.9 L465.0 828.0 L466.0 823.5 L466.9 824.4 L467.9 827.9 L468.8 819.6 L469.8 823.6 L470.7 825.3 L471.7 822.5 L472.6 826.7 L473.6 828.7 L474.5 827.4 L475.5 841.0 L476.4 829.4 L477.4 839.0 L478.3 835.7 L479.3 821.4 L480.2 831.5 L481.2 835.0 L482.1 833.9 L483.1 826.0 L484.0 830.7 L485.0 823.5 L485.9 823.5 L486.9 826.3 L487.8 827.6 L488.8 833.6 L489.7 827.8 L490.7 831.1 L491.6 821.2 L492.6 821.7 L493.5 824.9 L494.5 835.1 L495.4 821.3 L496.4 820.3 L497.3 827.2 L498.3 833.1 L499.2 820.8 L500.2 827.4 L501.1 822.9 L502.1 835.9 L503.0 832.9 L504.0 831.3 L504.9 830.1 L505.9 829.4 L506.8 831.2 L507.8 827.7 L508.7 826.7 L509.7 825.8 L510.6 831.0 L511.6 827.6 L512.5 835.2 L513.5 821.9 L514.4 833.5 L515.4 832.9 L516.3 835.4 L517.3 828.5 L518.2 822.8 L519.2 825.5 L520.1 835.1 L521.1 829.3 L522.0 829.4 L523.0 829.1 L523.9 831.7 L524.9 831.0 L525.8 824.9 L526.8 828.7 L527.7 835.3 L528.7 836.6 L529.6 828.9 L530.6 826.3 L531.5 833.9 L532.5 826.6 L533.4 822.2 L534.4 827.6 L535.3 833.0 L536.3 839.3 L537.2 832.9 L538.2 839.9 L539.1 837.6 L540.1 844.7 L541.0 840.5 L542.0 839.5 L542.9 832.9 L543.9 834.9 L544.8 834.3 L545.8 825.6 L546.7 839.5 L547.7 836.0 L548.6 835.4 L549.6 835.0 L550.5 836.7 L551.5 837.5 L552.4 830.4 L553.4 836.2 L554.3 835.5 L555.3 834.5 L556.2 827.3 L557.2 832.8 L558.1 827.8 L559.1 835.2 L560.0 839.8 L561.0 838.2 L561.9 833.0 L562.9 832.1 L563.8 831.7 L564.8 835.3 L565.7 830.6 L566.7 831.2 L567.6 824.0 L568.6 830.8 L569.5 832.1 L570.5 834.1 L571.4 842.5 L572.4 831.7 L573.3 831.7 L574.3 839.6 L575.2 831.9 L576.2 834.7 L577.1 835.8 L578.1 835.2 L579.0 832.3 L580.0 840.5 L580.9 844.0 L581.9 834.0 L582.8 837.9 L583.8 843.6 L584.7 839.3 L585.7 836.5 L586.6 839.9 L587.6 846.4 L588.5 839.5 L589.5 845.7 L590.4 846.7 L591.4 842.3 L592.3 847.1 L593.3 846.5 L594.2 846.6 L595.2 844.7 L596.1 832.8 L597.1 841.6 L598.0 839.3 L599.0 840.2 L599.9 831.8 L600.9 838.8 L601.8 835.9 L602.8 828.7 L603.7 838.5 L604.7 829.4 L605.6 828.3 L606.6 834.8 L607.5 831.3 L608.5 836.6 L609.4 835.6 L610.4 839.5 L611.3 843.6 L612.3 841.7 L613.2 847.1 L614.2 848.1 L615.1 841.7 L616.1 849.1 L617.0 847.9 L618.0 845.2 L618.9 848.4 L619.9 849.5 L620.8 844.6 L621.8 834.3 L622.7 841.7 L623.7 838.9 L624.6 838.1 L625.6 840.6 L626.5 837.6 L627.5 845.8 L628.4 840.1 L629.4 839.3 L630.3 843.2 L631.3 844.2 L632.2 847.1 L633.2 846.2 L634.1 844.7 L635.1 846.6 L636.0 837.9 L637.0 841.6 L637.9 852.7 L638.9 847.4 L639.8 856.7 L640.8 856.9 L641.7 844.4 L642.7 851.2 L643.6 859.6 L644.6 847.1 L645.5 852.2 L646.5 849.6 L647.4 849.3 L648.4 848.9 L649.3 849.7 L650.3 852.8 L651.2 846.4 L652.2 852.2 L653.1 847.7 L654.1 853.4 L655.0 853.0 L656.0 848.4 L656.9 851.5 L657.9 846.6 L658.8 844.4 L659.8 850.7 L660.7 836.3 L661.7 844.4 L662.6 843.6 L663.6 837.1 L664.5 843.3 L665.5 841.9 L666.4 832.4 L667.4 839.6 L668.3 839.3 L669.3 834.3 L670.2 839.9 L671.2 840.6 L672.1 834.5 L673.1 829.0 L674.0 838.6 L675.0 833.5 L675.9 829.1 L676.9 834.6 L677.8 827.0 L678.8 835.4 L679.7 843.6 L680.7 828.8 L681.6 840.8 L682.6 836.0 L683.5 838.8 L684.5 837.2 L685.4 843.7 L686.4 840.8 L687.3 836.9 L688.3 833.6 L689.2 836.0 L690.2 841.5 L691.1 831.2 L692.1 837.6 L693.0 837.3 L694.0 827.8 L694.9 840.4 L695.9 835.4 L696.8 844.2 L697.8 841.7 L698.7 833.2 L699.7 833.6 L700.6 830.6 L701.6 830.0 L702.5 840.0 L703.5 836.9 L704.4 837.4 L705.4 839.2 L706.3 843.4 L707.3 845.1 L708.2 841.9 L709.2 841.7 L710.1 843.5 L711.1 851.8 L712.0 834.8 L713.0 838.0 L713.9 843.9 L714.9 841.8 L715.8 845.5 L716.8 845.5 L717.7 848.2 L718.7 837.1 L719.6 843.1 L720.6 839.9 L721.5 844.9 L722.5 841.6 L723.4 844.0 L724.4 836.8 L725.3 839.6 L726.3 836.1 L727.2 836.6 L728.2 835.7 L729.1 833.5 L730.1 842.5 L731.0 839.5 L732.0 843.0 L732.9 834.7 L733.9 831.0 L734.8 836.4 L735.8 838.6 L736.7 842.6 L737.7 843.9 L738.6 844.6 L739.6 845.7 L740.5 842.1 L741.5 839.1 L742.4 834.9 L743.4 840.1 L744.3 834.6 L745.3 832.8 L746.2 837.8 L747.2 835.9 L748.1 838.1 L749.1 831.7 L750.0 839.3 L751.0 836.2 L751.9 834.3 L752.9 832.0 L753.8 830.6 L754.8 829.1 L755.7 839.8 L756.7 828.0 L757.6 835.9 L758.6 832.2 L759.5 831.0 L760.5 831.7 L761.4 833.7 L762.4 838.4 L763.3 837.8 L764.3 836.3 L765.2 831.4 L766.2 830.0 L767.1 844.2 L768.1 832.1 L769.0 828.7 L770.0 837.8 L770.9 825.6 L771.9 832.7 L772.8 831.8 L773.8 827.7 L774.7 829.6 L775.7 819.9 L776.6 820.5 L777.6 825.1 L778.5 826.5 L779.5 827.1 L780.4 830.1 L781.4 826.0 L782.3 820.8 L783.3 830.8 L784.2 827.8 L785.2 831.1 L786.1 834.8 L787.1 825.5 L788.0 826.1 L789.0 818.9 L789.9 824.9 L790.9 821.8 L791.8 820.9 L792.8 823.2 L793.7 815.0 L794.7 821.7 L795.6 821.3 L796.6 825.7 L797.5 812.2 L798.5 818.6 L799.4 827.0 L800.4 816.4 L801.3 815.9 L802.3 824.2 L803.2 825.6 L804.2 816.9 L805.1 812.9 L806.1 812.4 L807.0 812.0 L808.0 809.1 L808.9 808.2 L809.9 811.3 L810.8 810.3 L811.8 811.7 L812.7 809.7 L813.7 804.6 L814.6 811.8 L815.6 809.4 L816.5 805.5 L817.5 805.9 L818.4 807.4 L819.4 805.8 L820.3 804.4 L821.3 807.5 L822.2 808.6 L823.2 803.6 L824.1 805.5 L825.1 802.2 L826.0 806.7 L827.0 809.8 L827.9 811.6 L828.9 808.8 L829.8 807.3 L830.8 804.3 L831.7 807.2 L832.7 801.4 L833.6 805.3 L834.6 804.0 L835.5 799.4 L836.5 802.9 L837.4 799.6 L838.4 801.6 L839.3 796.7 L840.3 800.1 L841.2 804.3 L842.2 799.3 L843.1 802.0 L844.1 796.6 L845.0 797.5 L846.0 791.0 L846.9 796.7 L847.9 792.1 L848.8 796.2 L849.8 787.6 L850.7 792.2 L851.7 796.0 L852.6 797.4 L853.6 789.8 L854.5 794.5 L855.5 804.3 L856.4 798.7 L857.4 796.3 L858.3 787.2 L859.3 792.4 L860.2 797.9 L861.2 796.6 L862.1 797.0 L863.1 798.1 L864.0 793.8 L865.0 795.5 L865.9 784.4 L866.9 798.7 L867.8 788.7 L868.8 787.2 L869.7 795.6 L870.7 792.9 L871.6 795.3 L872.6 790.5 L873.5 795.0 L874.5 797.4 L875.4 790.9 L876.4 794.2 L877.3 793.6 L878.3 792.6 L879.2 790.2 L880.2 787.3 L881.1 793.0 L882.1 792.0 L883.0 795.2 L884.0 790.6 L884.9 788.5 L885.9 785.9 L886.8 792.0 L887.8 790.9 L888.7 799.8 L889.7 800.8 L890.6 798.2 L891.6 788.8 L892.5 786.5 L893.5 790.1 L894.4 786.9 L895.4 794.5 L896.3 788.6 L897.3 785.7 L898.2 786.3 L899.2 790.4 L900.1 782.0 L901.1 787.1 L902.0 780.3 L903.0 784.4 L903.9 782.6 L904.9 786.2 L905.8 785.8 L906.8 789.9 L907.7 788.6 L908.7 784.6 L909.6 782.8 L910.6 785.6 L911.5 787.8 L912.5 789.0 L913.4 787.3 L914.4 794.0 L915.3 793.3 L916.3 788.7 L917.2 787.9 L918.2 789.1 L919.1 790.3 L920.1 791.2 L921.0 786.4 L922.0 791.8 L922.9 787.5 L923.9 795.3 L924.8 798.3 L925.8 792.6 L926.7 797.4 L927.7 794.8 L928.6 794.7 L929.6 804.6 L930.5 801.0 L931.5 800.0 L932.4 797.3 L933.4 801.1 L934.3 799.8 L935.3 802.9 L936.2 798.5 L937.2 801.8 L938.1 800.6 L939.1 796.8 L940.0 808.1 L941.0 805.4 L941.9 800.5 L942.9 799.2 L943.8 803.0 L944.8 803.5 L945.7 804.9 L946.7 802.0 L947.6 804.8 L948.6 808.3 L949.5 810.1 L950.5 802.1 L951.4 809.9 L952.4 806.8 L953.3 806.8 L954.3 809.3 L955.2 807.6 L956.2 812.0 L957.1 811.5 L958.1 807.7 L959.0 806.5 L960.0 815.5 L960.9 816.2 L961.9 811.4 L962.8 809.9 L963.8 814.5 L964.7 816.6 L965.7 810.0 L966.6 818.8 L967.6 812.2 L968.5 817.1 L969.5 811.7 L970.4 814.0 L971.4 812.4 L972.3 814.4 L973.3 818.1 L974.2 811.5 L975.2 813.8 L976.1 816.9 L977.1 813.4 L978.0 822.3 L979.0 810.0 L979.9 823.1 L980.9 812.9 L981.8 818.5 L982.8 820.5 L983.7 816.2 L984.7 809.0 L985.6 812.5 L986.6 813.7 L987.5 815.3 L988.5 816.6 L989.4 816.8 L990.4 817.8 L991.3 808.9 L992.3 815.7 L993.2 806.3 L994.2 813.7 L995.1 810.6 L996.1 809.6 L997.0 820.5 L998.0 818.3 L998.9 822.6 L999.9 813.7 L1000.8 814.8 L1001.8 818.3 L1002.7 815.8 L1003.7 817.9 L1004.6 815.0 L1005.6 815.5 L1006.5 812.2 L1007.5 820.3 L1008.4 814.3 L1009.4 811.1 L1010.3 817.7 L1011.3 817.2 L1012.2 816.6 L1013.2 817.1 L1014.1 815.3 L1015.1 816.6 L1016.0 809.6 L1017.0 812.1 L1017.9 813.4 L1018.9 818.7 L1019.8 821.9 L1020.8 816.7 L1021.7 815.9 L1022.7 820.1 L1023.6 814.2 L1024.6 817.3 L1025.5 816.3 L1026.5 810.2 L1027.4 816.2 L1028.4 816.1 L1029.3 811.7 L1030.3 812.2 L1031.2 811.2 L1032.2 820.1 L1033.1 822.2 L1034.1 816.8 L1035.0 819.1 L1036.0 808.5 L1036.9 817.7 L1037.9 819.5 L1038.8 818.4 L1039.8 810.0 L1040.7 817.4 L1041.7 813.6 L1042.6 817.9 L1043.6 811.9 L1044.5 813.9 L1045.5 811.4 L1046.4 814.5 L1047.4 812.1 L1048.3 816.0 L1049.3 814.7 L1050.2 813.2 L1051.2 811.7 L1052.1 811.1 L1053.1 812.7 L1054.0 816.0 L1055.0 814.8 L1055.9 816.2 L1056.9 815.8 L1057.8 816.2 L1058.8 814.6 L1059.7 810.7 L1060.7 819.2 L1061.6 819.1 L1062.6 813.7 L1063.5 823.2 L1064.5 812.1 L1065.4 818.7 L1066.4 815.3 L1067.3 814.6 L1068.3 816.5 L1069.2 815.2 L1070.2 811.9 L1071.1 808.3 L1072.1 808.2 L1073.0 813.5 L1074.0 818.8 L1074.9 816.9 L1075.9 814.3 L1076.8 815.9 L1077.8 817.5 L1078.7 821.3 L1079.7 812.9 L1080.6 817.8 L1081.6 815.9 L1082.5 811.9 L1083.5 810.7 L1084.4 818.2 L1085.4 815.1 L1086.3 813.5 L1087.3 814.8 L1088.2 817.9 L1089.2 814.9 L1090.1 819.9 L1091.1 813.5 L1092.0 811.7 L1093.0 814.1 L1093.9 811.7 L1094.9 814.3 L1095.8 820.2 L1096.8 822.3 L1097.7 819.0 L1098.7 817.5 L1099.6 813.5 L1100.6 812.8 L1101.5 816.9 L1102.5 815.8 L1103.4 813.0 L1104.4 813.3 L1105.3 820.0 L1106.3 818.1 L1107.2 815.1 L1108.2 815.8 L1109.1 819.2 L1110.1 815.9 L1111.0 815.2 L1112.0 808.6 L1112.9 807.7 L1113.9 806.4 L1114.8 805.0 L1115.8 812.3 L1116.7 813.7 L1117.7 810.3 L1118.6 815.4 L1119.6 816.2 L1120.5 815.1 L1121.5 811.0 L1122.4 820.9 L1123.4 820.9 L1124.3 814.6 L1125.3 823.0 L1126.2 816.8 L1127.2 814.2 L1128.1 815.4 L1129.1 810.8 L1130.0 816.1 L1131.0 812.5 L1131.9 822.3 L1132.9 820.6 L1133.8 815.8 L1134.8 822.8 L1135.7 815.4 L1136.7 821.1 L1137.6 821.4 L1138.6 818.9 L1139.5 813.8 L1140.5 816.0 L1141.4 814.8 L1142.4 814.9 L1143.3 819.2 L1144.3 819.9 L1145.2 819.8 L1146.2 813.2 L1147.1 813.2 L1148.1 815.9 L1149.0 817.0 L1150.0 808.4 L1150.9 812.4 L1151.9 819.4 L1152.8 808.9 L1153.8 810.1 L1154.7 809.8 L1155.7 813.1 L1156.6 810.6 L1157.6 808.8 L1158.5 803.9 L1159.5 809.8 L1160.4 807.2 L1161.4 804.9 L1162.3 807.5 L1163.3 810.6 L1164.2 804.1 L1165.2 804.5 L1166.1 806.7 L1167.1 807.4 L1168.0 803.4 L1169.0 808.7 L1169.9 814.7 L1170.9 810.6 L1171.8 815.6 L1172.8 805.8 L1173.7 812.8 L1174.7 817.5 L1175.6 817.6 L1176.6 810.2 L1177.5 808.1 L1178.5 810.8 L1179.4 804.6 L1180.4 806.2 L1181.3 801.0 L1182.3 805.6 L1183.2 804.6 L1184.2 809.3 L1185.1 805.2 L1186.1 802.2 L1187.0 804.5 L1188.0 801.4 L1188.9 806.4 L1189.9 806.3 L1190.8 809.0 L1191.8 811.0 L1192.7 801.8 L1193.7 809.1 L1194.6 810.2 L1195.6 803.9 L1196.5 813.5 L1197.5 805.1 L1198.4 814.0 L1199.4 809.0 L1200.3 808.9 L1201.3 805.7 L1202.2 807.0 L1203.2 799.6 L1204.1 799.5 L1205.1 795.4 L1206.0 802.9 L1207.0 798.8 L1207.9 803.4 L1208.9 803.0 L1209.8 797.1 L1210.8 803.7 L1211.7 802.7 L1212.7 802.9 L1213.6 804.2 L1214.6 803.1 L1215.5 803.5 L1216.5 806.8 L1217.4 800.2 L1218.4 799.3 L1219.3 800.3 L1220.3 805.5 L1221.2 801.1 L1222.2 808.0 L1223.1 795.3 L1224.1 799.9 L1225.0 800.8 L1226.0 803.0 L1226.9 806.1 L1227.9 801.3 L1228.8 798.6 L1229.8 804.3 L1230.7 806.4 L1231.7 794.9 L1232.6 803.4 L1233.6 802.5 L1234.5 799.0 L1235.5 800.2 L1236.4 802.7 L1237.4 802.1 L1238.3 801.7 L1239.3 799.3 L1240.2 804.1 L1241.2 801.6 L1242.1 804.3 L1243.1 802.6 L1244.0 805.5 L1245.0 807.7 L1245.9 806.7 L1246.9 808.5 L1247.8 802.6 L1248.8 808.3 L1249.7 807.6 L1250.7 804.5 L1251.6 805.6 L1252.6 799.1 L1253.5 805.5 L1254.5 803.5 L1255.4 797.2 L1256.4 804.2 L1257.3 799.5 L1258.3 800.9 L1259.2 798.2 L1260.2 799.6 L1261.1 798.1 L1262.1 797.0 L1263.0 799.6 L1264.0 801.1 L1264.9 792.4 L1265.9 799.4 L1266.8 797.8 L1267.8 796.4 L1268.7 803.7 L1269.7 803.0 L1270.6 797.6 L1271.6 798.2 L1272.5 805.1 L1273.5 802.0 L1274.4 804.0 L1275.4 799.9 L1276.3 805.9 L1277.3 810.1 L1278.2 805.6 L1279.2 806.8 L1280.1 812.6 L1281.1 810.2 L1282.0 812.0 L1283.0 809.7 L1283.9 811.2 L1284.9 802.3 L1285.8 804.4 L1286.8 801.6 L1287.7 812.7 L1288.7 806.8 L1289.6 806.2 L1290.6 804.8 L1291.5 804.6 L1292.5 801.6 L1293.4 814.9 L1294.4 808.4 L1295.3 809.2 L1296.3 805.2 L1297.2 809.6 L1298.2 811.5 L1299.1 810.7 L1300.1 813.3 L1301.0 809.4 L1302.0 813.0 L1302.9 814.8 L1303.9 814.0 L1304.8 813.8 L1305.8 813.1 L1306.7 811.7 L1307.7 817.5 L1308.6 816.2 L1309.6 815.8 L1310.5 821.6 L1311.5 815.0 L1312.4 818.1 L1313.4 821.9 L1314.3 822.3 L1315.3 818.8 L1316.2 820.8 L1317.2 823.3 L1318.1 823.0 L1319.1 822.6 L1320.0 827.7 L1321.0 828.4 L1321.9 829.6 L1322.9 833.6 L1323.8 832.2 L1324.8 830.8 L1325.7 833.3 L1326.7 839.0 L1327.6 831.8 L1328.6 833.3 L1329.5 832.0 L1330.5 835.5 L1331.4 831.3 L1332.4 836.8 L1333.3 838.4 L1334.3 834.9 L1335.2 835.4 L1336.2 834.2 L1337.1 839.0 L1338.1 836.1 L1339.0 837.9 L1340.0 839.0 L1340.9 838.8 L1341.9 843.7 L1342.8 846.4 L1343.8 836.5 L1344.7 841.0 L1345.7 844.8 L1346.6 842.1 L1347.6 844.7 L1348.5 848.0 L1349.5 852.5 L1350.4 853.0 L1351.4 850.0 L1352.3 852.2 L1353.3 851.8 L1354.2 853.4 L1355.2 851.8 L1356.1 851.3 L1357.1 856.3 L1358.0 861.0 L1359.0 861.1 L1359.9 854.2 L1360.9 859.0 L1361.8 857.7 L1362.8 860.0 L1363.7 855.9 L1364.7 861.3 L1365.6 858.4 L1366.6 861.0 L1367.5 862.6 L1368.5 855.7 L1369.4 861.4 L1370.4 866.9 L1371.3 863.2 L1372.3 866.1 L1373.2 864.2 L1374.2 861.2 L1375.1 863.1 L1376.1 865.1 L1377.0 866.0 L1378.0 866.9 L1378.9 860.5 L1379.9 866.4 L1380.8 860.8 L1381.8 864.5 L1382.7 864.6 L1383.7 867.3 L1384.6 866.8 L1385.6 869.9 L1386.5 865.5 L1387.5 870.2 L1388.4 869.8 L1389.4 869.6 L1390.3 867.1 L1391.3 872.6 L1392.2 872.4 L1393.2 874.0 L1394.1 871.8 L1395.1 871.1 L1396.0 872.7 L1397.0 872.8 L1397.9 873.5 L1398.9 876.9 L1399.8 870.5 L1400.8 878.0 L1401.7 867.3 L1402.7 876.6 L1403.6 872.8 L1404.6 881.6 L1405.5 875.0 L1406.5 881.4 L1407.4 877.0 L1408.4 877.7 L1409.3 883.9 L1410.3 885.0 L1411.2 881.6 L1412.2 890.2 L1413.1 884.1 L1414.1 889.6 L1415.0 883.1 L1416.0 883.5 L1416.9 886.4 L1417.9 883.6 L1418.8 887.7 L1419.8 881.3 L1420.7 888.3 L1421.7 887.5 L1422.6 887.9 L1423.6 892.5 L1424.5 892.8 L1425.5 893.4 L1426.4 897.8 L1427.4 897.3 L1428.3 898.3 L1429.3 901.5 L1430.2 898.4 L1431.2 901.2 L1432.1 898.2 L1433.1 901.0 L1434.0 900.8 L1435.0 898.1 L1435.9 895.8 L1436.9 896.9 L1437.8 898.3 L1438.8 902.8 L1439.7 901.5 L1440.7 901.4 L1441.6 903.7 L1442.6 904.5 L1443.5 906.2 L1444.5 900.9 L1445.4 903.7 L1446.4 904.0 L1447.3 899.7 L1448.3 902.7 L1449.2 900.5 L1450.2 903.0 L1451.1 905.7 L1452.1 901.3 L1453.0 904.5 L1454.0 905.8 L1454.9 909.0 L1455.9 907.6 L1456.8 911.0 L1457.8 908.1 L1458.7 909.1 L1459.7 911.9 L1460.6 910.8 L1461.6 910.0 L1462.5 909.0 L1463.5 911.2 L1464.4 911.7 L1465.4 907.0 L1466.3 906.1 L1467.3 905.3 L1468.2 912.6 L1469.2 906.3 L1470.1 905.7 L1471.1 910.3 L1472.0 912.8 L1473.0 907.5 L1473.9 910.7 L1474.9 907.5 L1475.8 909.6 L1476.8 915.6 L1477.7 912.2 L1478.7 911.3 L1479.6 912.3 L1480.6 912.9 L1481.5 911.8 L1482.5 908.8 L1483.4 908.5 L1484.4 916.3 L1485.3 909.4 L1486.3 914.6 L1487.2 910.3 L1488.2 916.3 L1489.1 915.8 L1490.1 914.6 L1491.0 921.2 L1492.0 914.6 L1492.9 916.9 L1493.9 915.5 L1494.8 915.6 L1495.8 916.3 L1496.7 914.3 L1497.7 915.3 L1498.6 919.4 L1499.6 910.7 L1500.5 911.6 L1501.5 912.4 L1502.4 914.0 L1503.4 918.2 L1504.3 918.3 L1505.3 918.5 L1506.2 918.5 L1507.2 924.0 L1508.1 916.1 L1509.1 916.2 L1510.0 919.0 L1511.0 919.5 L1511.9 918.4 L1512.9 916.9 L1513.8 915.8 L1514.8 918.5 L1515.7 917.6 L1516.7 918.4 L1517.6 917.1 L1518.6 923.2 L1519.5 921.2 L1520.5 924.8 L1521.4 919.3 L1522.4 921.0 L1523.3 920.6 L1524.3 921.6 L1525.2 921.6 L1526.2 922.5 L1527.1 919.1 L1528.1 924.3 L1529.0 927.6 L1530.0 922.1 L1530.9 926.7 L1531.9 929.5 L1532.8 931.5 L1533.8 928.3 L1534.7 929.5 L1535.7 932.4 L1536.6 930.9 L1537.6 926.3 L1538.5 925.7 L1539.5 929.5 L1540.4 927.6 L1541.4 926.1 L1542.3 927.2 L1543.3 929.1 L1544.2 928.6 L1545.2 929.3 L1546.1 930.1 L1547.1 927.7 L1548.0 935.8 L1549.0 934.6 L1549.9 935.0 L1550.9 930.6 L1551.8 930.6 L1552.8 931.2 L1553.7 931.5 L1554.7 925.2 L1555.6 930.5 L1556.6 927.5 L1557.5 929.9 L1558.5 928.7 L1559.4 934.3 L1560.4 931.4 L1561.3 929.9 L1562.3 933.1 L1563.2 929.6 L1564.2 928.2 L1565.1 929.9 L1566.1 930.0 L1567.0 931.7 L1568.0 934.4 L1568.9 933.0 L1569.9 933.9 L1570.8 937.1 L1571.8 935.8 L1572.7 937.6 L1573.7 935.7 L1574.6 932.2 L1575.6 932.4 L1576.5 931.0 L1577.5 937.5 L1578.4 936.0 L1579.4 934.3 L1580.3 933.6 L1581.3 937.3 L1582.2 936.8 L1583.2 938.5 L1584.1 936.4 L1585.1 936.3 L1586.0 942.7 L1587.0 937.0 L1587.9 939.0 L1588.9 941.8 L1589.8 934.2 L1590.8 939.8 L1591.7 938.4 L1592.7 938.2 L1593.6 939.6 L1594.6 936.8 L1595.5 935.0 L1596.5 944.8 L1597.4 940.1 L1598.4 943.0 L1599.3 943.6 L1600.3 941.8 L1601.2 942.1 L1602.2 942.7 L1603.1 944.6 L1604.1 942.1 L1605.0 943.8 L1606.0 940.4 L1606.9 940.2 L1607.9 941.6 L1608.8 942.7 L1609.8 943.4 L1610.7 947.1 L1611.7 945.1 L1612.6 943.8 L1613.6 948.5 L1614.5 945.0 L1615.5 945.3 L1616.4 945.8 L1617.4 944.1 L1618.3 942.7 L1619.3 945.8 L1620.2 945.3 L1621.2 944.4 L1622.1 946.8 L1623.1 945.9 L1624.0 944.6 L1625.0 941.3 L1625.9 944.2 L1626.9 948.0 L1627.8 945.8 L1628.8 946.3 L1629.7 944.2 L1630.7 947.0 L1631.6 943.6 L1632.6 944.4 L1633.5 946.7 L1634.5 942.7 L1635.4 946.3 L1636.4 947.4 L1637.3 951.1 L1638.3 946.6 L1639.2 949.6 L1640.2 947.5 L1641.1 947.8 L1642.1 943.8 L1643.0 946.2 L1644.0 950.2 L1644.9 948.5 L1645.9 947.5 L1646.8 952.1 L1647.8 948.8 L1648.7 945.6 L1649.7 948.7 L1650.6 949.9 L1651.6 954.2 L1652.5 949.4 L1653.5 952.6 L1654.4 953.9 L1655.4 950.0 L1656.3 951.9 L1657.3 947.3 L1658.2 951.7 L1659.2 946.7 L1660.1 950.5 L1661.1 955.0 L1662.0 952.1 L1663.0 951.3 L1663.9 951.6 L1664.9 955.9 L1665.8 952.6 L1666.8 953.8 L1667.7 950.7 L1668.7 950.8 L1669.6 949.5 L1670.6 951.3 L1671.5 950.2 L1672.5 953.7 L1673.4 952.9 L1674.4 951.3 L1675.3 950.3 L1676.3 946.7 L1677.2 950.2 L1678.2 952.1 L1679.1 953.0 L1680.1 947.3 L1681.0 947.8 L1682.0 953.4 L1682.9 951.6 L1683.9 953.9 L1684.8 954.0 L1685.8 956.6 L1686.7 951.7 L1687.7 954.5 L1688.6 957.8 L1689.6 956.4 L1690.5 954.6 L1691.5 957.6 L1692.4 957.8 L1693.4 955.8 L1694.3 959.3 L1695.3 959.3 L1696.2 957.3 L1697.2 959.0 L1698.1 953.8 L1699.1 956.9 L1700.0 954.1 L1701.0 951.7 L1701.9 951.8 L1702.9 954.9 L1703.8 951.0 L1704.8 951.3 L1705.7 950.7 L1706.7 950.7 L1707.6 954.6 L1708.6 957.6 L1709.5 956.4 L1710.5 955.2 L1711.4 956.1 L1712.4 954.3 L1713.3 954.3 L1714.3 953.2 L1715.2 958.7 L1716.2 955.5 L1717.1 955.1 L1718.1 955.7 L1719.0 957.8 L1720.0 956.7 L1720.9 958.2 L1721.9 958.8 L1722.8 961.5 L1723.8 956.6 L1724.7 959.8 L1725.7 957.7 L1726.6 957.9 L1727.6 961.5 L1728.5 958.9 L1729.5 956.4 L1730.4 957.6 L1731.4 956.3 L1732.3 958.3 L1733.3 955.0 L1734.2 956.9 L1735.2 955.6 L1736.1 956.2 L1737.1 956.0 L1738.0 955.1 L1739.0 956.5 L1739.9 958.2 L1740.9 955.0 L1741.8 955.3 L1742.8 956.9 L1743.7 955.0 L1744.7 958.7 L1745.6 959.0 L1746.6 954.0 L1747.5 957.8 L1748.5 957.5 L1749.4 961.6 L1750.4 962.0 L1751.3 957.8 L1752.3 958.8 L1753.2 960.0 L1754.2 959.5 L1755.1 961.6 L1756.1 962.1 L1757.0 961.2 L1758.0 962.0 L1758.9 961.5 L1759.9 959.4 L1760.8 958.5 L1761.8 957.8 L1762.7 960.6 L1763.7 960.6 L1764.6 960.8 L1765.6 958.2 L1766.5 958.1 L1767.5 959.3 L1768.4 961.1 L1769.4 959.5 L1770.3 959.3 L1771.3 957.5 L1772.2 960.2 L1773.2 960.6 L1774.1 957.9 L1775.1 963.1 L1776.0 958.0 L1777.0 961.5 L1777.9 959.4 L1778.9 960.3 L1779.8 958.8 L1780.8 959.6 L1781.7 962.3 L1782.7 960.8 L1783.6 960.6 L1784.6 962.8 L1785.5 962.3 L1786.5 961.1 L1787.4 961.1 L1788.4 963.9 L1789.3 960.6 L1790.3 961.8 L1791.2 962.1 L1792.2 959.0 L1793.1 958.1 L1794.1 962.1 L1795.0 963.6 L1796.0 962.6 L1796.9 961.4 L1797.9 961.4 L1798.8 964.4 L1799.8 962.6 L1800.7 960.3 L1801.7 964.5 L1802.6 963.5 L1803.6 963.6 L1804.5 964.6 L1805.5 965.0 L1806.4 963.8 L1807.4 962.9 L1808.3 959.9 L1809.3 964.9 L1810.2 964.5 L1811.2 967.3 L1812.1 967.2 L1813.1 965.6 L1814.0 966.8 L1815.0 963.7 L1815.9 963.3 L1816.9 961.4 L1817.8 962.1 L1818.8 963.0 L1819.7 964.7 L1820.7 962.0 L1821.6 965.3 L1822.6 968.4 L1823.5 962.4 L1824.5 964.6 L1825.4 965.1 L1826.4 966.8 L1827.3 968.5 L1828.3 967.2 L1829.2 965.1 L1830.2 964.0 L1831.1 965.8 L1832.1 966.3 L1833.0 967.2 L1834.0 965.4 L1834.9 969.8 L1835.9 965.7 L1836.8 967.8 L1837.8 966.5 L1838.7 963.6 L1839.7 965.0 L1840.6 964.3 L1841.6 963.3 L1842.5 964.6 L1843.5 961.9 L1844.4 966.2 L1845.4 964.1 L1846.3 960.4 L1847.3 958.1 L1848.2 964.3 L1849.2 963.0 L1850.1 963.2 L1851.1 962.0 L1852.0 961.8 L1853.0 961.7 L1853.9 969.2 L1854.9 968.4 L1855.8 964.8 L1856.8 968.9 L1857.7 962.2 L1858.7 966.1 L1859.6 965.6 L1860.6 962.3 L1861.5 962.5 L1862.5 961.2 L1863.4 962.9 L1864.4 965.1 L1865.3 964.8 L1866.3 964.1 L1867.2 965.7 L1868.2 961.0 L1869.1 967.7 L1870.1 964.4 L1871.0 962.4 L1872.0 964.1 L1872.9 963.6 L1873.9 964.7 L1874.8 965.0 L1875.8 960.5 L1876.7 966.2 L1877.7 966.9 L1878.6 962.3 L1879.6 966.5 L1880.5 966.2 L1881.5 965.7 L1882.4 966.6 L1883.4 961.2 L1884.3 964.5 L1885.3 961.3 L1886.2 966.5 L1887.2 961.0 L1888.1 960.6 L1889.1 964.6 L1890.0 964.0 L1891.0 963.3 L1891.9 963.9 L1892.9 965.1 L1893.8 967.4 L1894.8 963.6 L1895.7 964.0 L1896.7 963.9 L1897.6 964.5 L1898.6 964.3 L1899.5 961.8 L1900.5 964.0 L1901.4 961.2 L1902.4 962.6 L1903.3 962.8 L1904.3 963.0 L1905.2 966.1 L1906.2 966.8 L1907.1 966.4 L1908.1 967.7 L1909.0 964.9 L1910.0 967.8 L1910.9 965.4 L1911.9 965.6 L1912.8 965.5 L1913.8 962.7 L1914.7 963.8 L1915.7 964.6 L1916.6 965.6 L1917.6 964.9 L1918.5 963.9 L1919.5 963.3 L1920.4 964.9 L1921.4 962.7 L1922.3 962.2 L1923.3 963.5 L1924.2 963.5 L1925.2 961.6 L1926.1 960.0 L1927.1 963.4 L1928.0 964.6 L1929.0 963.0 L1929.9 963.4 L1930.9 960.7 L1931.8 965.8 L1932.8 962.6 L1933.7 965.4 L1934.7 963.2 L1935.6 963.7 L1936.6 963.5 L1937.5 960.8 L1938.5 967.0 L1939.4 961.0 L1940.4 963.7 L1941.3 962.5 L1942.3 963.7 L1943.2 966.7 L1944.2 962.1 L1945.1 965.2 L1946.1 966.4 L1947.0 965.9 L1948.0 966.0 L1948.9 963.7 L1949.9 961.6 L1950.8 961.4 L1951.8 962.1 L1952.7 963.4 L1953.7 962.3 L1954.6 964.7 L1955.6 962.7 L1956.5 963.4"/>
<path stroke="#8cc4ee" d="M352.0 655.6 L352.9 654.3 L353.9 658.4 L354.8 656.4 L355.8 656.4 L356.7 652.6 L357.7 650.2 L358.6 647.6 L359.6 649.8 L360.5 646.6 L361.5 654.7 L362.4 654.4 L363.4 647.0 L364.3 647.2 L365.3 655.5 L366.2 657.3 L367.2 658.2 L368.1 665.5 L369.1 656.0 L370.0 652.4 L371.0 659.4 L371.9 661.5 L372.9 663.8 L373.8 650.8 L374.8 653.9 L375.7 652.8 L376.7 661.7 L377.6 657.7 L378.6 654.4 L379.5 657.5 L380.5 652.2 L381.4 652.8 L382.4 653.4 L383.3 651.1 L384.3 652.1 L385.2 654.6 L386.2 653.7 L387.1 659.1 L388.1 656.1 L389.0 651.9 L390.0 642.6 L390.9 646.8 L391.9 652.3 L392.8 653.7 L393.8 649.9 L394.7 654.5 L395.7 656.8 L396.6 653.3 L397.6 655.5 L398.5 655.8 L399.5 653.1 L400.4 652.5 L401.4 656.1 L402.3 658.1 L403.3 652.4 L404.2 648.3 L405.2 654.1 L406.1 661.7 L407.1 653.0 L408.0 665.8 L409.0 660.1 L409.9 664.6 L410.9 661.5 L411.8 668.4 L412.8 666.1 L413.7 667.1 L414.7 655.8 L415.6 667.2 L416.6 655.5 L417.5 661.2 L418.5 664.8 L419.4 661.3 L420.4 664.2 L421.3 662.2 L422.3 661.1 L423.2 656.1 L424.2 663.3 L425.1 662.8 L426.1 654.5 L427.0 652.4 L428.0 657.6 L428.9 653.9 L429.9 659.0 L430.8 663.2 L431.8 663.4 L432.7 667.5 L433.7 662.9 L434.6 655.5 L435.6 655.5 L436.5 660.8 L437.5 666.1 L438.4 655.4 L439.4 653.0 L440.3 664.1 L441.3 658.5 L442.2 663.8 L443.2 667.2 L444.1 659.3 L445.1 663.1 L446.0 662.6 L447.0 667.5 L447.9 668.0 L448.9 662.9 L449.8 668.1 L450.8 658.4 L451.7 669.1 L452.7 670.3 L453.6 669.9 L454.6 664.2 L455.5 670.6 L456.5 666.2 L457.4 677.1 L458.4 668.7 L459.3 668.1 L460.3 667.2 L461.2 668.5 L462.2 664.9 L463.1 665.4 L464.1 657.9 L465.0 666.5 L466.0 659.8 L466.9 666.2 L467.9 665.3 L468.8 670.6 L469.8 667.3 L470.7 662.9 L471.7 666.1 L472.6 671.9 L473.6 680.4 L474.5 673.5 L475.5 676.3 L476.4 681.8 L477.4 673.9 L478.3 677.6 L479.3 677.6 L480.2 673.8 L481.2 677.7 L482.1 681.5 L483.1 681.6 L484.0 675.7 L485.0 687.6 L485.9 679.0 L486.9 676.6 L487.8 675.3 L488.8 674.8 L489.7 683.3 L490.7 670.3 L491.6 680.1 L492.6 675.1 L493.5 680.4 L494.5 680.8 L495.4 674.7 L496.4 675.2 L497.3 683.9 L498.3 675.0 L499.2 676.7 L500.2 675.1 L501.1 680.3 L502.1 682.5 L503.0 681.9 L504.0 681.0 L504.9 681.5 L505.9 674.5 L506.8 685.9 L507.8 678.7 L508.7 678.3 L509.7 681.6 L510.6 680.7 L511.6 686.4 L512.5 687.7 L513.5 689.7 L514.4 683.1 L515.4 680.4 L516.3 681.5 L517.3 678.0 L518.2 680.6 L519.2 693.2 L520.1 682.2 L521.1 684.3 L522.0 689.5 L523.0 688.3 L523.9 690.8 L524.9 684.1 L525.8 683.6 L526.8 694.2 L527.7 686.1 L528.7 689.0 L529.6 690.7 L530.6 682.3 L531.5 689.6 L532.5 687.6 L533.4 692.5 L534.4 688.6 L535.3 679.8 L536.3 692.0 L537.2 677.9 L538.2 684.8 L539.1 682.2 L540.1 681.1 L541.0 682.3 L542.0 685.3 L542.9 677.0 L543.9 678.0 L544.8 684.3 L545.8 684.3 L546.7 686.6 L547.7 686.6 L548.6 685.7 L549.6 686.1 L550.5 687.1 L551.5 693.3 L552.4 695.4 L553.4 696.4 L554.3 682.3 L555.3 684.3 L556.2 684.2 L557.2 682.6 L558.1 678.1 L559.1 691.8 L560.0 688.8 L561.0 681.5 L561.9 679.8 L562.9 681.1 L563.8 675.3 L564.8 678.2 L565.7 682.1 L566.7 685.2 L567.6 681.5 L568.6 683.0 L569.5 673.3 L570.5 668.8 L571.4 685.4 L572.4 681.8 L573.3 682.3 L574.3 691.0 L575.2 680.7 L576.2 681.0 L577.1 681.7 L578.1 691.3 L579.0 688.4 L580.0 677.2 L580.9 692.3 L581.9 686.5 L582.8 689.4 L583.8 685.4 L584.7 697.3 L585.7 691.7 L586.6 695.5 L587.6 685.7 L588.5 692.8 L589.5 690.4 L590.4 689.3 L591.4 687.0 L592.3 687.5 L593.3 685.2 L594.2 686.8 L595.2 689.0 L596.1 691.2 L597.1 682.2 L598.0 684.7 L599.0 687.1 L599.9 683.5 L600.9 689.8 L601.8 690.5 L602.8 691.3 L603.7 694.2 L604.7 696.7 L605.6 696.2 L606.6 694.0 L607.5 695.2 L608.5 689.2 L609.4 688.2 L610.4 694.4 L611.3 693.7 L612.3 700.1 L613.2 689.9 L614.2 686.8 L615.1 692.2 L616.1 689.2 L617.0 687.2 L618.0 696.3 L618.9 698.3 L619.9 691.8 L620.8 687.8 L621.8 692.2 L622.7 691.8 L623.7 687.4 L624.6 697.6 L625.6 696.4 L626.5 700.6 L627.5 693.4 L628.4 695.5 L629.4 694.7 L630.3 687.5 L631.3 703.6 L632.2 684.5 L633.2 687.6 L634.1 690.1 L635.1 684.3 L636.0 691.7 L637.0 687.2 L637.9 688.7 L638.9 688.9 L639.8 688.3 L640.8 688.8 L641.7 688.7 L642.7 692.3 L643.6 695.1 L644.6 691.9 L645.5 692.2 L646.5 693.2 L647.4 696.8 L648.4 694.6 L649.3 695.0 L650.3 690.8 L651.2 705.3 L652.2 692.6 L653.1 704.7 L654.1 701.2 L655.0 702.1 L656.0 698.8 L656.9 699.4 L657.9 698.1 L658.8 698.6 L659.8 698.7 L660.7 700.5 L661.7 689.2 L662.6 694.4 L663.6 698.2 L664.5 696.8 L665.5 686.6 L666.4 692.1 L667.4 692.4 L668.3 693.1 L669.3 684.1 L670.2 698.3 L671.2 689.7 L672.1 706.8 L673.1 701.9 L674.0 700.1 L675.0 704.2 L675.9 703.2 L676.9 701.4 L677.8 704.0 L678.8 706.4 L679.7 702.0 L680.7 708.1 L681.6 709.1 L682.6 707.9 L683.5 707.2 L684.5 706.8 L685.4 703.8 L686.4 706.4 L687.3 701.9 L688.3 704.3 L689.2 709.3 L690.2 712.1 L691.1 703.1 L692.1 698.5 L693.0 712.8 L694.0 708.3 L694.9 710.6 L695.9 706.7 L696.8 704.1 L697.8 700.9 L698.7 700.1 L699.7 710.5 L700.6 709.1 L701.6 706.8 L702.5 701.2 L703.5 703.8 L704.4 703.7 L705.4 705.2 L706.3 697.5 L707.3 707.9 L708.2 713.4 L709.2 704.6 L710.1 706.2 L711.1 706.2 L712.0 699.6 L713.0 704.0 L713.9 697.7 L714.9 698.2 L715.8 700.3 L716.8 698.6 L717.7 698.9 L718.7 694.5 L719.6 700.9 L720.6 693.5 L721.5 701.2 L722.5 696.0 L723.4 693.2 L724.4 697.8 L725.3 693.9 L726.3 696.0 L727.2 697.5 L728.2 701.4 L729.1 701.8 L730.1 701.1 L731.0 698.7 L732.0 694.4 L732.9 700.1 L733.9 699.8 L734.8 700.4 L735.8 698.4 L736.7 698.0 L737.7 703.0 L738.6 694.2 L739.6 699.6 L740.5 704.5 L741.5 696.1 L742.4 694.6 L743.4 696.6 L744.3 694.8 L745.3 696.0 L746.2 699.4 L747.2 693.1 L748.1 696.1 L749.1 692.3 L750.0 693.6 L751.0 697.9 L751.9 695.1 L752.9 703.5 L753.8 697.8 L754.8 699.4 L755.7 696.3 L756.7 699.0 L757.6 697.0 L758.6 699.3 L759.5 694.4 L760.5 701.6 L761.4 708.6 L762.4 694.1 L763.3 708.1 L764.3 700.1 L765.2 703.4 L766.2 695.2 L767.1 706.4 L768.1 693.1 L769.0 696.0 L770.0 701.2 L770.9 688.7 L771.9 683.5 L772.8 691.1 L773.8 687.4 L774.7 686.0 L775.7 685.9 L776.6 683.5 L777.6 694.7 L778.5 694.0 L779.5 683.8 L780.4 688.9 L781.4 687.6 L782.3 693.8 L783.3 686.1 L784.2 695.8 L785.2 689.4 L786.1 686.5 L787.1 689.6 L788.0 688.2 L789.0 699.8 L789.9 692.1 L790.9 689.9 L791.8 692.3 L792.8 697.7 L793.7 688.1 L794.7 685.3 L795.6 697.4 L796.6 694.9 L797.5 690.8 L798.5 691.9 L799.4 695.7 L800.4 681.1 L801.3 693.0 L802.3 685.2 L803.2 686.4 L804.2 681.6 L805.1 689.0 L806.1 676.7 L807.0 682.9 L808.0 669.6 L808.9 678.6 L809.9 681.9 L810.8 673.0 L811.8 671.2 L812.7 679.2 L813.7 682.1 L814.6 681.8 L815.6 673.3 L816.5 676.4 L817.5 669.0 L818.4 681.3 L819.4 672.4 L820.3 679.9 L821.3 673.8 L822.2 673.1 L823.2 679.6 L824.1 668.2 L825.1 674.7 L826.0 666.1 L827.0 662.3 L827.9 661.3 L828.9 668.4 L829.8 663.8 L830.8 663.3 L831.7 659.5 L832.7 670.7 L833.6 670.5 L834.6 667.6 L835.5 668.8 L836.5 656.2 L837.4 661.4 L838.4 662.8 L839.3 661.4 L840.3 658.0 L841.2 660.6 L842.2 656.6 L843.1 656.8 L844.1 654.3 L845.0 659.3 L846.0 655.4 L846.9 655.4 L847.9 661.8 L848.8 655.3 L849.8 654.6 L850.7 648.3 L851.7 652.0 L852.6 657.8 L853.6 656.1 L854.5 654.1 L855.5 653.1 L856.4 653.9 L857.4 655.2 L858.3 652.6 L859.3 645.9 L860.2 662.6 L861.2 660.3 L862.1 656.1 L863.1 662.8 L864.0 652.6 L865.0 662.5 L865.9 657.7 L866.9 659.3 L867.8 653.2 L868.8 653.5 L869.7 653.6 L870.7 653.9 L871.6 650.6 L872.6 649.1 L873.5 643.3 L874.5 649.8 L875.4 641.6 L876.4 637.7 L877.3 635.6 L878.3 631.4 L879.2 633.5 L880.2 632.2 L881.1 641.4 L882.1 643.3 L883.0 647.6 L884.0 644.8 L884.9 650.1 L885.9 650.5 L886.8 657.1 L887.8 648.1 L888.7 648.1 L889.7 658.5 L890.6 654.3 L891.6 645.7 L892.5 655.0 L893.5 653.7 L894.4 650.5 L895.4 637.0 L896.3 644.2 L897.3 639.9 L898.2 641.9 L899.2 636.8 L900.1 649.0 L901.1 639.5 L902.0 642.6 L903.0 644.0 L903.9 643.0 L904.9 642.2 L905.8 639.5 L906.8 642.4 L907.7 641.6 L908.7 635.0 L909.6 647.6 L910.6 641.8 L911.5 642.2 L912.5 642.3 L913.4 638.1 L914.4 638.2 L915.3 635.7 L916.3 644.3 L917.2 647.5 L918.2 644.0 L919.1 640.1 L920.1 649.6 L921.0 643.5 L922.0 638.4 L922.9 637.0 L923.9 644.6 L924.8 649.5 L925.8 643.4 L926.7 643.5 L927.7 645.8 L928.6 644.5 L929.6 646.1 L930.5 649.1 L931.5 645.1 L932.4 650.6 L933.4 642.9 L934.3 648.4 L935.3 646.5 L936.2 643.4 L937.2 643.6 L938.1 643.8 L939.1 651.8 L940.0 643.8 L941.0 652.6 L941.9 653.5 L942.9 650.0 L943.8 658.3 L944.8 645.0 L945.7 654.2 L946.7 653.7 L947.6 653.2 L948.6 656.1 L949.5 651.9 L950.5 653.4 L951.4 659.4 L952.4 656.0 L953.3 653.9 L954.3 660.7 L955.2 658.8 L956.2 656.9 L957.1 660.4 L958.1 654.5 L959.0 652.5 L960.0 653.8 L960.9 652.9 L961.9 653.0 L962.8 648.3 L963.8 659.4 L964.7 656.7 L965.7 656.4 L966.6 658.6 L967.6 651.7 L968.5 664.6 L969.5 658.7 L970.4 665.0 L971.4 659.3 L972.3 667.4 L973.3 662.0 L974.2 663.4 L975.2 670.1 L976.1 668.6 L977.1 660.6 L978.0 663.5 L979.0 667.1 L979.9 665.6 L980.9 669.3 L981.8 663.9 L982.8 659.7 L983.7 663.4 L984.7 666.5 L985.6 669.7 L986.6 670.9 L987.5 673.1 L988.5 669.7 L989.4 668.1 L990.4 671.5 L991.3 668.8 L992.3 668.1 L993.2 668.9 L994.2 674.9 L995.1 678.0 L996.1 678.4 L997.0 668.8 L998.0 678.9 L998.9 671.1 L999.9 673.8 L1000.8 677.1 L1001.8 670.4 L1002.7 671.2 L1003.7 673.6 L1004.6 683.1 L1005.6 681.9 L1006.5 675.9 L1007.5 680.5 L1008.4 681.5 L1009.4 683.2 L1010.3 680.5 L1011.3 688.9 L1012.2 683.0 L1013.2 687.4 L1014.1 678.2 L1015.1 684.9 L1016.0 682.9 L1017.0 686.0 L1017.9 672.4 L1018.9 681.3 L1019.8 681.9 L1020.8 678.4 L1021.7 684.7 L1022.7 688.6 L1023.6 685.3 L1024.6 686.0 L1025.5 688.5 L1026.5 685.5 L1027.4 688.1 L1028.4 685.4 L1029.3 680.3 L1030.3 678.4 L1031.2 685.6 L1032.2 683.1 L1033.1 678.2 L1034.1 680.1 L1035.0 684.4 L1036.0 672.4 L1036.9 674.2 L1037.9 679.0 L1038.8 678.9 L1039.8 671.9 L1040.7 672.9 L1041.7 677.7 L1042.6 683.1 L1043.6 679.4 L1044.5 672.9 L1045.5 685.1 L1046.4 682.2 L1047.4 681.0 L1048.3 678.5 L1049.3 686.4 L1050.2 682.8 L1051.2 682.9 L1052.1 682.6 L1053.1 682.8 L1054.0 684.3 L1055.0 687.3 L1055.9 677.6 L1056.9 680.7 L1057.8 679.0 L1058.8 685.8 L1059.7 678.3 L1060.7 673.0 L1061.6 677.5 L1062.6 674.1 L1063.5 673.2 L1064.5 673.4 L1065.4 669.9 L1066.4 667.7 L1067.3 681.3 L1068.3 674.9 L1069.2 673.1 L1070.2 679.4 L1071.1 682.7 L1072.1 672.8 L1073.0 677.6 L1074.0 680.2 L1074.9 676.4 L1075.9 680.8 L1076.8 675.1 L1077.8 677.1 L1078.7 679.0 L1079.7 680.8 L1080.6 679.4 L1081.6 676.9 L1082.5 677.9 L1083.5 672.2 L1084.4 687.0 L1085.4 679.0 L1086.3 680.2 L1087.3 683.1 L1088.2 684.9 L1089.2 684.8 L1090.1 681.8 L1091.1 678.6 L1092.0 683.5 L1093.0 681.2 L1093.9 681.7 L1094.9 683.2 L1095.8 683.8 L1096.8 687.0 L1097.7 681.9 L1098.7 676.3 L1099.6 683.7 L1100.6 684.6 L1101.5 675.7 L1102.5 683.2 L1103.4 682.0 L1104.4 679.9 L1105.3 682.8 L1106.3 684.2 L1107.2 685.5 L1108.2 687.9 L1109.1 684.6 L1110.1 685.0 L1111.0 692.6 L1112.0 681.8 L1112.9 684.4 L1113.9 684.0 L1114.8 687.5 L1115.8 688.4 L1116.7 680.1 L1117.7 688.3 L1118.6 679.9 L1119.6 690.9 L1120.5 681.1 L1121.5 686.8 L1122.4 682.1 L1123.4 685.2 L1124.3 680.2 L1125.3 682.8 L1126.2 682.0 L1127.2 681.6 L1128.1 683.2 L1129.1 678.3 L1130.0 677.9 L1131.0 673.8 L1131.9 677.1 L1132.9 675.4 L1133.8 679.6 L1134.8 678.7 L1135.7 674.0 L1136.7 677.8 L1137.6 680.8 L1138.6 676.2 L1139.5 673.5 L1140.5 685.1 L1141.4 680.3 L1142.4 681.4 L1143.3 686.8 L1144.3 677.3 L1145.2 680.8 L1146.2 673.5 L1147.1 680.8 L1148.1 680.0 L1149.0 675.7 L1150.0 675.2 L1150.9 677.2 L1151.9 677.0 L1152.8 682.9 L1153.8 677.0 L1154.7 677.2 L1155.7 676.9 L1156.6 671.6 L1157.6 674.2 L1158.5 670.2 L1159.5 673.9 L1160.4 665.6 L1161.4 668.7 L1162.3 673.2 L1163.3 666.1 L1164.2 668.4 L1165.2 677.2 L1166.1 670.1 L1167.1 674.3 L1168.0 675.0 L1169.0 669.9 L1169.9 667.1 L1170.9 676.6 L1171.8 669.5 L1172.8 672.9 L1173.7 669.2 L1174.7 673.2 L1175.6 668.3 L1176.6 668.3 L1177.5 669.4 L1178.5 670.7 L1179.4 670.8 L1180.4 672.0 L1181.3 674.9 L1182.3 672.3 L1183.2 677.4 L1184.2 672.6 L1185.1 676.9 L1186.1 679.0 L1187.0 680.3 L1188.0 668.6 L1188.9 680.4 L1189.9 669.5 L1190.8 679.7 L1191.8 675.4 L1192.7 676.7 L1193.7 673.0 L1194.6 679.4 L1195.6 679.2 L1196.5 675.9 L1197.5 676.1 L1198.4 680.8 L1199.4 680.8 L1200.3 679.1 L1201.3 674.2 L1202.2 673.9 L1203.2 675.4 L1204.1 674.0 L1205.1 674.1 L1206.0 670.5 L1207.0 667.6 L1207.9 670.7 L1208.9 671.3 L1209.8 668.3 L1210.8 671.4 L1211.7 667.3 L1212.7 670.7 L1213.6 667.9 L1214.6 676.3 L1215.5 673.5 L1216.5 670.8 L1217.4 666.3 L1218.4 667.1 L1219.3 673.5 L1220.3 671.2 L1221.2 672.6 L1222.2 666.2 L1223.1 665.5 L1224.1 669.0 L1225.0 666.1 L1226.0 660.7 L1226.9 660.4 L1227.9 663.7 L1228.8 658.9 L1229.8 661.8 L1230.7 665.8 L1231.7 663.1 L1232.6 664.3 L1233.6 664.0 L1234.5 671.4 L1235.5 664.6 L1236.4 666.4 L1237.4 669.8 L1238.3 664.9 L1239.3 671.7 L1240.2 665.9 L1241.2 668.6 L1242.1 665.2 L1243.1 664.8 L1244.0 665.2 L1245.0 659.1 L1245.9 661.7 L1246.9 663.4 L1247.8 671.1 L1248.8 666.1 L1249.7 664.6 L1250.7 658.0 L1251.6 662.6 L1252.6 662.7 L1253.5 660.7 L1254.5 665.0 L1255.4 654.4 L1256.4 655.5 L1257.3 658.2 L1258.3 656.2 L1259.2 659.3 L1260.2 660.6 L1261.1 658.7 L1262.1 658.9 L1263.0 659.6 L1264.0 660.7 L1264.9 656.5 L1265.9 656.7 L1266.8 662.5 L1267.8 658.0 L1268.7 656.7 L1269.7 660.1 L1270.6 658.2 L1271.6 659.6 L1272.5 659.1 L1273.5 661.1 L1274.4 661.9 L1275.4 656.7 L1276.3 655.4 L1277.3 663.6 L1278.2 656.6 L1279.2 653.7 L1280.1 652.3 L1281.1 657.3 L1282.0 654.9 L1283.0 650.8 L1283.9 653.0 L1284.9 652.4 L1285.8 658.6 L1286.8 656.8 L1287.7 656.7 L1288.7 653.7 L1289.6 657.6 L1290.6 660.5 L1291.5 659.2 L1292.5 661.8 L1293.4 658.8 L1294.4 660.4 L1295.3 659.7 L1296.3 656.7 L1297.2 662.5 L1298.2 660.1 L1299.1 662.1 L1300.1 657.4 L1301.0 658.3 L1302.0 661.9 L1302.9 660.8 L1303.9 665.4 L1304.8 665.0 L1305.8 667.3 L1306.7 665.4 L1307.7 660.5 L1308.6 666.7 L1309.6 662.6 L1310.5 663.2 L1311.5 666.7 L1312.4 668.0 L1313.4 672.8 L1314.3 677.9 L1315.3 674.4 L1316.2 678.8 L1317.2 675.0 L1318.1 677.3 L1319.1 675.2 L1320.0 675.6 L1321.0 680.8 L1321.9 678.4 L1322.9 678.6 L1323.8 675.4 L1324.8 683.0 L1325.7 678.0 L1326.7 677.0 L1327.6 679.1 L1328.6 681.4 L1329.5 681.9 L1330.5 684.5 L1331.4 677.9 L1332.4 680.4 L1333.3 686.8 L1334.3 689.4 L1335.2 681.8 L1336.2 683.7 L1337.1 679.6 L1338.1 681.6 L1339.0 681.1 L1340.0 682.9 L1340.9 679.4 L1341.9 685.1 L1342.8 682.2 L1343.8 681.6 L1344.7 685.0 L1345.7 681.8 L1346.6 679.4 L1347.6 683.5 L1348.5 690.2 L1349.5 685.2 L1350.4 687.2 L1351.4 686.1 L1352.3 686.7 L1353.3 689.3 L1354.2 682.3 L1355.2 685.5 L1356.1 687.9 L1357.1 689.5 L1358.0 695.1 L1359.0 698.0 L1359.9 694.5 L1360.9 694.9 L1361.8 696.8 L1362.8 700.3 L1363.7 694.7 L1364.7 697.6 L1365.6 700.9 L1366.6 702.8 L1367.5 698.2 L1368.5 706.0 L1369.4 701.6 L1370.4 709.2 L1371.3 710.2 L1372.3 702.3 L1373.2 710.2 L1374.2 709.8 L1375.1 708.2 L1376.1 713.2 L1377.0 716.8 L1378.0 713.4 L1378.9 709.7 L1379.9 709.2 L1380.8 710.5 L1381.8 711.6 L1382.7 718.3 L1383.7 717.2 L1384.6 717.8 L1385.6 721.8 L1386.5 721.0 L1387.5 722.4 L1388.4 721.2 L1389.4 722.7 L1390.3 725.2 L1391.3 722.6 L1392.2 730.8 L1393.2 727.1 L1394.1 725.7 L1395.1 730.2 L1396.0 724.9 L1397.0 730.7 L1397.9 728.0 L1398.9 732.8 L1399.8 726.3 L1400.8 727.1 L1401.7 726.5 L1402.7 726.5 L1403.6 731.8 L1404.6 729.8 L1405.5 735.0 L1406.5 733.8 L1407.4 739.3 L1408.4 731.4 L1409.3 738.9 L1410.3 738.3 L1411.2 738.6 L1412.2 737.2 L1413.1 743.9 L1414.1 738.4 L1415.0 740.8 L1416.0 739.1 L1416.9 738.8 L1417.9 740.0 L1418.8 741.5 L1419.8 736.7 L1420.7 738.6 L1421.7 736.4 L1422.6 741.7 L1423.6 739.1 L1424.5 740.2 L1425.5 744.9 L1426.4 744.2 L1427.4 746.6 L1428.3 746.5 L1429.3 749.4 L1430.2 750.1 L1431.2 748.4 L1432.1 753.3 L1433.1 753.0 L1434.0 754.3 L1435.0 756.4 L1435.9 754.9 L1436.9 754.0 L1437.8 760.3 L1438.8 762.4 L1439.7 757.0 L1440.7 761.2 L1441.6 759.6 L1442.6 757.4 L1443.5 757.6 L1444.5 760.2 L1445.4 761.5 L1446.4 763.7 L1447.3 766.5 L1448.3 766.1 L1449.2 773.2 L1450.2 769.3 L1451.1 770.3 L1452.1 775.7 L1453.0 775.0 L1454.0 776.4 L1454.9 772.7 L1455.9 770.5 L1456.8 775.4 L1457.8 772.8 L1458.7 773.6 L1459.7 772.7 L1460.6 776.9 L1461.6 771.0 L1462.5 778.6 L1463.5 772.6 L1464.4 780.4 L1465.4 774.5 L1466.3 780.5 L1467.3 784.6 L1468.2 778.3 L1469.2 776.1 L1470.1 784.2 L1471.1 778.3 L1472.0 777.1 L1473.0 783.9 L1473.9 776.0 L1474.9 778.8 L1475.8 780.2 L1476.8 782.6 L1477.7 780.0 L1478.7 788.0 L1479.6 789.3 L1480.6 787.5 L1481.5 787.7 L1482.5 785.9 L1483.4 792.2 L1484.4 790.3 L1485.3 794.5 L1486.3 796.1 L1487.2 794.1 L1488.2 789.0 L1489.1 792.1 L1490.1 798.2 L1491.0 795.8 L1492.0 799.1 L1492.9 790.7 L1493.9 796.6 L1494.8 797.1 L1495.8 793.8 L1496.7 796.3 L1497.7 800.0 L1498.6 798.2 L1499.6 794.8 L1500.5 796.4 L1501.5 798.3 L1502.4 792.9 L1503.4 797.1 L1504.3 800.1 L1505.3 797.1 L1506.2 803.3 L1507.2 800.8 L1508.1 804.6 L1509.1 804.8 L1510.0 803.8 L1511.0 803.1 L1511.9 803.0 L1512.9 806.0 L1513.8 807.1 L1514.8 811.0 L1515.7 808.2 L1516.7 810.0 L1517.6 813.8 L1518.6 810.8 L1519.5 811.5 L1520.5 814.6 L1521.4 811.1 L1522.4 812.1 L1523.3 813.1 L1524.3 810.9 L1525.2 808.4 L1526.2 807.4 L1527.1 810.4 L1528.1 813.7 L1529.0 813.6 L1530.0 815.5 L1530.9 814.3 L1531.9 811.2 L1532.8 809.9 L1533.8 812.7 L1534.7 813.6 L1535.7 812.6 L1536.6 816.7 L1537.6 812.5 L1538.5 815.8 L1539.5 816.4 L1540.4 810.3 L1541.4 813.6 L1542.3 817.7 L1543.3 816.7 L1544.2 814.9 L1545.2 811.8 L1546.1 812.5 L1547.1 814.2 L1548.0 816.7 L1549.0 814.8 L1549.9 813.6 L1550.9 814.8 L1551.8 816.7 L1552.8 811.5 L1553.7 814.1 L1554.7 817.3 L1555.6 820.9 L1556.6 821.4 L1557.5 817.8 L1558.5 820.6 L1559.4 819.6 L1560.4 821.1 L1561.3 822.9 L1562.3 822.1 L1563.2 822.0 L1564.2 820.8 L1565.1 820.0 L1566.1 823.4 L1567.0 824.3 L1568.0 825.2 L1568.9 821.5 L1569.9 821.5 L1570.8 825.9 L1571.8 823.8 L1572.7 824.8 L1573.7 821.5 L1574.6 821.3 L1575.6 820.5 L1576.5 825.8 L1577.5 821.3 L1578.4 820.4 L1579.4 823.3 L1580.3 828.4 L1581.3 825.8 L1582.2 826.4 L1583.2 826.3 L1584.1 826.0 L1585.1 825.8 L1586.0 823.2 L1587.0 830.6 L1587.9 826.7 L1588.9 830.1 L1589.8 823.9 L1590.8 828.9 L1591.7 825.1 L1592.7 825.1 L1593.6 828.9 L1594.6 830.8 L1595.5 831.5 L1596.5 831.1 L1597.4 826.9 L1598.4 828.7 L1599.3 824.9 L1600.3 824.7 L1601.2 826.5 L1602.2 825.9 L1603.1 828.5 L1604.1 822.9 L1605.0 830.1 L1606.0 826.5 L1606.9 831.4 L1607.9 830.9 L1608.8 826.0 L1609.8 829.0 L1610.7 831.2 L1611.7 828.5 L1612.6 829.1 L1613.6 830.4 L1614.5 832.9 L1615.5 833.2 L1616.4 830.0 L1617.4 832.7 L1618.3 834.0 L1619.3 832.6 L1620.2 828.7 L1621.2 828.1 L1622.1 830.1 L1623.1 830.8 L1624.0 829.5 L1625.0 827.5 L1625.9 826.6 L1626.9 832.1 L1627.8 830.1 L1628.8 835.9 L1629.7 830.7 L1630.7 834.1 L1631.6 834.7 L1632.6 841.2 L1633.5 840.6 L1634.5 837.2 L1635.4 834.2 L1636.4 840.9 L1637.3 838.5 L1638.3 835.7 L1639.2 834.8 L1640.2 838.9 L1641.1 837.6 L1642.1 838.3 L1643.0 838.9 L1644.0 837.3 L1644.9 837.5 L1645.9 839.6 L1646.8 838.0 L1647.8 837.5 L1648.7 839.3 L1649.7 833.3 L1650.6 839.9 L1651.6 837.7 L1652.5 834.6 L1653.5 835.4 L1654.4 838.0 L1655.4 836.2 L1656.3 831.0 L1657.3 832.7 L1658.2 835.6 L1659.2 839.6 L1660.1 838.1 L1661.1 836.6 L1662.0 838.7 L1663.0 837.8 L1663.9 837.3 L1664.9 838.9 L1665.8 833.8 L1666.8 840.9 L1667.7 840.3 L1668.7 838.7 L1669.6 838.2 L1670.6 837.7 L1671.5 840.9 L1672.5 840.5 L1673.4 840.4 L1674.4 843.4 L1675.3 834.8 L1676.3 837.6 L1677.2 837.1 L1678.2 840.3 L1679.1 837.3 L1680.1 835.6 L1681.0 837.9 L1682.0 838.5 L1682.9 841.5 L1683.9 839.2 L1684.8 838.4 L1685.8 838.9 L1686.7 838.7 L1687.7 841.7 L1688.6 842.6 L1689.6 840.5 L1690.5 840.8 L1691.5 844.0 L1692.4 841.3 L1693.4 842.0 L1694.3 838.5 L1695.3 839.5 L1696.2 836.4 L1697.2 838.2 L1698.1 842.2 L1699.1 844.6 L1700.0 842.2 L1701.0 840.9 L1701.9 844.1 L1702.9 846.6 L1703.8 844.1 L1704.8 846.5 L1705.7 844.6 L1706.7 842.4 L1707.6 843.3 L1708.6 844.9 L1709.5 850.2 L1710.5 847.1 L1711.4 845.4 L1712.4 846.4 L1713.3 846.1 L1714.3 844.7 L1715.2 845.3 L1716.2 845.1 L1717.1 847.3 L1718.1 849.3 L1719.0 849.1 L1720.0 846.0 L1720.9 848.0 L1721.9 845.5 L1722.8 844.8 L1723.8 847.0 L1724.7 847.8 L1725.7 846.1 L1726.6 847.6 L1727.6 847.4 L1728.5 847.3 L1729.5 845.6 L1730.4 843.3 L1731.4 849.7 L1732.3 845.1 L1733.3 847.3 L1734.2 846.5 L1735.2 844.6 L1736.1 848.7 L1737.1 846.5 L1738.0 845.3 L1739.0 844.9 L1739.9 844.2 L1740.9 844.1 L1741.8 848.0 L1742.8 846.2 L1743.7 846.2 L1744.7 847.9 L1745.6 845.9 L1746.6 847.5 L1747.5 844.8 L1748.5 844.9 L1749.4 847.8 L1750.4 845.0 L1751.3 847.9 L1752.3 848.2 L1753.2 847.7 L1754.2 844.9 L1755.1 846.0 L1756.1 846.7 L1757.0 846.6 L1758.0 850.8 L1758.9 847.5 L1759.9 846.7 L1760.8 848.0 L1761.8 848.5 L1762.7 845.1 L1763.7 848.9 L1764.6 848.5 L1765.6 845.3 L1766.5 847.4 L1767.5 842.5 L1768.4 844.4 L1769.4 845.3 L1770.3 846.1 L1771.3 848.7 L1772.2 846.2 L1773.2 845.2 L1774.1 847.6 L1775.1 847.5 L1776.0 847.9 L1777.0 846.3 L1777.9 847.1 L1778.9 845.6 L1779.8 847.8 L1780.8 845.8 L1781.7 846.2 L1782.7 850.1 L1783.6 847.1 L1784.6 849.1 L1785.5 850.6 L1786.5 848.9 L1787.4 850.8 L1788.4 847.4 L1789.3 849.6 L1790.3 844.2 L1791.2 844.1 L1792.2 846.6 L1793.1 849.2 L1794.1 849.8 L1795.0 845.6 L1796.0 847.5 L1796.9 847.0 L1797.9 844.3 L1798.8 849.8 L1799.8 847.9 L1800.7 851.1 L1801.7 849.1 L1802.6 847.6 L1803.6 847.4 L1804.5 848.6 L1805.5 850.2 L1806.4 849.2 L1807.4 854.9 L1808.3 852.0 L1809.3 850.1 L1810.2 852.5 L1811.2 854.5 L1812.1 852.9 L1813.1 851.2 L1814.0 850.1 L1815.0 849.4 L1815.9 848.4 L1816.9 849.5 L1817.8 851.0 L1818.8 850.0 L1819.7 854.6 L1820.7 853.2 L1821.6 852.6 L1822.6 854.2 L1823.5 857.5 L1824.5 852.4 L1825.4 856.2 L1826.4 860.0 L1827.3 857.8 L1828.3 854.4 L1829.2 856.0 L1830.2 855.0 L1831.1 859.0 L1832.1 853.3 L1833.0 853.5 L1834.0 853.0 L1834.9 850.8 L1835.9 849.2 L1836.8 852.7 L1837.8 854.1 L1838.7 852.4 L1839.7 853.9 L1840.6 854.3 L1841.6 854.0 L1842.5 849.8 L1843.5 855.5 L1844.4 854.6 L1845.4 854.7 L1846.3 853.5 L1847.3 853.6 L1848.2 852.6 L1849.2 854.2 L1850.1 855.1 L1851.1 852.6 L1852.0 855.2 L1853.0 853.4 L1853.9 855.6 L1854.9 854.7 L1855.8 856.8 L1856.8 858.9 L1857.7 856.2 L1858.7 855.0 L1859.6 855.1 L1860.6 856.8 L1861.5 854.7 L1862.5 856.9 L1863.4 855.4 L1864.4 856.1 L1865.3 853.2 L1866.3 852.2 L1867.2 852.2 L1868.2 853.8 L1869.1 851.6 L1870.1 854.0 L1871.0 849.4 L1872.0 851.9 L1872.9 853.0 L1873.9 850.5 L1874.8 852.9 L1875.8 851.8 L1876.7 854.4 L1877.7 854.1 L1878.6 855.7 L1879.6 852.8 L1880.5 851.3 L1881.5 852.9 L1882.4 853.9 L1883.4 853.8 L1884.3 854.0 L1885.3 855.8 L1886.2 853.2 L1887.2 853.6 L1888.1 852.6 L1889.1 853.1 L1890.0 855.9 L1891.0 854.9 L1891.9 850.7 L1892.9 856.4 L1893.8 851.1 L1894.8 853.4 L1895.7 855.4 L1896.7 853.6 L1897.6 854.0 L1898.6 854.3 L1899.5 853.3 L1900.5 850.8 L1901.4 853.6 L1902.4 852.2 L1903.3 850.0 L1904.3 853.5 L1905.2 855.1 L1906.2 854.6 L1907.1 854.4 L1908.1 857.1 L1909.0 854.5 L1910.0 855.3 L1910.9 854.3 L1911.9 856.5 L1912.8 853.5 L1913.8 856.2 L1914.7 857.5 L1915.7 854.1 L1916.6 856.3 L1917.6 852.3 L1918.5 854.6 L1919.5 854.8 L1920.4 852.0 L1921.4 850.3 L1922.3 853.1 L1923.3 852.5 L1924.2 853.3 L1925.2 853.5 L1926.1 854.3 L1927.1 855.4 L1928.0 853.5 L1929.0 850.3 L1929.9 853.6 L1930.9 853.1 L1931.8 852.8 L1932.8 855.1"/>
<path stroke="#4ea4e0" d="M352.0 601.4 L352.9 588.3 L353.9 588.8 L354.8 592.8 L355.8 589.9 L356.7 595.4 L357.7 587.2 L358.6 596.6 L359.6 582.3 L360.5 594.3 L361.5 594.3 L362.4 601.5 L363.4 586.7 L364.3 595.2 L365.3 596.5 L366.2 590.8 L367.2 598.1 L368.1 594.2 L369.1 593.5 L370.0 592.2 L371.0 598.1 L371.9 593.9 L372.9 588.7 L373.8 599.4 L374.8 589.7 L375.7 600.5 L376.7 597.6 L377.6 591.5 L378.6 586.6 L379.5 588.3 L380.5 584.9 L381.4 588.4 L382.4 588.0 L383.3 600.3 L384.3 580.1 L385.2 587.5 L386.2 593.2 L387.1 595.7 L388.1 597.3 L389.0 586.7 L390.0 595.3 L390.9 581.3 L391.9 591.5 L392.8 596.9 L393.8 596.5 L394.7 586.7 L395.7 589.4 L396.6 583.1 L397.6 589.5 L398.5 586.3 L399.5 593.9 L400.4 589.0 L401.4 595.4 L402.3 592.3 L403.3 591.9 L404.2 602.7 L405.2 601.5 L406.1 591.8 L407.1 606.6 L408.0 605.6 L409.0 609.6 L409.9 606.1 L410.9 595.3 L411.8 601.1 L412.8 591.0 L413.7 593.6 L414.7 595.7 L415.6 604.0 L416.6 597.9 L417.5 598.9 L418.5 601.9 L419.4 595.2 L420.4 605.6 L421.3 602.5 L422.3 597.7 L423.2 599.9 L424.2 601.7 L425.1 605.7 L426.1 609.5 L427.0 601.6 L428.0 602.3 L428.9 612.0 L429.9 614.5 L430.8 612.5 L431.8 605.0 L432.7 602.1 L433.7 606.3 L434.6 604.0 L435.6 598.5 L436.5 608.4 L437.5 613.0 L438.4 599.3 L439.4 600.3 L440.3 602.0 L441.3 598.4 L442.2 607.4 L443.2 596.1 L444.1 605.0 L445.1 603.3 L446.0 604.9 L447.0 595.1 L447.9 603.4 L448.9 604.8 L449.8 608.0 L450.8 605.7 L451.7 601.1 L452.7 608.7 L453.6 609.5 L454.6 609.3 L455.5 599.7 L456.5 605.7 L457.4 599.3 L458.4 602.8 L459.3 606.8 L460.3 596.2 L461.2 612.4 L462.2 606.7 L463.1 596.7 L464.1 597.0 L465.0 599.1 L466.0 599.0 L466.9 594.7 L467.9 600.6 L468.8 595.1 L469.8 600.4 L470.7 612.5 L471.7 604.9 L472.6 604.3 L473.6 614.2 L474.5 609.3 L475.5 611.4 L476.4 606.4 L477.4 614.3 L478.3 607.7 L479.3 612.9 L480.2 611.5 L481.2 616.3 L482.1 612.9 L483.1 608.5 L484.0 603.9 L485.0 607.4 L485.9 605.3 L486.9 614.7 L487.8 604.6 L488.8 595.4 L489.7 606.5 L490.7 608.1 L491.6 600.2 L492.6 608.2 L493.5 599.7 L494.5 607.9 L495.4 607.0 L496.4 609.9 L497.3 611.0 L498.3 606.4 L499.2 613.4 L500.2 607.5 L501.1 610.3 L502.1 616.2 L503.0 605.6 L504.0 610.2 L504.9 617.2 L505.9 615.7 L506.8 606.7 L507.8 606.8 L508.7 612.1 L509.7 606.7 L510.6 610.5 L511.6 604.8 L512.5 615.0 L513.5 605.9 L514.4 614.7 L515.4 617.6 L516.3 611.4 L517.3 606.9 L518.2 607.6 L519.2 603.7 L520.1 619.4 L521.1 601.2 L522.0 602.6 L523.0 608.5 L523.9 605.8 L524.9 609.1 L525.8 609.5 L526.8 605.1 L527.7 602.6 L528.7 600.6 L529.6 603.0 L530.6 609.1 L531.5 608.8 L532.5 610.3 L533.4 601.4 L534.4 607.1 L535.3 609.0 L536.3 611.2 L537.2 610.2 L538.2 619.3 L539.1 622.0 L540.1 626.3 L541.0 616.3 L542.0 618.6 L542.9 619.5 L543.9 618.6 L544.8 614.1 L545.8 620.6 L546.7 607.0 L547.7 613.4 L548.6 606.8 L549.6 618.3 L550.5 609.4 L551.5 610.6 L552.4 615.9 L553.4 611.3 L554.3 617.5 L555.3 615.3 L556.2 627.1 L557.2 614.4 L558.1 617.9 L559.1 625.5 L560.0 624.3 L561.0 626.1 L561.9 622.6 L562.9 627.9 L563.8 625.0 L564.8 629.3 L565.7 617.6 L566.7 625.3 L567.6 623.5 L568.6 626.6 L569.5 620.6 L570.5 628.0 L571.4 617.6 L572.4 626.5 L573.3 623.7 L574.3 611.8 L575.2 620.4 L576.2 609.0 L577.1 619.7 L578.1 610.1 L579.0 617.5 L580.0 617.5 L580.9 612.5 L581.9 612.5 L582.8 623.7 L583.8 619.7 L584.7 626.8 L585.7 621.7 L586.6 631.4 L587.6 622.1 L588.5 628.8 L589.5 622.2 L590.4 620.6 L591.4 622.2 L592.3 616.2 L593.3 616.4 L594.2 626.2 L595.2 617.6 L596.1 612.7 L597.1 619.1 L598.0 612.1 L599.0 615.3 L599.9 619.6 L600.9 620.5 L601.8 623.7 L602.8 622.4 L603.7 621.9 L604.7 623.1 L605.6 623.3 L606.6 622.5 L607.5 632.4 L608.5 622.3 L609.4 629.6 L610.4 621.2 L611.3 626.6 L612.3 611.0 L613.2 620.9 L614.2 616.9 L615.1 625.8 L616.1 624.8 L617.0 614.8 L618.0 616.8 L618.9 621.3 L619.9 619.2 L620.8 619.7 L621.8 625.4 L622.7 617.5 L623.7 632.4 L624.6 628.9 L625.6 618.0 L626.5 624.2 L627.5 627.9 L628.4 637.4 L629.4 628.2 L630.3 622.2 L631.3 635.3 L632.2 631.7 L633.2 630.3 L634.1 635.0 L635.1 628.4 L636.0 629.0 L637.0 633.2 L637.9 630.2 L638.9 632.1 L639.8 626.1 L640.8 635.1 L641.7 621.8 L642.7 622.3 L643.6 630.8 L644.6 627.5 L645.5 630.0 L646.5 629.5 L647.4 629.0 L648.4 625.3 L649.3 631.3 L650.3 635.6 L651.2 626.0 L652.2 637.4 L653.1 635.6 L654.1 625.0 L655.0 632.1 L656.0 624.2 L656.9 628.9 L657.9 625.2 L658.8 627.9 L659.8 622.1 L660.7 628.8 L661.7 623.9 L662.6 623.1 L663.6 616.8 L664.5 623.7 L665.5 630.3 L666.4 619.8 L667.4 620.6 L668.3 617.0 L669.3 620.9 L670.2 620.7 L671.2 619.3 L672.1 623.7 L673.1 627.0 L674.0 632.1 L675.0 630.9 L675.9 634.8 L676.9 640.1 L677.8 639.0 L678.8 633.4 L679.7 627.5 L680.7 634.0 L681.6 634.8 L682.6 638.3 L683.5 634.2 L684.5 641.9 L685.4 631.1 L686.4 634.6 L687.3 627.4 L688.3 626.4 L689.2 628.7 L690.2 629.9 L691.1 631.0 L692.1 617.2 L693.0 630.6 L694.0 631.5 L694.9 630.6 L695.9 628.8 L696.8 625.6 L697.8 629.8 L698.7 634.5 L699.7 626.8 L700.6 635.4 L701.6 636.2 L702.5 634.4 L703.5 642.9 L704.4 632.4 L705.4 630.7 L706.3 633.9 L707.3 630.4 L708.2 637.3 L709.2 623.1 L710.1 622.9 L711.1 628.0 L712.0 628.5 L713.0 619.8 L713.9 630.1 L714.9 617.1 L715.8 630.0 L716.8 622.5 L717.7 624.4 L718.7 633.8 L719.6 625.9 L720.6 623.2 L721.5 626.7 L722.5 633.5 L723.4 626.0 L724.4 622.6 L725.3 626.6 L726.3 620.5 L727.2 622.7 L728.2 623.1 L729.1 628.3 L730.1 623.9 L731.0 628.6 L732.0 632.1 L732.9 634.7 L733.9 621.9 L734.8 629.1 L735.8 624.8 L736.7 632.1 L737.7 630.3 L738.6 628.9 L739.6 626.6 L740.5 624.9 L741.5 622.1 L742.4 633.4 L743.4 629.2 L744.3 630.7 L745.3 632.6 L746.2 635.2 L747.2 640.3 L748.1 632.3 L749.1 635.9 L750.0 626.4 L751.0 630.9 L751.9 628.8 L752.9 628.0 L753.8 633.9 L754.8 628.2 L755.7 626.7 L756.7 625.7 L757.6 623.9 L758.6 623.7 L759.5 622.1 L760.5 622.8 L761.4 623.4 L762.4 624.2 L763.3 616.7 L764.3 623.1 L765.2 621.0 L766.2 620.9 L767.1 613.1 L768.1 612.6 L769.0 619.0 L770.0 612.7 L770.9 617.7 L771.9 613.5 L772.8 611.7 L773.8 611.1 L774.7 614.7 L775.7 615.4 L776.6 612.4 L777.6 622.7 L778.5 616.6 L779.5 612.2 L780.4 620.7 L781.4 617.0 L782.3 609.7 L783.3 607.8 L784.2 610.6 L785.2 614.1 L786.1 605.9 L787.1 616.7 L788.0 611.3 L789.0 616.8 L789.9 613.2 L790.9 615.5 L791.8 615.4 L792.8 617.2 L793.7 608.5 L794.7 618.2 L795.6 605.4 L796.6 611.5 L797.5 612.6 L798.5 609.3 L799.4 611.5 L800.4 599.9 L801.3 604.2 L802.3 606.4 L803.2 600.8 L804.2 595.1 L805.1 599.1 L806.1 598.6 L807.0 593.6 L808.0 602.5 L808.9 595.2 L809.9 593.6 L810.8 598.5 L811.8 596.1 L812.7 598.5 L813.7 600.9 L814.6 599.0 L815.6 603.6 L816.5 602.9 L817.5 606.8 L818.4 598.3 L819.4 602.1 L820.3 602.2 L821.3 601.3 L822.2 590.7 L823.2 593.3 L824.1 597.3 L825.1 596.8 L826.0 593.5 L827.0 593.0 L827.9 596.2 L828.9 589.3 L829.8 587.0 L830.8 595.2 L831.7 591.2 L832.7 587.8 L833.6 585.2 L834.6 593.6 L835.5 585.6 L836.5 582.7 L837.4 589.9 L838.4 578.5 L839.3 582.9 L840.3 585.5 L841.2 581.8 L842.2 581.0 L843.1 584.9 L844.1 578.8 L845.0 582.8 L846.0 586.4 L846.9 579.3 L847.9 588.4 L848.8 581.8 L849.8 581.6 L850.7 579.3 L851.7 582.4 L852.6 577.5 L853.6 579.3 L854.5 582.4 L855.5 581.6 L856.4 570.6 L857.4 581.2 L858.3 574.2 L859.3 577.5 L860.2 577.2 L861.2 578.3 L862.1 575.2 L863.1 579.5 L864.0 580.4 L865.0 573.2 L865.9 573.7 L866.9 575.1 L867.8 574.4 L868.8 570.1 L869.7 568.9 L870.7 569.2 L871.6 565.9 L872.6 568.6 L873.5 566.5 L874.5 566.2 L875.4 558.3 L876.4 559.2 L877.3 566.0 L878.3 565.8 L879.2 563.2 L880.2 560.8 L881.1 558.5 L882.1 561.2 L883.0 557.2 L884.0 558.2 L884.9 563.4 L885.9 552.4 L886.8 555.4 L887.8 557.3 L888.7 551.9 L889.7 555.5 L890.6 564.5 L891.6 562.7 L892.5 560.0 L893.5 564.9 L894.4 555.9 L895.4 566.6 L896.3 559.5 L897.3 558.1 L898.2 565.1 L899.2 563.5 L900.1 562.5 L901.1 560.9 L902.0 553.8 L903.0 551.7 L903.9 558.3 L904.9 560.8 L905.8 553.7 L906.8 556.7 L907.7 550.7 L908.7 551.4 L909.6 557.3 L910.6 560.7 L911.5 561.2 L912.5 563.0 L913.4 555.4 L914.4 557.3 L915.3 560.2 L916.3 552.9 L917.2 555.2 L918.2 556.1 L919.1 556.1 L920.1 559.6 L921.0 558.2 L922.0 555.3 L922.9 548.8 L923.9 560.0 L924.8 560.8 L925.8 559.1 L926.7 558.9 L927.7 559.9 L928.6 563.5 L929.6 558.1 L930.5 560.5 L931.5 557.7 L932.4 560.9 L933.4 558.9 L934.3 559.1 L935.3 555.1 L936.2 562.5 L937.2 567.3 L938.1 556.2 L939.1 569.8 L940.0 565.8 L941.0 564.0 L941.9 567.8 L942.9 565.8 L943.8 566.2 L944.8 571.3 L945.7 566.5 L946.7 567.2 L947.6 565.3 L948.6 566.4 L949.5 564.5 L950.5 568.1 L951.4 566.2 L952.4 573.2 L953.3 568.1 L954.3 571.2 L955.2 572.9 L956.2 571.8 L957.1 565.9 L958.1 575.0 L959.0 563.3 L960.0 576.7 L960.9 565.3 L961.9 571.8 L962.8 576.2 L963.8 574.9 L964.7 570.5 L965.7 572.9 L966.6 579.1 L967.6 571.8 L968.5 579.8 L969.5 581.3 L970.4 581.7 L971.4 577.5 L972.3 576.4 L973.3 575.1 L974.2 584.6 L975.2 581.1 L976.1 579.3 L977.1 578.6 L978.0 581.6 L979.0 571.4 L979.9 581.7 L980.9 577.1 L981.8 571.8 L982.8 584.1 L983.7 577.7 L984.7 581.9 L985.6 577.3 L986.6 577.8 L987.5 584.3 L988.5 579.6 L989.4 580.3 L990.4 574.8 L991.3 585.7 L992.3 582.7 L993.2 589.0 L994.2 585.8 L995.1 592.1 L996.1 593.5 L997.0 586.9 L998.0 593.4 L998.9 589.4 L999.9 597.2 L1000.8 594.5 L1001.8 593.8 L1002.7 601.7 L1003.7 597.0 L1004.6 592.8 L1005.6 597.2 L1006.5 595.2 L1007.5 599.1 L1008.4 591.2 L1009.4 601.8 L1010.3 593.4 L1011.3 593.8 L1012.2 592.3 L1013.2 593.2 L1014.1 600.4 L1015.1 593.8 L1016.0 589.2 L1017.0 592.3 L1017.9 593.8 L1018.9 596.3 L1019.8 591.7 L1020.8 593.3 L1021.7 599.9 L1022.7 591.4 L1023.6 591.9 L1024.6 587.1 L1025.5 594.4 L1026.5 589.5 L1027.4 597.7 L1028.4 595.9 L1029.3 595.1 L1030.3 591.2 L1031.2 592.6 L1032.2 593.1 L1033.1 595.1 L1034.1 593.6 L1035.0 592.7 L1036.0 594.4 L1036.9 593.3 L1037.9 591.5 L1038.8 595.4 L1039.8 595.4 L1040.7 589.7 L1041.7 598.8 L1042.6 592.7 L1043.6 595.7 L1044.5 598.1 L1045.5 587.2 L1046.4 594.3 L1047.4 596.3 L1048.3 597.9 L1049.3 597.1 L1050.2 598.2 L1051.2 589.7 L1052.1 591.4 L1053.1 596.2 L1054.0 586.7 L1055.0 591.3 L1055.9 592.0 L1056.9 593.7 L1057.8 595.6 L1058.8 593.6 L1059.7 590.5 L1060.7 590.7 L1061.6 595.9 L1062.6 597.0 L1063.5 596.8 L1064.5 596.5 L1065.4 596.8 L1066.4 592.1 L1067.3 597.1 L1068.3 600.0 L1069.2 593.8 L1070.2 599.0 L1071.1 599.4 L1072.1 603.7 L1073.0 594.9 L1074.0 592.8 L1074.9 588.1 L1075.9 587.2 L1076.8 584.4 L1077.8 583.2 L1078.7 591.3 L1079.7 588.8 L1080.6 590.0 L1081.6 583.8 L1082.5 582.6 L1083.5 583.6 L1084.4 595.1 L1085.4 593.6 L1086.3 585.5 L1087.3 590.5 L1088.2 591.0 L1089.2 587.4 L1090.1 588.8 L1091.1 594.4 L1092.0 593.7 L1093.0 594.4 L1093.9 592.4 L1094.9 591.5 L1095.8 592.4 L1096.8 589.9 L1097.7 595.8 L1098.7 591.1 L1099.6 592.4 L1100.6 590.8 L1101.5 589.3 L1102.5 591.6 L1103.4 590.7 L1104.4 588.9 L1105.3 593.9 L1106.3 597.6 L1107.2 592.1 L1108.2 591.3 L1109.1 590.0 L1110.1 588.3 L1111.0 595.8 L1112.0 596.1 L1112.9 591.6 L1113.9 594.1 L1114.8 590.5 L1115.8 597.4 L1116.7 592.6 L1117.7 593.4 L1118.6 597.4 L1119.6 584.5 L1120.5 592.9 L1121.5 592.1 L1122.4 589.8 L1123.4 590.0 L1124.3 593.2 L1125.3 586.3 L1126.2 585.7 L1127.2 593.1 L1128.1 590.8 L1129.1 589.3 L1130.0 590.6 L1131.0 588.6 L1131.9 587.4 L1132.9 587.8 L1133.8 589.0 L1134.8 586.2 L1135.7 582.2 L1136.7 586.6 L1137.6 588.0 L1138.6 586.7 L1139.5 589.4 L1140.5 588.4 L1141.4 590.9 L1142.4 588.7 L1143.3 588.4 L1144.3 591.5 L1145.2 593.4 L1146.2 590.0 L1147.1 589.3 L1148.1 596.7 L1149.0 590.7 L1150.0 593.2 L1150.9 589.7 L1151.9 590.9 L1152.8 593.4 L1153.8 593.0 L1154.7 582.1 L1155.7 580.3 L1156.6 576.2 L1157.6 584.2 L1158.5 586.3 L1159.5 581.6 L1160.4 579.6 L1161.4 583.2 L1162.3 577.9 L1163.3 583.5 L1164.2 586.4 L1165.2 586.7 L1166.1 585.5 L1167.1 582.1 L1168.0 582.9 L1169.0 581.0 L1169.9 589.4 L1170.9 586.9 L1171.8 582.1 L1172.8 581.3 L1173.7 581.5 L1174.7 578.1 L1175.6 581.3 L1176.6 580.9 L1177.5 580.5 L1178.5 579.0 L1179.4 571.4 L1180.4 577.7 L1181.3 573.6 L1182.3 572.6 L1183.2 584.5 L1184.2 576.1 L1185.1 577.0 L1186.1 576.8 L1187.0 575.2 L1188.0 582.9 L1188.9 572.1 L1189.9 579.0 L1190.8 575.2 L1191.8 580.3 L1192.7 578.3 L1193.7 575.4 L1194.6 570.3 L1195.6 577.4 L1196.5 578.5 L1197.5 578.2 L1198.4 576.1 L1199.4 579.7 L1200.3 576.0 L1201.3 579.6 L1202.2 580.2 L1203.2 578.5 L1204.1 576.4 L1205.1 579.1 L1206.0 577.5 L1207.0 577.1 L1207.9 584.4 L1208.9 581.1 L1209.8 580.2 L1210.8 580.1 L1211.7 582.6 L1212.7 579.7 L1213.6 577.7 L1214.6 579.8 L1215.5 578.7 L1216.5 575.1 L1217.4 574.3 L1218.4 581.6 L1219.3 576.8 L1220.3 581.3 L1221.2 579.1 L1222.2 576.6 L1223.1 575.3 L1224.1 580.2 L1225.0 572.4 L1226.0 572.4 L1226.9 570.5 L1227.9 571.9 L1228.8 569.1 L1229.8 571.9 L1230.7 567.4 L1231.7 572.6 L1232.6 572.0 L1233.6 571.8 L1234.5 569.7 L1235.5 575.7 L1236.4 578.0 L1237.4 571.6 L1238.3 569.4 L1239.3 573.1 L1240.2 569.9 L1241.2 570.4 L1242.1 571.5 L1243.1 565.4 L1244.0 572.0 L1245.0 567.3 L1245.9 567.3 L1246.9 570.3 L1247.8 576.0 L1248.8 569.6 L1249.7 572.3 L1250.7 567.4 L1251.6 571.2 L1252.6 569.4 L1253.5 571.0 L1254.5 567.4 L1255.4 566.5 L1256.4 560.8 L1257.3 567.5 L1258.3 569.4 L1259.2 568.2 L1260.2 568.5 L1261.1 569.8 L1262.1 570.7 L1263.0 565.3 L1264.0 567.5 L1264.9 568.9 L1265.9 568.3 L1266.8 564.7 L1267.8 561.7 L1268.7 568.5 L1269.7 569.5 L1270.6 572.2 L1271.6 568.4 L1272.5 564.6 L1273.5 568.5 L1274.4 567.0 L1275.4 565.8 L1276.3 564.2 L1277.3 563.7 L1278.2 567.5 L1279.2 568.6 L1280.1 569.8 L1281.1 569.2 L1282.0 569.2 L1283.0 573.5 L1283.9 567.4 L1284.9 571.4 L1285.8 565.2 L1286.8 565.5 L1287.7 566.3 L1288.7 562.8 L1289.6 573.1 L1290.6 569.4 L1291.5 571.5 L1292.5 575.3 L1293.4 572.8 L1294.4 577.5 L1295.3 567.4 L1296.3 578.5 L1297.2 576.2 L1298.2 573.9 L1299.1 578.6 L1300.1 575.5 L1301.0 573.3 L1302.0 569.7 L1302.9 580.3 L1303.9 568.4 L1304.8 574.6 L1305.8 578.4 L1306.7 575.3 L1307.7 571.4 L1308.6 572.6 L1309.6 572.2 L1310.5 575.5 L1311.5 575.5 L1312.4 572.8 L1313.4 572.8 L1314.3 580.6 L1315.3 574.0 L1316.2 574.7 L1317.2 584.6 L1318.1 576.3 L1319.1 575.6 L1320.0 577.3 L1321.0 583.0 L1321.9 579.4 L1322.9 581.8 L1323.8 576.5 L1324.8 581.7 L1325.7 584.1 L1326.7 584.7 L1327.6 589.3 L1328.6 587.1 L1329.5 579.8 L1330.5 581.7 L1331.4 584.1 L1332.4 586.0 L1333.3 587.0 L1334.3 588.8 L1335.2 582.3 L1336.2 581.1 L1337.1 590.0 L1338.1 585.4 L1339.0 582.6 L1340.0 586.6 L1340.9 588.5 L1341.9 586.8 L1342.8 587.4 L1343.8 594.1 L1344.7 588.8 L1345.7 593.6 L1346.6 594.2 L1347.6 593.4 L1348.5 601.2 L1349.5 591.3 L1350.4 601.4 L1351.4 592.4 L1352.3 594.4 L1353.3 596.2 L1354.2 598.9 L1355.2 598.4 L1356.1 596.1 L1357.1 596.9 L1358.0 601.9 L1359.0 603.8 L1359.9 599.0 L1360.9 605.0 L1361.8 604.2 L1362.8 604.4 L1363.7 601.6 L1364.7 602.0 L1365.6 607.6 L1366.6 601.4 L1367.5 607.2 L1368.5 611.0 L1369.4 606.5 L1370.4 617.0 L1371.3 618.2 L1372.3 611.6 L1373.2 615.1 L1374.2 615.7 L1375.1 615.2 L1376.1 616.1 L1377.0 619.7 L1378.0 624.1 L1378.9 621.1 L1379.9 622.6 L1380.8 624.0 L1381.8 622.9 L1382.7 627.4 L1383.7 624.9 L1384.6 623.9 L1385.6 628.5 L1386.5 621.6 L1387.5 625.3 L1388.4 625.7 L1389.4 626.6 L1390.3 623.2 L1391.3 625.5 L1392.2 628.6 L1393.2 631.8 L1394.1 631.1 L1395.1 632.2 L1396.0 631.7 L1397.0 635.3 L1397.9 630.4 L1398.9 639.3 L1399.8 641.2 L1400.8 639.5 L1401.7 637.8 L1402.7 644.8 L1403.6 640.0 L1404.6 646.1 L1405.5 642.3 L1406.5 641.4 L1407.4 643.3 L1408.4 642.5 L1409.3 644.3 L1410.3 646.4 L1411.2 644.7 L1412.2 644.5 L1413.1 646.1 L1414.1 647.8 L1415.0 647.8 L1416.0 650.5 L1416.9 652.1 L1417.9 653.1 L1418.8 656.1 L1419.8 655.9 L1420.7 660.4 L1421.7 659.6 L1422.6 661.6 L1423.6 659.5 L1424.5 656.7 L1425.5 659.6 L1426.4 661.3 L1427.4 662.6 L1428.3 662.2 L1429.3 667.1 L1430.2 660.9 L1431.2 661.0 L1432.1 666.4 L1433.1 666.4 L1434.0 669.3 L1435.0 671.8 L1435.9 676.7 L1436.9 668.4 L1437.8 670.0 L1438.8 673.8 L1439.7 671.4 L1440.7 674.8 L1441.6 681.6 L1442.6 679.5 L1443.5 680.8 L1444.5 684.5 L1445.4 677.8 L1446.4 682.7 L1447.3 682.3 L1448.3 683.1 L1449.2 679.9 L1450.2 681.3 L1451.1 682.2 L1452.1 684.5 L1453.0 681.0 L1454.0 684.8 L1454.9 678.4 L1455.9 685.6 L1456.8 687.4 L1457.8 684.1 L1458.7 686.6 L1459.7 688.3 L1460.6 689.8 L1461.6 692.7 L1462.5 690.6 L1463.5 690.0 L1464.4 690.3 L1465.4 691.8 L1466.3 693.3 L1467.3 692.3 L1468.2 690.5 L1469.2 691.3 L1470.1 690.4 L1471.1 690.4 L1472.0 691.5 L1473.0 691.4 L1473.9 694.9 L1474.9 690.3 L1475.8 693.8 L1476.8 691.3 L1477.7 697.0 L1478.7 696.6 L1479.6 699.8 L1480.6 698.6 L1481.5 695.1 L1482.5 697.9 L1483.4 696.1 L1484.4 696.1 L1485.3 694.7 L1486.3 696.5 L1487.2 697.9 L1488.2 698.9 L1489.1 705.0 L1490.1 700.3 L1491.0 702.3 L1492.0 703.1 L1492.9 703.7 L1493.9 704.2 L1494.8 705.2 L1495.8 704.2 L1496.7 705.9 L1497.7 704.5 L1498.6 700.8 L1499.6 702.7 L1500.5 703.5 L1501.5 702.5 L1502.4 703.3 L1503.4 704.4 L1504.3 706.9 L1505.3 706.8 L1506.2 706.1 L1507.2 708.4 L1508.1 712.7 L1509.1 708.8 L1510.0 713.9 L1511.0 712.8 L1511.9 719.7 L1512.9 716.3 L1513.8 715.3 L1514.8 715.1 L1515.7 711.9 L1516.7 714.4 L1517.6 720.5 L1518.6 716.8 L1519.5 715.5 L1520.5 716.5 L1521.4 717.0 L1522.4 715.1 L1523.3 718.1 L1524.3 719.7 L1525.2 715.7 L1526.2 719.2 L1527.1 714.9 L1528.1 716.7 L1529.0 722.9 L1530.0 724.2 L1530.9 726.0 L1531.9 719.0 L1532.8 722.1 L1533.8 721.7 L1534.7 724.9 L1535.7 723.0 L1536.6 722.2 L1537.6 723.1 L1538.5 720.5 L1539.5 723.7 L1540.4 720.8 L1541.4 724.4 L1542.3 722.7 L1543.3 723.3 L1544.2 720.7 L1545.2 720.3 L1546.1 720.9 L1547.1 726.3 L1548.0 720.9 L1549.0 729.5 L1549.9 726.2 L1550.9 724.2 L1551.8 728.2 L1552.8 724.7 L1553.7 727.5 L1554.7 726.5 L1555.6 729.5 L1556.6 728.6 L1557.5 728.5 L1558.5 725.3 L1559.4 729.4 L1560.4 726.8 L1561.3 727.7 L1562.3 729.0 L1563.2 729.1 L1564.2 725.9 L1565.1 730.6 L1566.1 725.8 L1567.0 730.5 L1568.0 729.3 L1568.9 729.6 L1569.9 727.1 L1570.8 732.1 L1571.8 730.0 L1572.7 732.9 L1573.7 730.4 L1574.6 731.6 L1575.6 734.7 L1576.5 738.1 L1577.5 734.1 L1578.4 736.6 L1579.4 737.4 L1580.3 738.4 L1581.3 738.2 L1582.2 741.8 L1583.2 741.3 L1584.1 740.2 L1585.1 742.5 L1586.0 743.3 L1587.0 739.8 L1587.9 739.3 L1588.9 742.0 L1589.8 744.6 L1590.8 734.4 L1591.7 737.6 L1592.7 740.4 L1593.6 736.8 L1594.6 740.4 L1595.5 738.9 L1596.5 735.7 L1597.4 737.4 L1598.4 739.2 L1599.3 736.2 L1600.3 739.1 L1601.2 737.9 L1602.2 735.8 L1603.1 736.5 L1604.1 734.1 L1605.0 734.8 L1606.0 731.7 L1606.9 736.9 L1607.9 733.4 L1608.8 736.9 L1609.8 739.5 L1610.7 738.8 L1611.7 735.8 L1612.6 736.7 L1613.6 736.7 L1614.5 737.8 L1615.5 735.7 L1616.4 733.9 L1617.4 738.7 L1618.3 738.2 L1619.3 741.4 L1620.2 741.9 L1621.2 735.0 L1622.1 735.9 L1623.1 739.5 L1624.0 740.5 L1625.0 738.5 L1625.9 738.8 L1626.9 735.3 L1627.8 744.8 L1628.8 739.1 L1629.7 742.3 L1630.7 742.1 L1631.6 739.5 L1632.6 742.9 L1633.5 743.9 L1634.5 740.5 L1635.4 740.8 L1636.4 742.1 L1637.3 743.2 L1638.3 743.5 L1639.2 740.4 L1640.2 740.9 L1641.1 742.2 L1642.1 738.7 L1643.0 740.8 L1644.0 742.9 L1644.9 741.5 L1645.9 740.7 L1646.8 743.8 L1647.8 742.4 L1648.7 743.4 L1649.7 741.7 L1650.6 741.7 L1651.6 741.4 L1652.5 744.3 L1653.5 740.6 L1654.4 742.9 L1655.4 746.4 L1656.3 747.4 L1657.3 746.1 L1658.2 744.4 L1659.2 748.5 L1660.1 746.3 L1661.1 748.0 L1662.0 746.8 L1663.0 753.1 L1663.9 753.2 L1664.9 749.2 L1665.8 749.1 L1666.8 751.6 L1667.7 752.7 L1668.7 753.2 L1669.6 749.6 L1670.6 746.2 L1671.5 748.7 L1672.5 748.3 L1673.4 744.5 L1674.4 747.2 L1675.3 747.2 L1676.3 745.8 L1677.2 748.0 L1678.2 749.3 L1679.1 748.9 L1680.1 744.7 L1681.0 745.1 L1682.0 747.7 L1682.9 745.9 L1683.9 746.4 L1684.8 752.1 L1685.8 743.7 L1686.7 747.7 L1687.7 747.9 L1688.6 750.1 L1689.6 754.1 L1690.5 750.8 L1691.5 750.7 L1692.4 751.7 L1693.4 750.6 L1694.3 751.8 L1695.3 755.4 L1696.2 749.5 L1697.2 750.6 L1698.1 751.3 L1699.1 747.8 L1700.0 753.9 L1701.0 753.2 L1701.9 750.2 L1702.9 754.1 L1703.8 755.6 L1704.8 754.1 L1705.7 758.7 L1706.7 755.9 L1707.6 754.7 L1708.6 759.5 L1709.5 757.7 L1710.5 758.2 L1711.4 754.5 L1712.4 754.5 L1713.3 754.7 L1714.3 755.7 L1715.2 755.0 L1716.2 757.3 L1717.1 757.0 L1718.1 753.9 L1719.0 753.4 L1720.0 757.4 L1720.9 754.3 L1721.9 756.9 L1722.8 754.7 L1723.8 756.1 L1724.7 756.1 L1725.7 755.4 L1726.6 757.4 L1727.6 754.8 L1728.5 756.0 L1729.5 756.9 L1730.4 760.3 L1731.4 752.9 L1732.3 757.1 L1733.3 758.7 L1734.2 757.0 L1735.2 759.2 L1736.1 758.1 L1737.1 757.1 L1738.0 754.1 L1739.0 753.1 L1739.9 751.8 L1740.9 749.5 L1741.8 751.2 L1742.8 748.8 L1743.7 749.4 L1744.7 749.1 L1745.6 754.5 L1746.6 752.1 L1747.5 752.1 L1748.5 755.8 L1749.4 754.0 L1750.4 755.8 L1751.3 755.3 L1752.3 756.6 L1753.2 756.6 L1754.2 752.4 L1755.1 759.2 L1756.1 758.4 L1757.0 753.8 L1758.0 758.0 L1758.9 755.8 L1759.9 756.3 L1760.8 758.3 L1761.8 757.6 L1762.7 757.5 L1763.7 759.4 L1764.6 757.8 L1765.6 754.8 L1766.5 753.7 L1767.5 757.6 L1768.4 752.9 L1769.4 755.3 L1770.3 755.1 L1771.3 754.3 L1772.2 758.0 L1773.2 756.0 L1774.1 754.9 L1775.1 757.0 L1776.0 754.8 L1777.0 758.1 L1777.9 760.0 L1778.9 756.7 L1779.8 757.2 L1780.8 760.2 L1781.7 755.0 L1782.7 756.6 L1783.6 757.1 L1784.6 756.2 L1785.5 759.1 L1786.5 759.7 L1787.4 759.1 L1788.4 758.8 L1789.3 760.1 L1790.3 759.9 L1791.2 759.7 L1792.2 756.8 L1793.1 756.9 L1794.1 759.5 L1795.0 757.9 L1796.0 760.0 L1796.9 757.3 L1797.9 758.5 L1798.8 757.7 L1799.8 759.0 L1800.7 759.9 L1801.7 758.4 L1802.6 762.7 L1803.6 756.7 L1804.5 761.1 L1805.5 757.9 L1806.4 760.8 L1807.4 759.4 L1808.3 761.4 L1809.3 761.8 L1810.2 760.7 L1811.2 760.1 L1812.1 760.8 L1813.1 761.7 L1814.0 762.6 L1815.0 763.4 L1815.9 757.0 L1816.9 760.3 L1817.8 758.4 L1818.8 759.0 L1819.7 759.4 L1820.7 760.2 L1821.6 759.6 L1822.6 759.0 L1823.5 761.9 L1824.5 760.0 L1825.4 759.9 L1826.4 762.3 L1827.3 758.9 L1828.3 759.8 L1829.2 764.4 L1830.2 762.0 L1831.1 759.6 L1832.1 764.3 L1833.0 765.2 L1834.0 762.1 L1834.9 761.6 L1835.9 764.2 L1836.8 765.4 L1837.8 764.3 L1838.7 764.2 L1839.7 766.8 L1840.6 766.8 L1841.6 762.9 L1842.5 763.2 L1843.5 763.9 L1844.4 762.6 L1845.4 763.4 L1846.3 763.4 L1847.3 765.3 L1848.2 762.6 L1849.2 763.5 L1850.1 759.5 L1851.1 761.2 L1852.0 764.4 L1853.0 760.6 L1853.9 765.6 L1854.9 764.6 L1855.8 764.2 L1856.8 763.9 L1857.7 762.3 L1858.7 762.4 L1859.6 763.1 L1860.6 763.1 L1861.5 765.6 L1862.5 761.8 L1863.4 762.4 L1864.4 760.6 L1865.3 763.8 L1866.3 763.7 L1867.2 765.6 L1868.2 767.0 L1869.1 764.6 L1870.1 762.2 L1871.0 763.6 L1872.0 763.4 L1872.9 762.6 L1873.9 760.9 L1874.8 763.3 L1875.8 761.0 L1876.7 763.2 L1877.7 763.1 L1878.6 760.1 L1879.6 764.8 L1880.5 767.0 L1881.5 762.8 L1882.4 762.2 L1883.4 764.6 L1884.3 761.2 L1885.3 763.7 L1886.2 764.6 L1887.2 763.8 L1888.1 765.1 L1889.1 764.2 L1890.0 764.9 L1891.0 766.8 L1891.9 764.1 L1892.9 764.2 L1893.8 763.6 L1894.8 765.0 L1895.7 763.3 L1896.7 762.3 L1897.6 764.1 L1898.6 760.3 L1899.5 760.3 L1900.5 763.5 L1901.4 765.5 L1902.4 761.4 L1903.3 762.2 L1904.3 759.1 L1905.2 761.3 L1906.2 761.5 L1907.1 762.5 L1908.1 761.1 L1909.0 766.0 L1910.0 762.3 L1910.9 766.9 L1911.9 763.4 L1912.8 766.5 L1913.8 767.3 L1914.7 768.2 L1915.7 764.2 L1916.6 761.2 L1917.6 764.4 L1918.5 761.5 L1919.5 760.6 L1920.4 761.1 L1921.4 760.6 L1922.3 763.2 L1923.3 762.6 L1924.2 763.8 L1925.2 764.5 L1926.1 763.1 L1927.1 765.2 L1928.0 766.4 L1929.0 767.6 L1929.9 765.1 L1930.9 764.1 L1931.8 762.5 L1932.8 762.4 L1933.7 762.0 L1934.7 761.5 L1935.6 758.6 L1936.6 759.8 L1937.5 760.3 L1938.5 760.2 L1939.4 760.8 L1940.4 762.9 L1941.3 761.5 L1942.3 764.1 L1943.2 762.3 L1944.2 764.6 L1945.1 763.0 L1946.1 766.8 L1947.0 766.4 L1948.0 767.4 L1948.9 764.2 L1949.9 763.3 L1950.8 763.0 L1951.8 764.1 L1952.7 765.5 L1953.7 764.6 L1954.6 764.2 L1955.6 761.2 L1956.5 764.6"/>
<path stroke="#1776b0" d="M352.0 423.6 L352.9 430.5 L353.9 436.0 L354.8 433.3 L355.8 441.5 L356.7 435.1 L357.7 432.7 L358.6 429.9 L359.6 421.8 L360.5 428.0 L361.5 427.5 L362.4 436.2 L363.4 424.1 L364.3 428.1 L365.3 425.9 L366.2 430.9 L367.2 422.3 L368.1 433.0 L369.1 432.3 L370.0 434.1 L371.0 444.6 L371.9 434.4 L372.9 437.4 L373.8 434.2 L374.8 438.2 L375.7 441.3 L376.7 437.0 L377.6 428.2 L378.6 418.7 L379.5 425.9 L380.5 414.9 L381.4 418.2 L382.4 419.3 L383.3 416.5 L384.3 421.8 L385.2 420.0 L386.2 418.4 L387.1 424.2 L388.1 419.4 L389.0 430.1 L390.0 428.0 L390.9 424.2 L391.9 430.1 L392.8 426.3 L393.8 428.2 L394.7 437.7 L395.7 425.9 L396.6 436.6 L397.6 444.1 L398.5 424.1 L399.5 445.4 L400.4 425.8 L401.4 424.5 L402.3 425.4 L403.3 430.6 L404.2 434.0 L405.2 428.2 L406.1 437.0 L407.1 442.2 L408.0 434.6 L409.0 439.1 L409.9 441.8 L410.9 447.8 L411.8 439.9 L412.8 445.1 L413.7 445.5 L414.7 444.8 L415.6 444.1 L416.6 448.5 L417.5 450.7 L418.5 441.1 L419.4 445.6 L420.4 448.7 L421.3 448.1 L422.3 447.8 L423.2 453.5 L424.2 450.0 L425.1 438.1 L426.1 451.2 L427.0 439.6 L428.0 438.7 L428.9 448.2 L429.9 442.1 L430.8 436.5 L431.8 448.9 L432.7 449.0 L433.7 450.2 L434.6 441.1 L435.6 451.9 L436.5 444.9 L437.5 452.1 L438.4 441.4 L439.4 442.3 L440.3 436.9 L441.3 442.1 L442.2 450.8 L443.2 447.0 L444.1 443.9 L445.1 454.6 L446.0 450.7 L447.0 455.1 L447.9 454.4 L448.9 453.2 L449.8 454.7 L450.8 456.1 L451.7 459.0 L452.7 456.0 L453.6 457.1 L454.6 447.3 L455.5 443.7 L456.5 454.3 L457.4 453.4 L458.4 454.5 L459.3 447.1 L460.3 452.1 L461.2 445.8 L462.2 451.1 L463.1 450.3 L464.1 450.1 L465.0 453.0 L466.0 449.8 L466.9 452.8 L467.9 456.8 L468.8 461.0 L469.8 456.0 L470.7 458.1 L471.7 457.2 L472.6 462.8 L473.6 465.2 L474.5 452.6 L475.5 459.4 L476.4 457.8 L477.4 464.2 L478.3 446.4 L479.3 453.7 L480.2 448.4 L481.2 463.0 L482.1 457.5 L483.1 459.1 L484.0 457.8 L485.0 457.1 L485.9 457.7 L486.9 453.7 L487.8 445.9 L488.8 457.0 L489.7 454.7 L490.7 451.8 L491.6 450.9 L492.6 459.2 L493.5 448.6 L494.5 446.3 L495.4 453.5 L496.4 456.6 L497.3 443.2 L498.3 444.7 L499.2 445.1 L500.2 453.2 L501.1 456.0 L502.1 462.4 L503.0 458.0 L504.0 459.2 L504.9 459.1 L505.9 467.8 L506.8 459.4 L507.8 457.3 L508.7 458.8 L509.7 458.3 L510.6 459.1 L511.6 453.5 L512.5 464.2 L513.5 465.0 L514.4 451.1 L515.4 457.7 L516.3 453.2 L517.3 457.5 L518.2 454.1 L519.2 459.5 L520.1 463.0 L521.1 463.4 L522.0 457.1 L523.0 454.8 L523.9 456.0 L524.9 470.7 L525.8 464.3 L526.8 465.5 L527.7 472.0 L528.7 460.7 L529.6 467.6 L530.6 462.8 L531.5 467.1 L532.5 457.6 L533.4 464.5 L534.4 465.8 L535.3 466.2 L536.3 458.6 L537.2 463.8 L538.2 468.9 L539.1 464.6 L540.1 469.7 L541.0 469.9 L542.0 469.5 L542.9 468.4 L543.9 472.4 L544.8 469.6 L545.8 478.4 L546.7 477.9 L547.7 482.4 L548.6 486.8 L549.6 480.4 L550.5 478.4 L551.5 475.8 L552.4 478.0 L553.4 479.6 L554.3 471.5 L555.3 466.8 L556.2 466.5 L557.2 477.4 L558.1 475.0 L559.1 474.8 L560.0 463.5 L561.0 467.2 L561.9 460.9 L562.9 461.2 L563.8 462.6 L564.8 461.6 L565.7 472.1 L566.7 459.7 L567.6 463.9 L568.6 464.8 L569.5 470.3 L570.5 475.1 L571.4 469.9 L572.4 467.6 L573.3 474.8 L574.3 479.9 L575.2 474.1 L576.2 484.1 L577.1 475.2 L578.1 476.6 L579.0 476.5 L580.0 485.9 L580.9 479.3 L581.9 476.0 L582.8 469.2 L583.8 468.9 L584.7 472.1 L585.7 484.4 L586.6 485.3 L587.6 482.0 L588.5 479.6 L589.5 475.5 L590.4 481.4 L591.4 485.4 L592.3 484.7 L593.3 483.0 L594.2 477.2 L595.2 481.8 L596.1 478.2 L597.1 482.7 L598.0 480.1 L599.0 483.2 L599.9 482.5 L600.9 480.5 L601.8 489.7 L602.8 481.1 L603.7 489.4 L604.7 484.0 L605.6 482.9 L606.6 483.6 L607.5 477.7 L608.5 473.4 L609.4 472.4 L610.4 471.0 L611.3 476.4 L612.3 478.5 L613.2 478.0 L614.2 472.8 L615.1 481.6 L616.1 486.3 L617.0 477.8 L618.0 479.3 L618.9 487.5 L619.9 482.7 L620.8 488.3 L621.8 482.1 L622.7 477.4 L623.7 483.8 L624.6 483.8 L625.6 485.3 L626.5 479.8 L627.5 481.0 L628.4 491.6 L629.4 479.9 L630.3 489.5 L631.3 478.0 L632.2 484.7 L633.2 486.2 L634.1 489.2 L635.1 486.1 L636.0 483.8 L637.0 487.7 L637.9 481.3 L638.9 478.8 L639.8 481.9 L640.8 495.6 L641.7 492.0 L642.7 495.8 L643.6 489.0 L644.6 479.4 L645.5 480.5 L646.5 485.3 L647.4 479.7 L648.4 478.9 L649.3 478.3 L650.3 480.1 L651.2 475.9 L652.2 487.1 L653.1 483.2 L654.1 493.0 L655.0 495.8 L656.0 489.2 L656.9 494.9 L657.9 495.9 L658.8 492.6 L659.8 491.4 L660.7 498.0 L661.7 495.4 L662.6 491.8 L663.6 490.4 L664.5 492.6 L665.5 496.8 L666.4 496.0 L667.4 490.9 L668.3 493.2 L669.3 494.8 L670.2 492.2 L671.2 493.0 L672.1 488.2 L673.1 488.0 L674.0 492.1 L675.0 491.8 L675.9 490.1 L676.9 501.7 L677.8 492.9 L678.8 497.7 L679.7 496.4 L680.7 493.2 L681.6 497.7 L682.6 498.6 L683.5 492.9 L684.5 494.1 L685.4 500.4 L686.4 486.9 L687.3 489.5 L688.3 492.9 L689.2 490.8 L690.2 487.7 L691.1 489.6 L692.1 491.1 L693.0 491.1 L694.0 492.4 L694.9 498.5 L695.9 492.0 L696.8 488.6 L697.8 492.0 L698.7 490.9 L699.7 483.1 L700.6 485.0 L701.6 483.4 L702.5 490.3 L703.5 493.7 L704.4 490.4 L705.4 497.6 L706.3 490.8 L707.3 492.5 L708.2 493.9 L709.2 495.0 L710.1 501.1 L711.1 489.4 L712.0 496.3 L713.0 494.5 L713.9 499.7 L714.9 490.4 L715.8 492.7 L716.8 506.6 L717.7 506.6 L718.7 507.5 L719.6 503.5 L720.6 508.7 L721.5 504.0 L722.5 498.4 L723.4 501.0 L724.4 499.1 L725.3 494.6 L726.3 495.3 L727.2 493.7 L728.2 497.6 L729.1 498.4 L730.1 498.1 L731.0 497.4 L732.0 488.4 L732.9 495.6 L733.9 497.7 L734.8 497.4 L735.8 493.3 L736.7 489.5 L737.7 500.5 L738.6 497.4 L739.6 505.2 L740.5 495.9 L741.5 504.4 L742.4 500.2 L743.4 496.2 L744.3 499.3 L745.3 500.0 L746.2 503.6 L747.2 502.8 L748.1 503.8 L749.1 500.6 L750.0 494.1 L751.0 492.5 L751.9 493.3 L752.9 489.8 L753.8 483.5 L754.8 481.2 L755.7 492.4 L756.7 489.7 L757.6 497.2 L758.6 487.3 L759.5 494.1 L760.5 491.2 L761.4 493.6 L762.4 493.1 L763.3 498.6 L764.3 497.4 L765.2 494.4 L766.2 496.7 L767.1 496.5 L768.1 497.7 L769.0 497.7 L770.0 494.2 L770.9 492.6 L771.9 494.1 L772.8 486.4 L773.8 495.0 L774.7 495.0 L775.7 484.8 L776.6 489.4 L777.6 493.7 L778.5 484.5 L779.5 494.8 L780.4 496.5 L781.4 494.1 L782.3 495.8 L783.3 491.4 L784.2 495.1 L785.2 494.4 L786.1 490.9 L787.1 491.6 L788.0 484.4 L789.0 485.6 L789.9 495.0 L790.9 495.0 L791.8 487.5 L792.8 484.5 L793.7 482.4 L794.7 494.4 L795.6 490.4 L796.6 495.8 L797.5 492.3 L798.5 494.6 L799.4 489.4 L800.4 483.7 L801.3 484.7 L802.3 490.8 L803.2 481.2 L804.2 489.6 L805.1 486.1 L806.1 493.1 L807.0 485.8 L808.0 484.9 L808.9 491.2 L809.9 478.1 L810.8 490.3 L811.8 486.6 L812.7 482.4 L813.7 487.0 L814.6 482.1 L815.6 486.3 L816.5 483.8 L817.5 485.9 L818.4 478.3 L819.4 478.3 L820.3 486.9 L821.3 479.5 L822.2 476.5 L823.2 473.0 L824.1 474.4 L825.1 477.8 L826.0 473.1 L827.0 479.0 L827.9 479.5 L828.9 474.2 L829.8 483.0 L830.8 488.4 L831.7 481.8 L832.7 482.0 L833.6 482.6 L834.6 477.8 L835.5 471.9 L836.5 477.5 L837.4 474.6 L838.4 472.9 L839.3 480.0 L840.3 474.0 L841.2 469.6 L842.2 468.8 L843.1 476.9 L844.1 473.3 L845.0 463.2 L846.0 472.9 L846.9 469.2 L847.9 469.5 L848.8 476.4 L849.8 474.7 L850.7 467.9 L851.7 469.9 L852.6 470.9 L853.6 466.3 L854.5 466.8 L855.5 461.5 L856.4 468.8 L857.4 469.7 L858.3 462.5 L859.3 461.0 L860.2 466.4 L861.2 473.0 L862.1 471.6 L863.1 471.0 L864.0 471.8 L865.0 464.8 L865.9 469.5 L866.9 468.5 L867.8 465.8 L868.8 470.8 L869.7 464.8 L870.7 464.4 L871.6 468.9 L872.6 467.8 L873.5 464.6 L874.5 464.1 L875.4 463.4 L876.4 461.9 L877.3 455.8 L878.3 461.9 L879.2 465.9 L880.2 459.5 L881.1 457.1 L882.1 462.8 L883.0 461.0 L884.0 456.0 L884.9 458.7 L885.9 457.0 L886.8 463.3 L887.8 454.6 L888.7 464.6 L889.7 457.5 L890.6 461.4 L891.6 458.7 L892.5 461.8 L893.5 464.6 L894.4 462.1 L895.4 454.4 L896.3 457.0 L897.3 457.1 L898.2 462.3 L899.2 451.9 L900.1 451.5 L901.1 449.8 L902.0 452.9 L903.0 456.5 L903.9 451.6 L904.9 461.9 L905.8 462.5 L906.8 461.6 L907.7 461.3 L908.7 467.4 L909.6 455.3 L910.6 457.1 L911.5 467.1 L912.5 453.9 L913.4 458.9 L914.4 456.1 L915.3 452.1 L916.3 451.2 L917.2 453.6 L918.2 455.6 L919.1 457.1 L920.1 458.7 L921.0 458.0 L922.0 459.1 L922.9 462.0 L923.9 457.7 L924.8 454.8 L925.8 462.0 L926.7 450.0 L927.7 458.6 L928.6 460.0 L929.6 449.5 L930.5 445.3 L931.5 449.7 L932.4 453.8 L933.4 449.0 L934.3 456.4 L935.3 455.1 L936.2 449.1 L937.2 455.8 L938.1 447.9 L939.1 452.1 L940.0 455.3 L941.0 460.1 L941.9 458.7 L942.9 461.7 L943.8 450.6 L944.8 463.5 L945.7 451.3 L946.7 454.5 L947.6 458.1 L948.6 453.3 L949.5 455.3 L950.5 446.3 L951.4 447.1 L952.4 450.5 L953.3 451.3 L954.3 455.1 L955.2 454.7 L956.2 452.6 L957.1 458.5 L958.1 453.0 L959.0 455.8 L960.0 459.4 L960.9 454.5 L961.9 457.3 L962.8 459.3 L963.8 462.2 L964.7 461.5 L965.7 461.1 L966.6 460.8 L967.6 455.9 L968.5 458.9 L969.5 460.1 L970.4 462.3 L971.4 464.2 L972.3 461.2 L973.3 462.6 L974.2 467.8 L975.2 461.6 L976.1 455.9 L977.1 462.0 L978.0 462.6 L979.0 462.0 L979.9 471.2 L980.9 466.6 L981.8 469.2 L982.8 460.4 L983.7 465.2 L984.7 463.3 L985.6 462.4 L986.6 460.3 L987.5 465.1 L988.5 458.6 L989.4 470.7 L990.4 476.8 L991.3 476.0 L992.3 464.7 L993.2 474.2 L994.2 471.5 L995.1 472.3 L996.1 473.5 L997.0 478.4 L998.0 476.5 L998.9 470.5 L999.9 475.2 L1000.8 473.5 L1001.8 479.9 L1002.7 467.1 L1003.7 471.8 L1004.6 468.8 L1005.6 472.2 L1006.5 465.4 L1007.5 469.6 L1008.4 472.8 L1009.4 471.3 L1010.3 470.6 L1011.3 473.8 L1012.2 472.8 L1013.2 472.3 L1014.1 475.7 L1015.1 477.7 L1016.0 479.6 L1017.0 472.9 L1017.9 477.9 L1018.9 483.5 L1019.8 474.0 L1020.8 479.2 L1021.7 476.6 L1022.7 481.7 L1023.6 481.6 L1024.6 477.6 L1025.5 474.3 L1026.5 470.0 L1027.4 473.4 L1028.4 472.5 L1029.3 476.2 L1030.3 482.6 L1031.2 485.4 L1032.2 481.5 L1033.1 482.7 L1034.1 483.5 L1035.0 486.4 L1036.0 485.8 L1036.9 493.3 L1037.9 484.9 L1038.8 487.8 L1039.8 484.8 L1040.7 489.5 L1041.7 491.8 L1042.6 487.3 L1043.6 485.5 L1044.5 485.0 L1045.5 487.2 L1046.4 484.2 L1047.4 492.2 L1048.3 493.3 L1049.3 491.5 L1050.2 491.5 L1051.2 487.8 L1052.1 495.8 L1053.1 484.8 L1054.0 486.9 L1055.0 496.4 L1055.9 487.7 L1056.9 486.6 L1057.8 484.4 L1058.8 494.4 L1059.7 495.5 L1060.7 492.4 L1061.6 485.8 L1062.6 490.3 L1063.5 487.1 L1064.5 492.0 L1065.4 493.5 L1066.4 489.9 L1067.3 490.2 L1068.3 494.6 L1069.2 495.7 L1070.2 486.5 L1071.1 492.2 L1072.1 486.6 L1073.0 487.5 L1074.0 493.3 L1074.9 485.0 L1075.9 487.8 L1076.8 492.4 L1077.8 490.0 L1078.7 483.5 L1079.7 489.4 L1080.6 490.0 L1081.6 488.8 L1082.5 499.9 L1083.5 494.2 L1084.4 494.9 L1085.4 498.3 L1086.3 494.9 L1087.3 488.9 L1088.2 492.0 L1089.2 491.9 L1090.1 489.7 L1091.1 491.7 L1092.0 490.5 L1093.0 489.0 L1093.9 486.8 L1094.9 487.8 L1095.8 494.6 L1096.8 483.4 L1097.7 493.4 L1098.7 492.0 L1099.6 489.2 L1100.6 492.4 L1101.5 495.3 L1102.5 489.2 L1103.4 494.7 L1104.4 496.1 L1105.3 491.3 L1106.3 494.7 L1107.2 499.1 L1108.2 495.6 L1109.1 492.7 L1110.1 490.7 L1111.0 490.3 L1112.0 499.1 L1112.9 494.6 L1113.9 494.0 L1114.8 492.4 L1115.8 489.4 L1116.7 496.5 L1117.7 492.1 L1118.6 494.2 L1119.6 485.3 L1120.5 491.4 L1121.5 492.1 L1122.4 487.0 L1123.4 488.9 L1124.3 490.3 L1125.3 497.6 L1126.2 496.2 L1127.2 494.2 L1128.1 499.5 L1129.1 495.3 L1130.0 497.6 L1131.0 496.2 L1131.9 492.6 L1132.9 497.3 L1133.8 493.5 L1134.8 485.2 L1135.7 491.5 L1136.7 496.7 L1137.6 484.4 L1138.6 494.3 L1139.5 491.8 L1140.5 486.9 L1141.4 490.6 L1142.4 487.0 L1143.3 485.8 L1144.3 492.0 L1145.2 491.6 L1146.2 484.9 L1147.1 488.8 L1148.1 490.5 L1149.0 485.5 L1150.0 494.3 L1150.9 489.0 L1151.9 493.1 L1152.8 494.3 L1153.8 489.5 L1154.7 493.5 L1155.7 492.6 L1156.6 493.2 L1157.6 490.1 L1158.5 493.9 L1159.5 492.4 L1160.4 494.1 L1161.4 491.7 L1162.3 483.1 L1163.3 484.7 L1164.2 487.1 L1165.2 488.3 L1166.1 482.7 L1167.1 484.8 L1168.0 486.0 L1169.0 485.2 L1169.9 489.4 L1170.9 484.1 L1171.8 489.7 L1172.8 486.2 L1173.7 490.3 L1174.7 485.8 L1175.6 487.2 L1176.6 490.1 L1177.5 483.3 L1178.5 485.8 L1179.4 487.1 L1180.4 484.7 L1181.3 484.4 L1182.3 485.5 L1183.2 482.8 L1184.2 487.7 L1185.1 487.1 L1186.1 489.5 L1187.0 484.0 L1188.0 485.6 L1188.9 479.8 L1189.9 482.3 L1190.8 477.7 L1191.8 481.3 L1192.7 479.9 L1193.7 484.4 L1194.6 475.6 L1195.6 481.8 L1196.5 481.6 L1197.5 484.6 L1198.4 480.2 L1199.4 480.8 L1200.3 485.6 L1201.3 479.5 L1202.2 480.1 L1203.2 484.8 L1204.1 475.2 L1205.1 483.2 L1206.0 483.4 L1207.0 483.4 L1207.9 477.3 L1208.9 478.4 L1209.8 480.1 L1210.8 479.9 L1211.7 484.6 L1212.7 481.3 L1213.6 487.0 L1214.6 482.5 L1215.5 484.2 L1216.5 479.9 L1217.4 479.3 L1218.4 481.6 L1219.3 482.1 L1220.3 476.8 L1221.2 482.2 L1222.2 477.5 L1223.1 483.0 L1224.1 474.8 L1225.0 477.6 L1226.0 480.7 L1226.9 478.6 L1227.9 477.2 L1228.8 481.2 L1229.8 482.6 L1230.7 479.3 L1231.7 483.5 L1232.6 480.6 L1233.6 480.0 L1234.5 486.3 L1235.5 480.5 L1236.4 480.0 L1237.4 482.7 L1238.3 476.1 L1239.3 474.6 L1240.2 475.1 L1241.2 474.7 L1242.1 476.1 L1243.1 472.2 L1244.0 470.9 L1245.0 469.7 L1245.9 473.8 L1246.9 474.8 L1247.8 480.9 L1248.8 474.2 L1249.7 474.6 L1250.7 474.9 L1251.6 480.0 L1252.6 482.0 L1253.5 485.4 L1254.5 475.9 L1255.4 481.2 L1256.4 479.1 L1257.3 486.0 L1258.3 482.6 L1259.2 486.3 L1260.2 481.9 L1261.1 485.4 L1262.1 483.6 L1263.0 481.1 L1264.0 486.2 L1264.9 483.2 L1265.9 478.2 L1266.8 485.0 L1267.8 482.1 L1268.7 487.3 L1269.7 490.0 L1270.6 485.7 L1271.6 485.4 L1272.5 479.1 L1273.5 479.3 L1274.4 479.0 L1275.4 486.0 L1276.3 479.1 L1277.3 481.5 L1278.2 476.0 L1279.2 480.4 L1280.1 482.7 L1281.1 482.2 L1282.0 481.8 L1283.0 483.8 L1283.9 484.0 L1284.9 479.2 L1285.8 479.1 L1286.8 484.9 L1287.7 485.9 L1288.7 479.9 L1289.6 485.9 L1290.6 480.1 L1291.5 483.7 L1292.5 488.0 L1293.4 479.6 L1294.4 484.1 L1295.3 483.2 L1296.3 480.1 L1297.2 485.0 L1298.2 479.6 L1299.1 480.2 L1300.1 479.0 L1301.0 483.7 L1302.0 484.6 L1302.9 487.5 L1303.9 483.5 L1304.8 482.2 L1305.8 489.0 L1306.7 483.0 L1307.7 486.7 L1308.6 489.4 L1309.6 487.2 L1310.5 480.0 L1311.5 482.7 L1312.4 484.1 L1313.4 489.4 L1314.3 485.5 L1315.3 490.5 L1316.2 489.4 L1317.2 489.6 L1318.1 489.2 L1319.1 487.1 L1320.0 493.0 L1321.0 489.4 L1321.9 493.4 L1322.9 486.9 L1323.8 485.3 L1324.8 494.8 L1325.7 488.4 L1326.7 492.7 L1327.6 491.7 L1328.6 492.4 L1329.5 491.6 L1330.5 489.0 L1331.4 488.2 L1332.4 492.0 L1333.3 489.6 L1334.3 497.0 L1335.2 493.2 L1336.2 497.9 L1337.1 493.3 L1338.1 497.3 L1339.0 493.4 L1340.0 492.1 L1340.9 493.8 L1341.9 493.7 L1342.8 500.6 L1343.8 491.0 L1344.7 493.5 L1345.7 497.8 L1346.6 495.7 L1347.6 496.6 L1348.5 498.1 L1349.5 495.3 L1350.4 493.5 L1351.4 491.7 L1352.3 495.5 L1353.3 497.6 L1354.2 497.0 L1355.2 499.8 L1356.1 495.5 L1357.1 497.4 L1358.0 494.4 L1359.0 491.8 L1359.9 499.4 L1360.9 497.7 L1361.8 502.2 L1362.8 500.5 L1363.7 499.7 L1364.7 503.1 L1365.6 506.2 L1366.6 506.2 L1367.5 508.0 L1368.5 510.4 L1369.4 508.7 L1370.4 509.6 L1371.3 507.5 L1372.3 505.9 L1373.2 505.1 L1374.2 502.1 L1375.1 510.1 L1376.1 511.8 L1377.0 506.2 L1378.0 506.3 L1378.9 506.5 L1379.9 509.9 L1380.8 509.6 L1381.8 509.3 L1382.7 510.8 L1383.7 507.7 L1384.6 513.2 L1385.6 514.2 L1386.5 517.1 L1387.5 514.7 L1388.4 515.8 L1389.4 518.1 L1390.3 523.8 L1391.3 516.1 L1392.2 523.1 L1393.2 515.1 L1394.1 517.8 L1395.1 515.4 L1396.0 522.1 L1397.0 519.6 L1397.9 521.0 L1398.9 524.6 L1399.8 526.8 L1400.8 522.9 L1401.7 526.7 L1402.7 525.9 L1403.6 531.5 L1404.6 523.9 L1405.5 536.6 L1406.5 531.6 L1407.4 528.3 L1408.4 536.2 L1409.3 534.8 L1410.3 538.4 L1411.2 539.6 L1412.2 542.8 L1413.1 535.5 L1414.1 541.5 L1415.0 543.6 L1416.0 537.3 L1416.9 543.1 L1417.9 544.0 L1418.8 541.4 L1419.8 538.9 L1420.7 545.8 L1421.7 545.5 L1422.6 552.2 L1423.6 548.6 L1424.5 551.9 L1425.5 551.4 L1426.4 551.0 L1427.4 547.1 L1428.3 548.2 L1429.3 550.3 L1430.2 549.8 L1431.2 549.9 L1432.1 552.7 L1433.1 551.4 L1434.0 554.0 L1435.0 553.2 L1435.9 554.9 L1436.9 553.4 L1437.8 551.6 L1438.8 558.2 L1439.7 558.3 L1440.7 557.6 L1441.6 553.5 L1442.6 558.2 L1443.5 555.7 L1444.5 556.3 L1445.4 555.0 L1446.4 556.5 L1447.3 557.3 L1448.3 561.1 L1449.2 559.4 L1450.2 562.0 L1451.1 561.4 L1452.1 560.2 L1453.0 564.1 L1454.0 564.7 L1454.9 564.9 L1455.9 559.3 L1456.8 567.9 L1457.8 565.6 L1458.7 563.6 L1459.7 571.4 L1460.6 567.2 L1461.6 569.5 L1462.5 568.4 L1463.5 562.8 L1464.4 571.8 L1465.4 566.1 L1466.3 572.1 L1467.3 569.4 L1468.2 568.1 L1469.2 565.1 L1470.1 569.9 L1471.1 568.7 L1472.0 571.4 L1473.0 568.6 L1473.9 573.3 L1474.9 570.6 L1475.8 571.6 L1476.8 578.8 L1477.7 577.1 L1478.7 574.9 L1479.6 578.8 L1480.6 575.0 L1481.5 578.1 L1482.5 580.2 L1483.4 579.1 L1484.4 578.5 L1485.3 582.5 L1486.3 579.1 L1487.2 578.3 L1488.2 578.5 L1489.1 578.3 L1490.1 581.9 L1491.0 581.0 L1492.0 577.1 L1492.9 584.8 L1493.9 585.0 L1494.8 582.5 L1495.8 581.5 L1496.7 584.7 L1497.7 584.0 L1498.6 587.6 L1499.6 587.2 L1500.5 591.6 L1501.5 585.7 L1502.4 589.4 L1503.4 592.7 L1504.3 591.7 L1505.3 592.6 L1506.2 591.3 L1507.2 599.1 L1508.1 594.1 L1509.1 596.3 L1510.0 592.7 L1511.0 593.5 L1511.9 594.6 L1512.9 599.1 L1513.8 598.8 L1514.8 601.0 L1515.7 600.3 L1516.7 600.9 L1517.6 597.5 L1518.6 597.0 L1519.5 602.5 L1520.5 598.4 L1521.4 602.2 L1522.4 600.4 L1523.3 600.3 L1524.3 603.7 L1525.2 601.9 L1526.2 603.4 L1527.1 606.0 L1528.1 602.9 L1529.0 605.3 L1530.0 601.6 L1530.9 603.6 L1531.9 600.9 L1532.8 607.0 L1533.8 599.7 L1534.7 605.8 L1535.7 606.8 L1536.6 600.5 L1537.6 602.0 L1538.5 602.2 L1539.5 605.5 L1540.4 604.8 L1541.4 604.3 L1542.3 606.0 L1543.3 609.4 L1544.2 601.2 L1545.2 604.3 L1546.1 603.8 L1547.1 606.9 L1548.0 600.5 L1549.0 603.1 L1549.9 606.0 L1550.9 607.5 L1551.8 612.0 L1552.8 611.3 L1553.7 608.3 L1554.7 611.5 L1555.6 609.4 L1556.6 611.1 L1557.5 612.2 L1558.5 610.7 L1559.4 615.4 L1560.4 618.0 L1561.3 614.2 L1562.3 609.9 L1563.2 617.0 L1564.2 618.7 L1565.1 613.2 L1566.1 614.1 L1567.0 615.1 L1568.0 612.4 L1568.9 614.5 L1569.9 612.8 L1570.8 610.5 L1571.8 611.6 L1572.7 613.3 L1573.7 613.7 L1574.6 619.4 L1575.6 618.1 L1576.5 617.3 L1577.5 619.6 L1578.4 617.5 L1579.4 619.1 L1580.3 620.0 L1581.3 616.5 L1582.2 614.9 L1583.2 614.2 L1584.1 621.8 L1585.1 619.8 L1586.0 618.8 L1587.0 621.1 L1587.9 619.7 L1588.9 626.0 L1589.8 624.1 L1590.8 622.9 L1591.7 620.5 L1592.7 628.7 L1593.6 624.4 L1594.6 619.3 L1595.5 623.1 L1596.5 624.3 L1597.4 624.6 L1598.4 621.6 L1599.3 626.5 L1600.3 625.3 L1601.2 624.3 L1602.2 623.2 L1603.1 621.2 L1604.1 624.7 L1605.0 625.7 L1606.0 623.9 L1606.9 627.5 L1607.9 628.9 L1608.8 626.4 L1609.8 627.0 L1610.7 628.3 L1611.7 632.5 L1612.6 632.5 L1613.6 626.1 L1614.5 629.2 L1615.5 635.7 L1616.4 630.2 L1617.4 634.9 L1618.3 632.1 L1619.3 633.4 L1620.2 629.4 L1621.2 629.7 L1622.1 630.2 L1623.1 628.7 L1624.0 628.5 L1625.0 631.9 L1625.9 628.8 L1626.9 632.4 L1627.8 628.7 L1628.8 629.7 L1629.7 632.3 L1630.7 632.1 L1631.6 633.4 L1632.6 631.7 L1633.5 632.1 L1634.5 631.7 L1635.4 630.1 L1636.4 633.4 L1637.3 637.2 L1638.3 635.3 L1639.2 636.1 L1640.2 638.2 L1641.1 633.3 L1642.1 635.6 L1643.0 633.4 L1644.0 636.8 L1644.9 631.3 L1645.9 633.8 L1646.8 633.6 L1647.8 634.0 L1648.7 633.6 L1649.7 638.9 L1650.6 634.6 L1651.6 635.0 L1652.5 632.6 L1653.5 633.2 L1654.4 634.8 L1655.4 634.2 L1656.3 638.2 L1657.3 636.1 L1658.2 636.4 L1659.2 636.9 L1660.1 634.9 L1661.1 633.6 L1662.0 634.3 L1663.0 635.7 L1663.9 635.0 L1664.9 633.7 L1665.8 639.2 L1666.8 637.3 L1667.7 638.5 L1668.7 640.7 L1669.6 635.8 L1670.6 639.7 L1671.5 638.1 L1672.5 638.1 L1673.4 634.4 L1674.4 636.2 L1675.3 638.5 L1676.3 639.2 L1677.2 643.5 L1678.2 640.5 L1679.1 642.7 L1680.1 642.3 L1681.0 640.8 L1682.0 643.1 L1682.9 644.1 L1683.9 647.5 L1684.8 646.5 L1685.8 642.8 L1686.7 641.9 L1687.7 643.5 L1688.6 642.0 L1689.6 647.4 L1690.5 643.9 L1691.5 641.4 L1692.4 639.9 L1693.4 638.4 L1694.3 640.2 L1695.3 636.0 L1696.2 640.4 L1697.2 641.2 L1698.1 646.5 L1699.1 641.3 L1700.0 648.0 L1701.0 646.7 L1701.9 649.9 L1702.9 647.5 L1703.8 650.2 L1704.8 651.3 L1705.7 654.5 L1706.7 648.5 L1707.6 649.9 L1708.6 650.1 L1709.5 649.1 L1710.5 650.2 L1711.4 650.6 L1712.4 650.2 L1713.3 647.9 L1714.3 652.3 L1715.2 649.6 L1716.2 653.0 L1717.1 655.9 L1718.1 652.0 L1719.0 654.7 L1720.0 655.5 L1720.9 655.0 L1721.9 653.9 L1722.8 654.3 L1723.8 655.0 L1724.7 651.2 L1725.7 652.4 L1726.6 653.8 L1727.6 651.1 L1728.5 650.0 L1729.5 654.0 L1730.4 654.1 L1731.4 654.8 L1732.3 653.0 L1733.3 651.5 L1734.2 655.3 L1735.2 654.3 L1736.1 652.9 L1737.1 650.0 L1738.0 650.9 L1739.0 649.0 L1739.9 648.9 L1740.9 651.5 L1741.8 652.5 L1742.8 653.6 L1743.7 653.2 L1744.7 657.4 L1745.6 651.9 L1746.6 656.4 L1747.5 653.2 L1748.5 655.7 L1749.4 652.1 L1750.4 658.0 L1751.3 656.6 L1752.3 651.0 L1753.2 656.6 L1754.2 654.5 L1755.1 656.0 L1756.1 654.3 L1757.0 654.0 L1758.0 651.4 L1758.9 652.9 L1759.9 653.5 L1760.8 650.3 L1761.8 651.6 L1762.7 653.8 L1763.7 655.0 L1764.6 653.9 L1765.6 658.0 L1766.5 655.1 L1767.5 657.7 L1768.4 659.4 L1769.4 655.6 L1770.3 659.2 L1771.3 656.7 L1772.2 655.2 L1773.2 659.6 L1774.1 659.4 L1775.1 655.5 L1776.0 657.7 L1777.0 657.1 L1777.9 654.7 L1778.9 658.2 L1779.8 653.4 L1780.8 652.0 L1781.7 652.9 L1782.7 652.5 L1783.6 651.9 L1784.6 652.2 L1785.5 650.4 L1786.5 654.0 L1787.4 650.5 L1788.4 655.2 L1789.3 654.7 L1790.3 653.0 L1791.2 653.4 L1792.2 653.1 L1793.1 654.4 L1794.1 657.5 L1795.0 654.8 L1796.0 653.2 L1796.9 657.0 L1797.9 653.2 L1798.8 653.6 L1799.8 658.6 L1800.7 656.5 L1801.7 658.1 L1802.6 657.6 L1803.6 657.9 L1804.5 658.5 L1805.5 658.9 L1806.4 661.7 L1807.4 655.9 L1808.3 654.1 L1809.3 658.0 L1810.2 656.0 L1811.2 659.1 L1812.1 656.9 L1813.1 659.3 L1814.0 661.4 L1815.0 658.8 L1815.9 658.7 L1816.9 661.7 L1817.8 659.2 L1818.8 660.5 L1819.7 660.5 L1820.7 658.5 L1821.6 662.3 L1822.6 658.5 L1823.5 661.6 L1824.5 660.4 L1825.4 657.5 L1826.4 658.7 L1827.3 660.8 L1828.3 659.0 L1829.2 663.7 L1830.2 658.5 L1831.1 662.7 L1832.1 658.0 L1833.0 660.7 L1834.0 663.0 L1834.9 658.1 L1835.9 662.1 L1836.8 659.8 L1837.8 659.5 L1838.7 660.6 L1839.7 660.9 L1840.6 660.9 L1841.6 660.6 L1842.5 660.0 L1843.5 657.4 L1844.4 663.4 L1845.4 664.5 L1846.3 661.5 L1847.3 660.1 L1848.2 658.9 L1849.2 661.2 L1850.1 661.4 L1851.1 659.5 L1852.0 660.8 L1853.0 662.2 L1853.9 661.2 L1854.9 660.3 L1855.8 660.1 L1856.8 658.2 L1857.7 658.9 L1858.7 658.8 L1859.6 657.2 L1860.6 658.4 L1861.5 660.3 L1862.5 660.8 L1863.4 655.8 L1864.4 657.3 L1865.3 661.7 L1866.3 661.0 L1867.2 661.2 L1868.2 658.3 L1869.1 660.9 L1870.1 661.8 L1871.0 661.7 L1872.0 659.8 L1872.9 660.0 L1873.9 661.4 L1874.8 661.1 L1875.8 663.0 L1876.7 657.2 L1877.7 660.3 L1878.6 663.6 L1879.6 660.0 L1880.5 662.4 L1881.5 664.9 L1882.4 661.0 L1883.4 663.2 L1884.3 665.8 L1885.3 660.3 L1886.2 658.7 L1887.2 663.3 L1888.1 660.4 L1889.1 660.9 L1890.0 661.0 L1891.0 662.9 L1891.9 660.5 L1892.9 662.7 L1893.8 662.3 L1894.8 660.9 L1895.7 662.3 L1896.7 660.7 L1897.6 659.6 L1898.6 662.9 L1899.5 655.7 L1900.5 656.9 L1901.4 657.2 L1902.4 658.5 L1903.3 660.0 L1904.3 660.0 L1905.2 664.6 L1906.2 660.8 L1907.1 660.2 L1908.1 662.2 L1909.0 661.3 L1910.0 661.0 L1910.9 662.8 L1911.9 661.4 L1912.8 662.2 L1913.8 658.4 L1914.7 660.8 L1915.7 659.6 L1916.6 658.4 L1917.6 656.6 L1918.5 658.6 L1919.5 656.5 L1920.4 659.0 L1921.4 658.3 L1922.3 658.4 L1923.3 661.4 L1924.2 660.4 L1925.2 655.9 L1926.1 660.8 L1927.1 660.9 L1928.0 661.5 L1929.0 660.8 L1929.9 663.2 L1930.9 658.3 L1931.8 659.6 L1932.8 662.3 L1933.7 661.2 L1934.7 661.9 L1935.6 659.5 L1936.6 659.0 L1937.5 660.9 L1938.5 659.8 L1939.4 656.8 L1940.4 660.8 L1941.3 657.4 L1942.3 660.0 L1943.2 658.5 L1944.2 658.7 L1945.1 659.2 L1946.1 656.1 L1947.0 658.9 L1948.0 658.2 L1948.9 658.4 L1949.9 659.2 L1950.8 658.7 L1951.8 659.7 L1952.7 659.8 L1953.7 658.1 L1954.6 660.1 L1955.6 658.0 L1956.5 655.7"/>
</g>
<path d="M888.6 357.5 V1376.5" stroke="#4f4f4f" stroke-width="14.2" stroke-dasharray="62 57.5" fill="none"/>
<path d="M1123.0 360.2 V1376.5" stroke="#e8141c" stroke-width="13.6" stroke-dasharray="62 57.5" fill="none"/>
<path d="M1300.2 355.1 V1376.5" stroke="#1f7ab6" stroke-width="12.2" stroke-dasharray="62 57.5" fill="none"/>
<g font-family="'Liberation Sans', Arial, sans-serif" fill="#0c0c0c">
<text transform="translate(351.0 1457.8) scale(0.955 1)" font-size="70" text-anchor="middle">26</text>
<text transform="translate(540.0 1457.8) scale(0.955 1)" font-size="70" text-anchor="middle">28</text>
<text transform="translate(729.0 1457.8) scale(0.955 1)" font-size="70" text-anchor="middle">30</text>
<text transform="translate(918.0 1457.8) scale(0.955 1)" font-size="70" text-anchor="middle">32</text>
<text transform="translate(1107.0 1457.8) scale(0.955 1)" font-size="70" text-anchor="middle">34</text>
<text transform="translate(1296.0 1457.8) scale(0.955 1)" font-size="70" text-anchor="middle">36</text>
<text transform="translate(1485.0 1457.8) scale(0.955 1)" font-size="70" text-anchor="middle">38</text>
<text transform="translate(1674.0 1457.8) scale(0.955 1)" font-size="70" text-anchor="middle">40</text>
<text transform="translate(1863.0 1457.8) scale(0.955 1)" font-size="70" text-anchor="middle">42</text>
<text transform="translate(322.0 1253.4) scale(0.955 1)" font-size="70" text-anchor="end">200</text>
<text transform="translate(322.0 1062.3) scale(0.955 1)" font-size="70" text-anchor="end">400</text>
<text transform="translate(322.0 871.2) scale(0.955 1)" font-size="70" text-anchor="end">600</text>
<text transform="translate(322.0 680.1) scale(0.955 1)" font-size="70" text-anchor="end">800</text>
<text transform="translate(322.0 489.0) scale(0.955 1)" font-size="70" text-anchor="end">1000</text>
<text transform="translate(322.0 297.9) scale(0.955 1)" font-size="70" text-anchor="end">1200</text>
<text transform="translate(322.0 106.8) scale(0.955 1)" font-size="70" text-anchor="end">1400</text>
<text transform="translate(1154.4 1585.5) scale(1.043 1)" font-size="78" text-anchor="middle">2<tspan font-family="'Liberation Serif', serif">θ</tspan> (degrees)</text>
<text transform="translate(96.5 680.0) rotate(-90) scale(1.019 1)" font-size="78" text-anchor="middle">Intensity (a.u.)</text>
</g>
<g font-family="'Liberation Sans', Arial, sans-serif">
<text transform="translate(880.7 319.0) scale(1.033 1)" font-size="78" text-anchor="middle" fill="#404040">(100)</text>
<text transform="translate(1121.3 319.0) scale(1.033 1)" font-size="78" text-anchor="middle" fill="#e8141c">(002)</text>
<text transform="translate(1313.8 319.0) scale(1.033 1)" font-size="78" text-anchor="middle" fill="#1f7ab6">(101)</text>
</g>
<g font-family="'Liberation Sans', Arial, sans-serif">
<path d="M1539 142.5 H1662" stroke="#1776b0" stroke-width="16.3" stroke-linecap="round" fill="none"/>
<text transform="translate(1676.5 160.6) scale(0.970 1)" font-size="56.5" text-anchor="start" fill="#1776b0">DIPL-1000</text>
<path d="M1539 203.9 H1662" stroke="#4ea4e0" stroke-width="16.3" stroke-linecap="round" fill="none"/>
<text transform="translate(1676.5 222.0) scale(0.970 1)" font-size="56.5" text-anchor="start" fill="#4ea4e0">DIPL-100</text>
<path d="M1539 265.4 H1662" stroke="#8cc4ee" stroke-width="16.3" stroke-linecap="round" fill="none"/>
<text transform="translate(1676.5 283.5) scale(0.970 1)" font-size="56.5" text-anchor="start" fill="#8cc4ee">DIPL-10</text>
<path d="M1539 326.9 H1662" stroke="#6f3608" stroke-width="16.3" stroke-linecap="round" fill="none"/>
<text transform="translate(1676.5 345.0) scale(0.970 1)" font-size="56.5" text-anchor="start" fill="#6f3608">ALD-70</text>
<path d="M1539 388.3 H1662" stroke="#a84f06" stroke-width="16.3" stroke-linecap="round" fill="none"/>
<text transform="translate(1676.5 406.4) scale(0.970 1)" font-size="56.5" text-anchor="start" fill="#a84f06">ALD-50</text>
<path d="M1539 449.8 H1662" stroke="#ff7e00" stroke-width="16.3" stroke-linecap="round" fill="none"/>
<text transform="translate(1676.5 467.9) scale(0.970 1)" font-size="56.5" text-anchor="start" fill="#ff7e00">ALD-30</text>
<path d="M1539 511.2 H1662" stroke="#fb8a06" stroke-width="16.3" stroke-linecap="round" fill="none"/>
<text transform="translate(1676.5 529.3) scale(0.970 1)" font-size="56.5" text-anchor="start" fill="#fb8a06">ALD-10</text>
<path d="M1539 572.7 H1662" stroke="#4f4f4f" stroke-width="16.3" stroke-linecap="round" fill="none"/>
<text transform="translate(1676.5 590.8) scale(0.970 1)" font-size="56.5" text-anchor="start" fill="#4f4f4f">As-dep</text>
</g>
</svg>
</body></html>
